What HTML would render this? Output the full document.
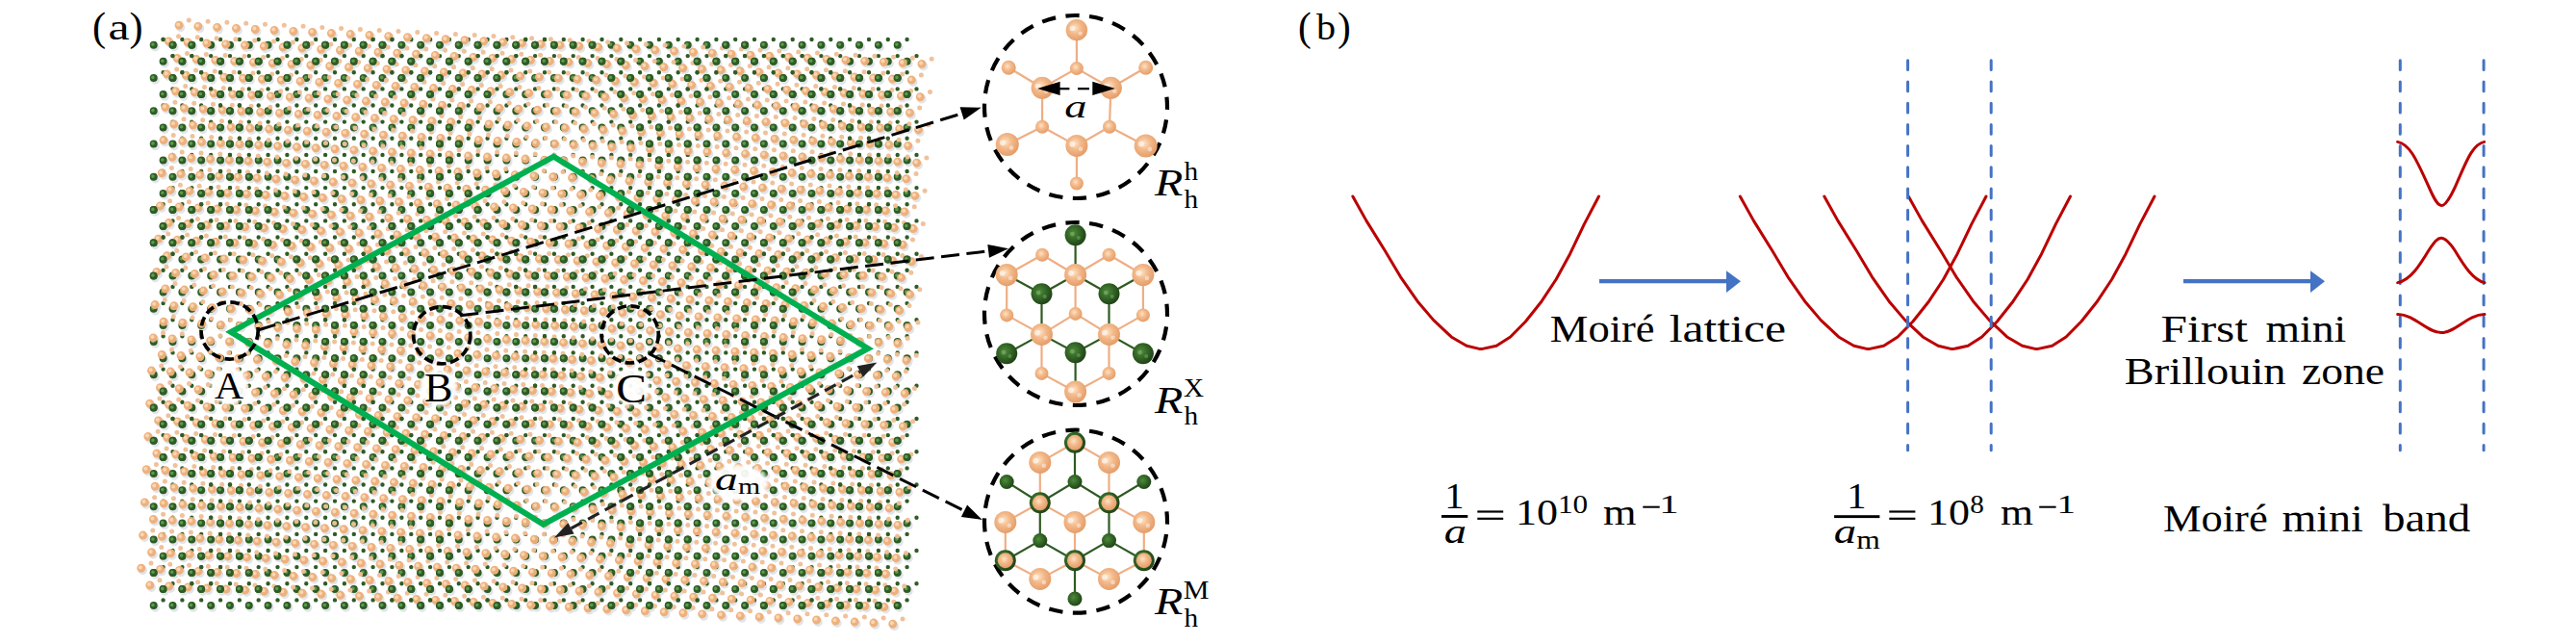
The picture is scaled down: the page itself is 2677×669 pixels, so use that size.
<!DOCTYPE html><html><head><meta charset="utf-8"><style>html,body{margin:0;padding:0;background:#fff;width:2677px;height:669px;overflow:hidden}svg{position:absolute;left:0;top:0}text{font-family:"Liberation Serif",serif;fill:#000}</style></head><body>
<svg width="2677" height="669" viewBox="0 0 2677 669">
<defs>
<radialGradient id="gO2" cx="0.42" cy="0.4" r="0.62"><stop offset="0" stop-color="#fde3c6"/><stop offset="0.45" stop-color="#f3b98a"/><stop offset="1" stop-color="#e49c68"/></radialGradient>
<radialGradient id="gG2" cx="0.4" cy="0.4" r="0.65"><stop offset="0" stop-color="#4e8a3c"/><stop offset="0.6" stop-color="#2e5e22"/><stop offset="1" stop-color="#1e3f16"/></radialGradient>
<radialGradient id="halo"><stop offset="0" stop-color="#fff" stop-opacity="0.95"/><stop offset="0.8" stop-color="#fff" stop-opacity="0.92"/><stop offset="1" stop-color="#fff" stop-opacity="0"/></radialGradient>

</defs>
<path fill="none" stroke="#e1e5ea" stroke-width="9.4" stroke-linecap="round" d="M187.7 28.5h0m19.8 1.1h0m19.8 1h0m19.8 1h0m19.8 1.1h0m19.8 1h0m19.8 1h0m19.8 1h0m19.7 1.1h0m19.8 1h0m19.8 1h0m19.8 1.1h0m19.8 1h0m19.8 1h0m19.8 1.1h0m19.8 1h0m19.8 1h0m19.8 1.1h0m19.8 1h0m19.8 1h0m19.8 1h0m19.8 1.1h0m19.8 1h0m19.7 1h0m19.8 1.1h0m19.8 1h0m19.8 1h0m19.8 1.1h0m19.8 1h0m19.8 1h0m19.8 1h0m19.8 1.1h0m19.8 1h0m19.8 1h0m19.8 1.1h0m19.8 1h0m19.8 1h0m19.8 1.1h0m19.7 1h0m19.8 1h0m-782.7 -23.6h0m19.8 1.1h0m19.8 1h0m19.8 1h0m19.8 1.1h0m19.8 1h0m19.8 1h0m19.8 1h0m19.8 1.1h0m19.8 1h0m19.7 1h0m19.8 1.1h0m19.8 1h0m19.8 1h0m19.8 1.1h0m19.8 1h0m19.8 1h0m19.8 1h0m19.8 1.1h0m19.8 1h0m19.8 1h0m19.8 1.1h0m19.8 1h0m19.8 1h0m19.8 1.1h0m19.7 1h0m19.8 1h0m19.8 1h0m19.8 1.1h0m19.8 1h0m19.8 1h0m19.8 1.1h0m19.8 1h0m19.8 1h0m19.8 1.1h0m19.8 1h0m19.8 1h0m19.8 1.1h0m19.8 1h0m19.8 1h0m-763 -22.5h0m19.8 1h0m19.8 1h0m19.8 1h0m19.8 1.1h0m19.8 1h0m19.8 1h0m19.8 1.1h0m19.8 1h0m19.8 1h0m19.8 1.1h0m19.7 1h0m19.8 1h0m19.8 1h0m19.8 1.1h0m19.8 1h0m19.8 1h0m19.8 1.1h0m19.8 1h0m19.8 1h0m19.8 1.1h0m19.8 1h0m19.8 1h0m19.8 1h0m19.8 1.1h0m19.8 1h0m19.7 1h0m19.8 1.1h0m19.8 1h0m19.8 1h0m19.8 1.1h0m19.8 1h0m19.8 1h0m19.8 1.1h0m19.8 1h0m19.8 1h0m19.8 1h0m19.8 1.1h0m19.8 1h0m19.8 1h0m-782.8 -23.6h0m19.8 1.1h0m19.8 1h0m19.8 1h0m19.8 1.1h0m19.8 1h0m19.8 1h0m19.8 1.1h0m19.8 1h0m19.8 1h0m19.8 1h0m19.8 1.1h0m19.8 1h0m19.7 1h0m19.8 1.1h0m19.8 1h0m19.8 1h0m19.8 1.1h0m19.8 1h0m19.8 1h0m19.8 1.1h0m19.8 1h0m19.8 1h0m19.8 1h0m19.8 1.1h0m19.8 1h0m19.8 1h0m19.8 1.1h0m19.7 1h0m19.8 1h0m19.8 1.1h0m19.8 1h0m19.8 1h0m19.8 1h0m19.8 1.1h0m19.8 1h0m19.8 1h0m19.8 1.1h0m19.8 1h0m19.8 1h0m-763 -22.5h0m19.8 1h0m19.8 1h0m19.8 1.1h0m19.8 1h0m19.8 1h0m19.8 1h0m19.8 1.1h0m19.8 1h0m19.8 1h0m19.8 1.1h0m19.8 1h0m19.8 1h0m19.8 1.1h0m19.7 1h0m19.8 1h0m19.8 1.1h0m19.8 1h0m19.8 1h0m19.8 1h0m19.8 1.1h0m19.8 1h0m19.8 1h0m19.8 1.1h0m19.8 1h0m19.8 1h0m19.8 1.1h0m19.8 1h0m19.8 1h0m19.7 1h0m19.8 1.1h0m19.8 1h0m19.8 1h0m19.8 1.1h0m19.8 1h0m19.8 1h0m19.8 1.1h0m19.8 1h0m19.8 1h0m19.8 1h0m-782.7 -23.5h0m19.7 1h0m19.8 1h0m19.8 1h0m19.8 1.1h0m19.8 1h0m19.8 1h0m19.8 1.1h0m19.8 1h0m19.8 1h0m19.8 1.1h0m19.8 1h0m19.8 1h0m19.8 1.1h0m19.8 1h0m19.8 1h0m19.7 1h0m19.8 1.1h0m19.8 1h0m19.8 1h0m19.8 1.1h0m19.8 1h0m19.8 1h0m19.8 1.1h0m19.8 1h0m19.8 1h0m19.8 1h0m19.8 1.1h0m19.8 1h0m19.8 1h0m19.8 1.1h0m19.7 1h0m19.8 1h0m19.8 1.1h0m19.8 1h0m19.8 1h0m19.8 1.1h0m19.8 1h0m19.8 1h0m19.8 1h0m-762.9 -22.5h0m19.8 1h0m19.7 1h0m19.8 1.1h0m19.8 1h0m19.8 1h0m19.8 1.1h0m19.8 1h0m19.8 1h0m19.8 1.1h0m19.8 1h0m19.8 1h0m19.8 1h0m19.8 1.1h0m19.8 1h0m19.8 1h0m19.8 1.1h0m19.7 1h0m19.8 1h0m19.8 1.1h0m19.8 1h0m19.8 1h0m19.8 1h0m19.8 1.1h0m19.8 1h0m19.8 1h0m19.8 1.1h0m19.8 1h0m19.8 1h0m19.8 1.1h0m19.8 1h0m19.7 1h0m19.8 1.1h0m19.8 1h0m19.8 1h0m19.8 1h0m19.8 1.1h0m19.8 1h0m19.8 1h0m19.8 1.1h0m-782.7 -23.6h0m19.8 1h0m19.8 1h0m19.8 1.1h0m19.7 1h0m19.8 1h0m19.8 1.1h0m19.8 1h0m19.8 1h0m19.8 1h0m19.8 1.1h0m19.8 1h0m19.8 1h0m19.8 1.1h0m19.8 1h0m19.8 1h0m19.8 1.1h0m19.8 1h0m19.8 1h0m19.7 1h0m19.8 1.1h0m19.8 1h0m19.8 1h0m19.8 1.1h0m19.8 1h0m19.8 1h0m19.8 1.1h0m19.8 1h0m19.8 1h0m19.8 1.1h0m19.8 1h0m19.8 1h0m19.8 1h0m19.7 1.1h0m19.8 1h0m19.8 1h0m19.8 1.1h0m19.8 1h0m19.8 1h0m19.8 1.1h0m-762.9 -22.6h0m19.8 1h0m19.8 1.1h0m19.8 1h0m19.8 1h0m19.7 1h0m19.8 1.1h0m19.8 1h0m19.8 1h0m19.8 1.1h0m19.8 1h0m19.8 1h0m19.8 1.1h0m19.8 1h0m19.8 1h0m19.8 1h0m19.8 1.1h0m19.8 1h0m19.8 1h0m19.7 1.1h0m19.8 1h0m19.8 1h0m19.8 1.1h0m19.8 1h0m19.8 1h0m19.8 1.1h0m19.8 1h0m19.8 1h0m19.8 1h0m19.8 1.1h0m19.8 1h0m19.8 1h0m19.8 1.1h0m19.8 1h0m19.7 1h0m19.8 1.1h0m19.8 1h0m19.8 1h0m19.8 1h0m19.8 1.1h0m-782.7 -23.6h0m19.8 1h0m19.8 1h0m19.8 1.1h0m19.8 1h0m19.8 1h0m19.8 1.1h0m19.7 1h0m19.8 1h0m19.8 1.1h0m19.8 1h0m19.8 1h0m19.8 1h0m19.8 1.1h0m19.8 1h0m19.8 1h0m19.8 1.1h0m19.8 1h0m19.8 1h0m19.8 1.1h0m19.8 1h0m19.7 1h0m19.8 1.1h0m19.8 1h0m19.8 1h0m19.8 1h0m19.8 1.1h0m19.8 1h0m19.8 1h0m19.8 1.1h0m19.8 1h0m19.8 1h0m19.8 1.1h0m19.8 1h0m19.8 1h0m19.8 1h0m19.7 1.1h0m19.8 1h0m19.8 1h0m19.8 1.1h0m-762.9 -22.6h0m19.8 1h0m19.8 1.1h0m19.8 1h0m19.8 1h0m19.8 1.1h0m19.8 1h0m19.8 1h0m19.7 1h0m19.8 1.1h0m19.8 1h0m19.8 1h0m19.8 1.1h0m19.8 1h0m19.8 1h0m19.8 1.1h0m19.8 1h0m19.8 1h0m19.8 1.1h0m19.8 1h0m19.8 1h0m19.8 1h0m19.7 1.1h0m19.8 1h0m19.8 1h0m19.8 1.1h0m19.8 1h0m19.8 1h0m19.8 1.1h0m19.8 1h0m19.8 1h0m19.8 1h0m19.8 1.1h0m19.8 1h0m19.8 1h0m19.8 1.1h0m19.8 1h0m19.7 1h0m19.8 1.1h0m19.8 1h0m-782.7 -23.6h0m19.8 1h0m19.8 1.1h0m19.8 1h0m19.8 1h0m19.8 1h0m19.8 1.1h0m19.8 1h0m19.8 1h0m19.7 1.1h0m19.8 1h0m19.8 1h0m19.8 1.1h0m19.8 1h0m19.8 1h0m19.8 1.1h0m19.8 1h0m19.8 1h0m19.8 1h0m19.8 1.1h0m19.8 1h0m19.8 1h0m19.8 1.1h0m19.8 1h0m19.7 1h0m19.8 1.1h0m19.8 1h0m19.8 1h0m19.8 1h0m19.8 1.1h0m19.8 1h0m19.8 1h0m19.8 1.1h0m19.8 1h0m19.8 1h0m19.8 1.1h0m19.8 1h0m19.8 1h0m19.8 1.1h0m19.7 1h0m-762.9 -22.6h0m19.8 1h0m19.8 1.1h0m19.8 1h0m19.8 1h0m19.8 1.1h0m19.8 1h0m19.8 1h0m19.8 1.1h0m19.8 1h0m19.7 1h0m19.8 1.1h0m19.8 1h0m19.8 1h0m19.8 1h0m19.8 1.1h0m19.8 1h0m19.8 1h0m19.8 1.1h0m19.8 1h0m19.8 1h0m19.8 1.1h0m19.8 1h0m19.8 1h0m19.8 1h0m19.7 1.1h0m19.8 1h0m19.8 1h0m19.8 1.1h0m19.8 1h0m19.8 1h0m19.8 1.1h0m19.8 1h0m19.8 1h0m19.8 1.1h0m19.8 1h0m19.8 1h0m19.8 1h0m19.8 1.1h0m19.8 1h0m-782.8 -23.6h0m19.8 1h0m19.8 1.1h0m19.8 1h0m19.8 1h0m19.8 1.1h0m19.8 1h0m19.8 1h0m19.8 1.1h0m19.8 1h0m19.8 1h0m19.8 1h0m19.7 1.1h0m19.8 1h0m19.8 1h0m19.8 1.1h0m19.8 1h0m19.8 1h0m19.8 1.1h0m19.8 1h0m19.8 1h0m19.8 1h0m19.8 1.1h0m19.8 1h0m19.8 1h0m19.8 1.1h0m19.8 1h0m19.7 1h0m19.8 1.1h0m19.8 1h0m19.8 1h0m19.8 1.1h0m19.8 1h0m19.8 1h0m19.8 1h0m19.8 1.1h0m19.8 1h0m19.8 1h0m19.8 1.1h0m19.8 1h0m-763 -22.6h0m19.8 1.1h0m19.8 1h0m19.8 1h0m19.8 1.1h0m19.8 1h0m19.8 1h0m19.8 1h0m19.8 1.1h0m19.8 1h0m19.8 1h0m19.8 1.1h0m19.8 1h0m19.7 1h0m19.8 1.1h0m19.8 1h0m19.8 1h0m19.8 1h0m19.8 1.1h0m19.8 1h0m19.8 1h0m19.8 1.1h0m19.8 1h0m19.8 1h0m19.8 1.1h0m19.8 1h0m19.8 1h0m19.8 1.1h0m19.7 1h0m19.8 1h0m19.8 1h0m19.8 1.1h0m19.8 1h0m19.8 1h0m19.8 1.1h0m19.8 1h0m19.8 1h0m19.8 1.1h0m19.8 1h0m19.8 1h0m-782.8 -23.6h0m19.8 1.1h0m19.8 1h0m19.8 1h0m19.8 1h0m19.8 1.1h0m19.8 1h0m19.8 1h0m19.8 1.1h0m19.8 1h0m19.8 1h0m19.8 1.1h0m19.8 1h0m19.8 1h0m19.8 1h0m19.7 1.1h0m19.8 1h0m19.8 1h0m19.8 1.1h0m19.8 1h0m19.8 1h0m19.8 1.1h0m19.8 1h0m19.8 1h0m19.8 1.1h0m19.8 1h0m19.8 1h0m19.8 1h0m19.8 1.1h0m19.8 1h0m19.7 1h0m19.8 1.1h0m19.8 1h0m19.8 1h0m19.8 1.1h0m19.8 1h0m19.8 1h0m19.8 1h0m19.8 1.1h0m19.8 1h0m-762.9 -22.6h0m19.7 1.1h0m19.8 1h0m19.8 1h0m19.8 1.1h0m19.8 1h0m19.8 1h0m19.8 1.1h0m19.8 1h0m19.8 1h0m19.8 1.1h0m19.8 1h0m19.8 1h0m19.8 1h0m19.8 1.1h0m19.8 1h0m19.7 1h0m19.8 1.1h0m19.8 1h0m19.8 1h0m19.8 1.1h0m19.8 1h0m19.8 1h0m19.8 1h0m19.8 1.1h0m19.8 1h0m19.8 1h0m19.8 1.1h0m19.8 1h0m19.8 1h0m19.8 1.1h0m19.7 1h0m19.8 1h0m19.8 1h0m19.8 1.1h0m19.8 1h0m19.8 1h0m19.8 1.1h0m19.8 1h0m19.8 1h0m-782.7 -23.6h0m19.8 1.1h0m19.8 1h0m19.7 1h0m19.8 1.1h0m19.8 1h0m19.8 1h0m19.8 1.1h0m19.8 1h0m19.8 1h0m19.8 1h0m19.8 1.1h0m19.8 1h0m19.8 1h0m19.8 1.1h0m19.8 1h0m19.8 1h0m19.8 1.1h0m19.7 1h0m19.8 1h0m19.8 1h0m19.8 1.1h0m19.8 1h0m19.8 1h0m19.8 1.1h0m19.8 1h0m19.8 1h0m19.8 1.1h0m19.8 1h0m19.8 1h0m19.8 1h0m19.8 1.1h0m19.8 1h0m19.7 1h0m19.8 1.1h0m19.8 1h0m19.8 1h0m19.8 1.1h0m19.8 1h0m19.8 1h0m-762.9 -22.5h0m19.8 1h0m19.8 1h0m19.8 1.1h0m19.7 1h0m19.8 1h0m19.8 1h0m19.8 1.1h0m19.8 1h0m19.8 1h0m19.8 1.1h0m19.8 1h0m19.8 1h0m19.8 1.1h0m19.8 1h0m19.8 1h0m19.8 1h0m19.8 1.1h0m19.8 1h0m19.7 1h0m19.8 1.1h0m19.8 1h0m19.8 1h0m19.8 1.1h0m19.8 1h0m19.8 1h0m19.8 1.1h0m19.8 1h0m19.8 1h0m19.8 1h0m19.8 1.1h0m19.8 1h0m19.8 1h0m19.7 1.1h0m19.8 1h0m19.8 1h0m19.8 1.1h0m19.8 1h0m19.8 1h0m19.8 1h0m-782.7 -23.5h0m19.8 1h0m19.8 1h0m19.8 1h0m19.8 1.1h0m19.8 1h0m19.7 1h0m19.8 1.1h0m19.8 1h0m19.8 1h0m19.8 1.1h0m19.8 1h0m19.8 1h0m19.8 1h0m19.8 1.1h0m19.8 1h0m19.8 1h0m19.8 1.1h0m19.8 1h0m19.8 1h0m19.8 1.1h0m19.7 1h0m19.8 1h0m19.8 1.1h0m19.8 1h0m19.8 1h0m19.8 1h0m19.8 1.1h0m19.8 1h0m19.8 1h0m19.8 1.1h0m19.8 1h0m19.8 1h0m19.8 1.1h0m19.8 1h0m19.7 1h0m19.8 1h0m19.8 1.1h0m19.8 1h0m19.8 1h0m-762.9 -22.5h0m19.8 1h0m19.8 1h0m19.8 1.1h0m19.8 1h0m19.8 1h0m19.8 1.1h0m19.7 1h0m19.8 1h0m19.8 1h0m19.8 1.1h0m19.8 1h0m19.8 1h0m19.8 1.1h0m19.8 1h0m19.8 1h0m19.8 1.1h0m19.8 1h0m19.8 1h0m19.8 1.1h0m19.8 1h0m19.7 1h0m19.8 1h0m19.8 1.1h0m19.8 1h0m19.8 1h0m19.8 1.1h0m19.8 1h0m19.8 1h0m19.8 1.1h0m19.8 1h0m19.8 1h0m19.8 1h0m19.8 1.1h0m19.8 1h0m19.8 1h0m19.7 1.1h0m19.8 1h0m19.8 1h0m19.8 1.1h0m-782.7 -23.6h0m19.8 1h0m19.8 1h0m19.8 1.1h0m19.8 1h0m19.8 1h0m19.8 1h0m19.8 1.1h0m19.8 1h0m19.7 1h0m19.8 1.1h0m19.8 1h0m19.8 1h0m19.8 1.1h0m19.8 1h0m19.8 1h0m19.8 1.1h0m19.8 1h0m19.8 1h0m19.8 1h0m19.8 1.1h0m19.8 1h0m19.8 1h0m19.7 1.1h0m19.8 1h0m19.8 1h0m19.8 1.1h0m19.8 1h0m19.8 1h0m19.8 1h0m19.8 1.1h0m19.8 1h0m19.8 1h0m19.8 1.1h0m19.8 1h0m19.8 1h0m19.8 1.1h0m19.8 1h0m19.7 1h0m19.8 1.1h0m-762.9 -22.6h0m19.8 1h0m19.8 1h0m19.8 1.1h0m19.8 1h0m19.8 1h0m19.8 1.1h0m19.8 1h0m19.8 1h0m19.8 1.1h0m19.7 1h0m19.8 1h0m19.8 1.1h0m19.8 1h0m19.8 1h0m19.8 1h0m19.8 1.1h0m19.8 1h0m19.8 1h0m19.8 1.1h0m19.8 1h0m19.8 1h0m19.8 1.1h0m19.8 1h0m19.7 1h0m19.8 1h0m19.8 1.1h0m19.8 1h0m19.8 1h0m19.8 1.1h0m19.8 1h0m19.8 1h0m19.8 1.1h0m19.8 1h0m19.8 1h0m19.8 1.1h0m19.8 1h0m19.8 1h0m19.8 1h0m19.7 1.1h0m-782.7 -23.6h0m19.8 1h0m19.8 1h0m19.8 1.1h0m19.8 1h0m19.8 1h0m19.8 1.1h0m19.8 1h0m19.8 1h0m19.8 1.1h0m19.8 1h0m19.7 1h0m19.8 1h0m19.8 1.1h0m19.8 1h0m19.8 1h0m19.8 1.1h0m19.8 1h0m19.8 1h0m19.8 1.1h0m19.8 1h0m19.8 1h0m19.8 1h0m19.8 1.1h0m19.8 1h0m19.8 1h0m19.7 1.1h0m19.8 1h0m19.8 1h0m19.8 1.1h0m19.8 1h0m19.8 1h0m19.8 1.1h0m19.8 1h0m19.8 1h0m19.8 1h0m19.8 1.1h0m19.8 1h0m19.8 1h0m19.8 1.1h0m-763 -22.6h0m19.8 1h0m19.8 1.1h0m19.8 1h0m19.8 1h0m19.8 1.1h0m19.8 1h0m19.8 1h0m19.8 1h0m19.8 1.1h0m19.8 1h0m19.8 1h0m19.7 1.1h0m19.8 1h0m19.8 1h0m19.8 1.1h0m19.8 1h0m19.8 1h0m19.8 1h0m19.8 1.1h0m19.8 1h0m19.8 1h0m19.8 1.1h0m19.8 1h0m19.8 1h0m19.8 1.1h0m19.8 1h0m19.7 1h0m19.8 1.1h0m19.8 1h0m19.8 1h0m19.8 1h0m19.8 1.1h0m19.8 1h0m19.8 1h0m19.8 1.1h0m19.8 1h0m19.8 1h0m19.8 1.1h0m19.8 1h0m-782.8 -23.6h0m19.8 1h0m19.8 1.1h0m19.8 1h0m19.8 1h0m19.8 1h0m19.8 1.1h0m19.8 1h0m19.8 1h0m19.8 1.1h0m19.8 1h0m19.8 1h0m19.8 1.1h0m19.8 1h0m19.7 1h0m19.8 1h0m19.8 1.1h0m19.8 1h0m19.8 1h0m19.8 1.1h0m19.8 1h0m19.8 1h0m19.8 1.1h0m19.8 1h0m19.8 1h0m19.8 1.1h0m19.8 1h0m19.8 1h0m19.8 1h0m19.7 1.1h0m19.8 1h0m19.8 1h0m19.8 1.1h0m19.8 1h0m19.8 1h0m19.8 1.1h0m19.8 1h0m19.8 1h0m19.8 1h0m19.8 1.1h0m-763 -22.6h0m19.8 1h0m19.8 1.1h0m19.8 1h0m19.8 1h0m19.8 1.1h0m19.8 1h0m19.8 1h0m19.8 1.1h0m19.8 1h0m19.8 1h0m19.8 1h0m19.8 1.1h0m19.8 1h0m19.8 1h0m19.7 1.1h0m19.8 1h0m19.8 1h0m19.8 1.1h0m19.8 1h0m19.8 1h0m19.8 1.1h0m19.8 1h0m19.8 1h0m19.8 1h0m19.8 1.1h0m19.8 1h0m19.8 1h0m19.8 1.1h0m19.8 1h0m19.7 1h0m19.8 1.1h0m19.8 1h0m19.8 1h0m19.8 1h0m19.8 1.1h0m19.8 1h0m19.8 1h0m19.8 1.1h0m19.8 1h0m-782.7 -23.6h0m19.8 1h0m19.7 1.1h0m19.8 1h0m19.8 1h0m19.8 1.1h0m19.8 1h0m19.8 1h0m19.8 1h0m19.8 1.1h0m19.8 1h0m19.8 1h0m19.8 1.1h0m19.8 1h0m19.8 1h0m19.8 1.1h0m19.8 1h0m19.7 1h0m19.8 1.1h0m19.8 1h0m19.8 1h0m19.8 1h0m19.8 1.1h0m19.8 1h0m19.8 1h0m19.8 1.1h0m19.8 1h0m19.8 1h0m19.8 1.1h0m19.8 1h0m19.8 1h0m19.8 1h0m19.7 1.1h0m19.8 1h0m19.8 1h0m19.8 1.1h0m19.8 1h0m19.8 1h0m19.8 1.1h0m19.8 1h0m-762.9 -22.6h0m19.8 1.1h0m19.8 1h0m19.7 1h0m19.8 1.1h0m19.8 1h0m19.8 1h0m19.8 1h0m19.8 1.1h0m19.8 1h0m19.8 1h0m19.8 1.1h0m19.8 1h0m19.8 1h0m19.8 1.1h0m19.8 1h0m19.8 1h0m19.8 1h0m19.7 1.1h0m19.8 1h0m19.8 1h0m19.8 1.1h0m19.8 1h0m19.8 1h0m19.8 1.1h0m19.8 1h0m19.8 1h0m19.8 1h0m19.8 1.1h0m19.8 1h0m19.8 1h0m19.8 1.1h0m19.8 1h0m19.7 1h0m19.8 1.1h0m19.8 1h0m19.8 1h0m19.8 1.1h0m19.8 1h0m19.8 1h0m-782.7 -23.6h0m19.8 1.1h0m19.8 1h0m19.8 1h0m19.8 1h0m19.7 1.1h0m19.8 1h0m19.8 1h0m19.8 1.1h0m19.8 1h0m19.8 1h0m19.8 1.1h0m19.8 1h0m19.8 1h0m19.8 1h0m19.8 1.1h0m19.8 1h0m19.8 1h0m19.8 1.1h0m19.8 1h0m19.7 1h0m19.8 1.1h0m19.8 1h0m19.8 1h0m19.8 1h0m19.8 1.1h0m19.8 1h0m19.8 1h0m19.8 1.1h0m19.8 1h0m19.8 1h0m19.8 1.1h0m19.8 1h0m19.8 1h0m19.7 1.1h0m19.8 1h0m19.8 1h0m19.8 1h0m19.8 1.1h0m19.8 1h0m-762.9 -22.6h0m19.8 1.1h0m19.8 1h0m19.8 1h0m19.8 1.1h0m19.8 1h0m19.7 1h0m19.8 1.1h0m19.8 1h0m19.8 1h0m19.8 1h0m19.8 1.1h0m19.8 1h0m19.8 1h0m19.8 1.1h0m19.8 1h0m19.8 1h0m19.8 1.1h0m19.8 1h0m19.8 1h0m19.8 1.1h0m19.7 1h0m19.8 1h0m19.8 1h0m19.8 1.1h0m19.8 1h0m19.8 1h0m19.8 1.1h0m19.8 1h0m19.8 1h0m19.8 1.1h0m19.8 1h0m19.8 1h0m19.8 1h0m19.8 1.1h0m19.7 1h0m19.8 1h0m19.8 1.1h0m19.8 1h0m19.8 1h0m-782.7 -23.6h0m19.8 1.1h0m19.8 1h0m19.8 1h0m19.8 1.1h0m19.8 1h0m19.8 1h0m19.8 1h0m19.7 1.1h0m19.8 1h0m19.8 1h0m19.8 1.1h0m19.8 1h0m19.8 1h0m19.8 1.1h0m19.8 1h0m19.8 1h0m19.8 1.1h0m19.8 1h0m19.8 1h0m19.8 1h0m19.8 1.1h0m19.8 1h0m19.7 1h0m19.8 1.1h0m19.8 1h0m19.8 1h0m19.8 1.1h0m19.8 1h0m19.8 1h0m19.8 1h0m19.8 1.1h0m19.8 1h0m19.8 1h0m19.8 1.1h0m19.8 1h0m19.8 1h0m19.7 1.1h0m19.8 1h0m19.8 1h0m-762.9 -22.5h0m19.8 1h0m19.8 1h0m19.8 1h0m19.8 1.1h0m19.8 1h0m19.8 1h0m19.8 1.1h0m19.8 1h0m19.7 1h0m19.8 1.1h0m19.8 1h0m19.8 1h0m19.8 1.1h0m19.8 1h0m19.8 1h0m19.8 1h0m19.8 1.1h0m19.8 1h0m19.8 1h0m19.8 1.1h0m19.8 1h0m19.8 1h0m19.7 1.1h0m19.8 1h0m19.8 1h0m19.8 1h0m19.8 1.1h0m19.8 1h0m19.8 1h0m19.8 1.1h0m19.8 1h0m19.8 1h0m19.8 1.1h0m19.8 1h0m19.8 1h0m19.8 1h0m19.8 1.1h0m19.7 1h0m19.8 1h0m-782.7 -23.6h0m19.8 1.1h0m19.8 1h0m19.8 1h0m19.8 1.1h0m19.8 1h0m19.8 1h0m19.8 1.1h0m19.8 1h0m19.8 1h0m19.8 1.1h0m19.7 1h0m19.8 1h0m19.8 1h0m19.8 1.1h0m19.8 1h0m19.8 1h0m19.8 1.1h0m19.8 1h0m19.8 1h0m19.8 1.1h0m19.8 1h0m19.8 1h0m19.8 1h0m19.8 1.1h0m19.7 1h0m19.8 1h0m19.8 1.1h0m19.8 1h0m19.8 1h0m19.8 1.1h0m19.8 1h0m19.8 1h0m19.8 1.1h0m19.8 1h0m19.8 1h0m19.8 1h0m19.8 1.1h0m19.8 1h0m19.8 1h0m-763 -22.5h0m19.8 1h0m19.8 1h0m19.8 1.1h0m19.8 1h0m19.8 1h0m19.8 1.1h0m19.8 1h0m19.8 1h0m19.8 1h0m19.8 1.1h0m19.8 1h0m19.7 1h0m19.8 1.1h0m19.8 1h0m19.8 1h0m19.8 1.1h0m19.8 1h0m19.8 1h0m19.8 1h0m19.8 1.1h0m19.8 1h0m19.8 1h0m19.8 1.1h0m19.8 1h0m19.8 1h0m19.7 1.1h0m19.8 1h0m19.8 1h0m19.8 1.1h0m19.8 1h0m19.8 1h0m19.8 1h0m19.8 1.1h0m19.8 1h0m19.8 1h0m19.8 1.1h0m19.8 1h0m19.8 1h0m19.8 1.1h0"/>
<path fill="none" stroke="#e1e5ea" stroke-width="9.0" stroke-linecap="round" d="M161.3 48.9h0m19.8 0h0m19.8 0h0m19.9 0h0m19.8 0h0m19.8 0h0m19.8 0h0m19.8 0h0m19.9 0h0m19.8 0h0m19.8 0h0m19.8 0h0m19.8 0h0m19.9 0h0m19.8 0h0m19.8 0h0m19.8 0h0m19.8 0h0m19.9 0h0m19.8 0h0m19.8 0h0m19.8 0h0m19.8 0h0m19.9 0h0m19.8 0h0m19.8 0h0m19.8 0h0m19.8 0h0m19.9 0h0m19.8 0h0m19.8 0h0m19.8 0h0m19.8 0h0m19.9 0h0m19.8 0h0m19.8 0h0m19.8 0h0m19.8 0h0m19.9 0h0m19.8 0h0m-763.1 17.1h0m19.8 0h0m19.8 0h0m19.9 0h0m19.8 0h0m19.8 0h0m19.8 0h0m19.9 0h0m19.8 0h0m19.8 0h0m19.8 0h0m19.8 0h0m19.8 0h0m19.9 0h0m19.8 0h0m19.8 0h0m19.8 0h0m19.9 0h0m19.8 0h0m19.8 0h0m19.8 0h0m19.8 0h0m19.8 0h0m19.9 0h0m19.8 0h0m19.8 0h0m19.8 0h0m19.8 0h0m19.9 0h0m19.8 0h0m19.8 0h0m19.8 0h0m19.8 0h0m19.9 0h0m19.8 0h0m19.8 0h0m19.8 0h0m19.9 0h0m19.8 0h0m19.8 0h0m-782.9 17.2h0m19.8 0h0m19.8 0h0m19.9 0h0m19.8 0h0m19.8 0h0m19.8 0h0m19.8 0h0m19.9 0h0m19.8 0h0m19.8 0h0m19.8 0h0m19.8 0h0m19.9 0h0m19.8 0h0m19.8 0h0m19.8 0h0m19.8 0h0m19.9 0h0m19.8 0h0m19.8 0h0m19.8 0h0m19.8 0h0m19.9 0h0m19.8 0h0m19.8 0h0m19.8 0h0m19.8 0h0m19.9 0h0m19.8 0h0m19.8 0h0m19.8 0h0m19.8 0h0m19.9 0h0m19.8 0h0m19.8 0h0m19.8 0h0m19.8 0h0m19.9 0h0m19.8 0h0m-763.1 17.1h0m19.8 0h0m19.8 0h0m19.9 0h0m19.8 0h0m19.8 0h0m19.8 0h0m19.9 0h0m19.8 0h0m19.8 0h0m19.8 0h0m19.8 0h0m19.8 0h0m19.9 0h0m19.8 0h0m19.8 0h0m19.8 0h0m19.9 0h0m19.8 0h0m19.8 0h0m19.8 0h0m19.8 0h0m19.8 0h0m19.9 0h0m19.8 0h0m19.8 0h0m19.8 0h0m19.8 0h0m19.9 0h0m19.8 0h0m19.8 0h0m19.8 0h0m19.8 0h0m19.9 0h0m19.8 0h0m19.8 0h0m19.8 0h0m19.9 0h0m19.8 0h0m19.8 0h0m-782.9 17.1h0m19.8 0h0m19.8 0h0m19.9 0h0m19.8 0h0m19.8 0h0m19.8 0h0m19.8 0h0m19.9 0h0m19.8 0h0m19.8 0h0m19.8 0h0m19.8 0h0m19.9 0h0m19.8 0h0m19.8 0h0m19.8 0h0m19.8 0h0m19.9 0h0m19.8 0h0m19.8 0h0m19.8 0h0m19.8 0h0m19.9 0h0m19.8 0h0m19.8 0h0m19.8 0h0m19.8 0h0m19.9 0h0m19.8 0h0m19.8 0h0m19.8 0h0m19.8 0h0m19.9 0h0m19.8 0h0m19.8 0h0m19.8 0h0m19.8 0h0m19.9 0h0m19.8 0h0m-763.1 17.1h0m19.8 0h0m19.8 0h0m19.9 0h0m19.8 0h0m19.8 0h0m19.8 0h0m19.9 0h0m19.8 0h0m19.8 0h0m19.8 0h0m19.8 0h0m19.8 0h0m19.9 0h0m19.8 0h0m19.8 0h0m19.8 0h0m19.9 0h0m19.8 0h0m19.8 0h0m19.8 0h0m19.8 0h0m19.8 0h0m19.9 0h0m19.8 0h0m19.8 0h0m19.8 0h0m19.8 0h0m19.9 0h0m19.8 0h0m19.8 0h0m19.8 0h0m19.8 0h0m19.9 0h0m19.8 0h0m19.8 0h0m19.8 0h0m19.9 0h0m19.8 0h0m19.8 0h0m-782.9 17.2h0m19.8 0h0m19.8 0h0m19.9 0h0m19.8 0h0m19.8 0h0m19.8 0h0m19.8 0h0m19.9 0h0m19.8 0h0m19.8 0h0m19.8 0h0m19.8 0h0m19.9 0h0m19.8 0h0m19.8 0h0m19.8 0h0m19.8 0h0m19.9 0h0m19.8 0h0m19.8 0h0m19.8 0h0m19.8 0h0m19.9 0h0m19.8 0h0m19.8 0h0m19.8 0h0m19.8 0h0m19.9 0h0m19.8 0h0m19.8 0h0m19.8 0h0m19.8 0h0m19.9 0h0m19.8 0h0m19.8 0h0m19.8 0h0m19.8 0h0m19.9 0h0m19.8 0h0m-763.1 17.1h0m19.8 0h0m19.8 0h0m19.9 0h0m19.8 0h0m19.8 0h0m19.8 0h0m19.9 0h0m19.8 0h0m19.8 0h0m19.8 0h0m19.8 0h0m19.8 0h0m19.9 0h0m19.8 0h0m19.8 0h0m19.8 0h0m19.9 0h0m19.8 0h0m19.8 0h0m19.8 0h0m19.8 0h0m19.8 0h0m19.9 0h0m19.8 0h0m19.8 0h0m19.8 0h0m19.8 0h0m19.9 0h0m19.8 0h0m19.8 0h0m19.8 0h0m19.8 0h0m19.9 0h0m19.8 0h0m19.8 0h0m19.8 0h0m19.9 0h0m19.8 0h0m19.8 0h0m-782.9 17.1h0m19.8 0h0m19.8 0h0m19.9 0h0m19.8 0h0m19.8 0h0m19.8 0h0m19.8 0h0m19.9 0h0m19.8 0h0m19.8 0h0m19.8 0h0m19.8 0h0m19.9 0h0m19.8 0h0m19.8 0h0m19.8 0h0m19.8 0h0m19.9 0h0m19.8 0h0m19.8 0h0m19.8 0h0m19.8 0h0m19.9 0h0m19.8 0h0m19.8 0h0m19.8 0h0m19.8 0h0m19.9 0h0m19.8 0h0m19.8 0h0m19.8 0h0m19.8 0h0m19.9 0h0m19.8 0h0m19.8 0h0m19.8 0h0m19.8 0h0m19.9 0h0m19.8 0h0m-763.1 17.2h0m19.8 0h0m19.8 0h0m19.9 0h0m19.8 0h0m19.8 0h0m19.8 0h0m19.9 0h0m19.8 0h0m19.8 0h0m19.8 0h0m19.8 0h0m19.8 0h0m19.9 0h0m19.8 0h0m19.8 0h0m19.8 0h0m19.9 0h0m19.8 0h0m19.8 0h0m19.8 0h0m19.8 0h0m19.8 0h0m19.9 0h0m19.8 0h0m19.8 0h0m19.8 0h0m19.8 0h0m19.9 0h0m19.8 0h0m19.8 0h0m19.8 0h0m19.8 0h0m19.9 0h0m19.8 0h0m19.8 0h0m19.8 0h0m19.9 0h0m19.8 0h0m19.8 0h0m-782.9 17.1h0m19.8 0h0m19.8 0h0m19.9 0h0m19.8 0h0m19.8 0h0m19.8 0h0m19.8 0h0m19.9 0h0m19.8 0h0m19.8 0h0m19.8 0h0m19.8 0h0m19.9 0h0m19.8 0h0m19.8 0h0m19.8 0h0m19.8 0h0m19.9 0h0m19.8 0h0m19.8 0h0m19.8 0h0m19.8 0h0m19.9 0h0m19.8 0h0m19.8 0h0m19.8 0h0m19.8 0h0m19.9 0h0m19.8 0h0m19.8 0h0m19.8 0h0m19.8 0h0m19.9 0h0m19.8 0h0m19.8 0h0m19.8 0h0m19.8 0h0m19.9 0h0m19.8 0h0m-763.1 17.1h0m19.8 0h0m19.8 0h0m19.9 0h0m19.8 0h0m19.8 0h0m19.8 0h0m19.9 0h0m19.8 0h0m19.8 0h0m19.8 0h0m19.8 0h0m19.8 0h0m19.9 0h0m19.8 0h0m19.8 0h0m19.8 0h0m19.9 0h0m19.8 0h0m19.8 0h0m19.8 0h0m19.8 0h0m19.8 0h0m19.9 0h0m19.8 0h0m19.8 0h0m19.8 0h0m19.8 0h0m19.9 0h0m19.8 0h0m19.8 0h0m19.8 0h0m19.8 0h0m19.9 0h0m19.8 0h0m19.8 0h0m19.8 0h0m19.9 0h0m19.8 0h0m19.8 0h0m-782.9 17.2h0m19.8 0h0m19.8 0h0m19.9 0h0m19.8 0h0m19.8 0h0m19.8 0h0m19.8 0h0m19.9 0h0m19.8 0h0m19.8 0h0m19.8 0h0m19.8 0h0m19.9 0h0m19.8 0h0m19.8 0h0m19.8 0h0m19.8 0h0m19.9 0h0m19.8 0h0m19.8 0h0m19.8 0h0m19.8 0h0m19.9 0h0m19.8 0h0m19.8 0h0m19.8 0h0m19.8 0h0m19.9 0h0m19.8 0h0m19.8 0h0m19.8 0h0m19.8 0h0m19.9 0h0m19.8 0h0m19.8 0h0m19.8 0h0m19.8 0h0m19.9 0h0m19.8 0h0m-763.1 17.1h0m19.8 0h0m19.8 0h0m19.9 0h0m19.8 0h0m19.8 0h0m19.8 0h0m19.9 0h0m19.8 0h0m19.8 0h0m19.8 0h0m19.8 0h0m19.8 0h0m19.9 0h0m19.8 0h0m19.8 0h0m19.8 0h0m19.9 0h0m19.8 0h0m19.8 0h0m19.8 0h0m19.8 0h0m19.8 0h0m19.9 0h0m19.8 0h0m19.8 0h0m19.8 0h0m19.8 0h0m19.9 0h0m19.8 0h0m19.8 0h0m19.8 0h0m19.8 0h0m19.9 0h0m19.8 0h0m19.8 0h0m19.8 0h0m19.9 0h0m19.8 0h0m19.8 0h0m-782.9 17.1h0m19.8 0h0m19.8 0h0m19.9 0h0m19.8 0h0m19.8 0h0m19.8 0h0m19.8 0h0m19.9 0h0m19.8 0h0m19.8 0h0m19.8 0h0m19.8 0h0m19.9 0h0m19.8 0h0m19.8 0h0m19.8 0h0m19.8 0h0m19.9 0h0m19.8 0h0m19.8 0h0m19.8 0h0m19.8 0h0m19.9 0h0m19.8 0h0m19.8 0h0m19.8 0h0m19.8 0h0m19.9 0h0m19.8 0h0m19.8 0h0m19.8 0h0m19.8 0h0m19.9 0h0m19.8 0h0m19.8 0h0m19.8 0h0m19.8 0h0m19.9 0h0m19.8 0h0m-763.1 17.1h0m19.8 0h0m19.8 0h0m19.9 0h0m19.8 0h0m19.8 0h0m19.8 0h0m19.9 0h0m19.8 0h0m19.8 0h0m19.8 0h0m19.8 0h0m19.8 0h0m19.9 0h0m19.8 0h0m19.8 0h0m19.8 0h0m19.9 0h0m19.8 0h0m19.8 0h0m19.8 0h0m19.8 0h0m19.8 0h0m19.9 0h0m19.8 0h0m19.8 0h0m19.8 0h0m19.8 0h0m19.9 0h0m19.8 0h0m19.8 0h0m19.8 0h0m19.8 0h0m19.9 0h0m19.8 0h0m19.8 0h0m19.8 0h0m19.9 0h0m19.8 0h0m19.8 0h0m-782.9 17.2h0m19.8 0h0m19.8 0h0m19.9 0h0m19.8 0h0m19.8 0h0m19.8 0h0m19.8 0h0m19.9 0h0m19.8 0h0m19.8 0h0m19.8 0h0m19.8 0h0m19.9 0h0m19.8 0h0m19.8 0h0m19.8 0h0m19.8 0h0m19.9 0h0m19.8 0h0m19.8 0h0m19.8 0h0m19.8 0h0m19.9 0h0m19.8 0h0m19.8 0h0m19.8 0h0m19.8 0h0m19.9 0h0m19.8 0h0m19.8 0h0m19.8 0h0m19.8 0h0m19.9 0h0m19.8 0h0m19.8 0h0m19.8 0h0m19.8 0h0m19.9 0h0m19.8 0h0m-763.1 17.1h0m19.8 0h0m19.8 0h0m19.9 0h0m19.8 0h0m19.8 0h0m19.8 0h0m19.9 0h0m19.8 0h0m19.8 0h0m19.8 0h0m19.8 0h0m19.8 0h0m19.9 0h0m19.8 0h0m19.8 0h0m19.8 0h0m19.9 0h0m19.8 0h0m19.8 0h0m19.8 0h0m19.8 0h0m19.8 0h0m19.9 0h0m19.8 0h0m19.8 0h0m19.8 0h0m19.8 0h0m19.9 0h0m19.8 0h0m19.8 0h0m19.8 0h0m19.8 0h0m19.9 0h0m19.8 0h0m19.8 0h0m19.8 0h0m19.9 0h0m19.8 0h0m19.8 0h0m-782.9 17.1h0m19.8 0h0m19.8 0h0m19.9 0h0m19.8 0h0m19.8 0h0m19.8 0h0m19.8 0h0m19.9 0h0m19.8 0h0m19.8 0h0m19.8 0h0m19.8 0h0m19.9 0h0m19.8 0h0m19.8 0h0m19.8 0h0m19.8 0h0m19.9 0h0m19.8 0h0m19.8 0h0m19.8 0h0m19.8 0h0m19.9 0h0m19.8 0h0m19.8 0h0m19.8 0h0m19.8 0h0m19.9 0h0m19.8 0h0m19.8 0h0m19.8 0h0m19.8 0h0m19.9 0h0m19.8 0h0m19.8 0h0m19.8 0h0m19.8 0h0m19.9 0h0m19.8 0h0m-763.1 17.2h0m19.8 0h0m19.8 0h0m19.9 0h0m19.8 0h0m19.8 0h0m19.8 0h0m19.9 0h0m19.8 0h0m19.8 0h0m19.8 0h0m19.8 0h0m19.8 0h0m19.9 0h0m19.8 0h0m19.8 0h0m19.8 0h0m19.9 0h0m19.8 0h0m19.8 0h0m19.8 0h0m19.8 0h0m19.8 0h0m19.9 0h0m19.8 0h0m19.8 0h0m19.8 0h0m19.8 0h0m19.9 0h0m19.8 0h0m19.8 0h0m19.8 0h0m19.8 0h0m19.9 0h0m19.8 0h0m19.8 0h0m19.8 0h0m19.9 0h0m19.8 0h0m19.8 0h0m-782.9 17.1h0m19.8 0h0m19.8 0h0m19.9 0h0m19.8 0h0m19.8 0h0m19.8 0h0m19.8 0h0m19.9 0h0m19.8 0h0m19.8 0h0m19.8 0h0m19.8 0h0m19.9 0h0m19.8 0h0m19.8 0h0m19.8 0h0m19.8 0h0m19.9 0h0m19.8 0h0m19.8 0h0m19.8 0h0m19.8 0h0m19.9 0h0m19.8 0h0m19.8 0h0m19.8 0h0m19.8 0h0m19.9 0h0m19.8 0h0m19.8 0h0m19.8 0h0m19.8 0h0m19.9 0h0m19.8 0h0m19.8 0h0m19.8 0h0m19.8 0h0m19.9 0h0m19.8 0h0m-763.1 17.1h0m19.8 0h0m19.8 0h0m19.9 0h0m19.8 0h0m19.8 0h0m19.8 0h0m19.9 0h0m19.8 0h0m19.8 0h0m19.8 0h0m19.8 0h0m19.8 0h0m19.9 0h0m19.8 0h0m19.8 0h0m19.8 0h0m19.9 0h0m19.8 0h0m19.8 0h0m19.8 0h0m19.8 0h0m19.8 0h0m19.9 0h0m19.8 0h0m19.8 0h0m19.8 0h0m19.8 0h0m19.9 0h0m19.8 0h0m19.8 0h0m19.8 0h0m19.8 0h0m19.9 0h0m19.8 0h0m19.8 0h0m19.8 0h0m19.9 0h0m19.8 0h0m19.8 0h0m-782.9 17.2h0m19.8 0h0m19.8 0h0m19.9 0h0m19.8 0h0m19.8 0h0m19.8 0h0m19.8 0h0m19.9 0h0m19.8 0h0m19.8 0h0m19.8 0h0m19.8 0h0m19.9 0h0m19.8 0h0m19.8 0h0m19.8 0h0m19.8 0h0m19.9 0h0m19.8 0h0m19.8 0h0m19.8 0h0m19.8 0h0m19.9 0h0m19.8 0h0m19.8 0h0m19.8 0h0m19.8 0h0m19.9 0h0m19.8 0h0m19.8 0h0m19.8 0h0m19.8 0h0m19.9 0h0m19.8 0h0m19.8 0h0m19.8 0h0m19.8 0h0m19.9 0h0m19.8 0h0m-763.1 17.1h0m19.8 0h0m19.8 0h0m19.9 0h0m19.8 0h0m19.8 0h0m19.8 0h0m19.9 0h0m19.8 0h0m19.8 0h0m19.8 0h0m19.8 0h0m19.8 0h0m19.9 0h0m19.8 0h0m19.8 0h0m19.8 0h0m19.9 0h0m19.8 0h0m19.8 0h0m19.8 0h0m19.8 0h0m19.8 0h0m19.9 0h0m19.8 0h0m19.8 0h0m19.8 0h0m19.8 0h0m19.9 0h0m19.8 0h0m19.8 0h0m19.8 0h0m19.8 0h0m19.9 0h0m19.8 0h0m19.8 0h0m19.8 0h0m19.9 0h0m19.8 0h0m19.8 0h0m-782.9 17.1h0m19.8 0h0m19.8 0h0m19.9 0h0m19.8 0h0m19.8 0h0m19.8 0h0m19.8 0h0m19.9 0h0m19.8 0h0m19.8 0h0m19.8 0h0m19.8 0h0m19.9 0h0m19.8 0h0m19.8 0h0m19.8 0h0m19.8 0h0m19.9 0h0m19.8 0h0m19.8 0h0m19.8 0h0m19.8 0h0m19.9 0h0m19.8 0h0m19.8 0h0m19.8 0h0m19.8 0h0m19.9 0h0m19.8 0h0m19.8 0h0m19.8 0h0m19.8 0h0m19.9 0h0m19.8 0h0m19.8 0h0m19.8 0h0m19.8 0h0m19.9 0h0m19.8 0h0m-763.1 17.2h0m19.8 0h0m19.8 0h0m19.9 0h0m19.8 0h0m19.8 0h0m19.8 0h0m19.9 0h0m19.8 0h0m19.8 0h0m19.8 0h0m19.8 0h0m19.8 0h0m19.9 0h0m19.8 0h0m19.8 0h0m19.8 0h0m19.9 0h0m19.8 0h0m19.8 0h0m19.8 0h0m19.8 0h0m19.8 0h0m19.9 0h0m19.8 0h0m19.8 0h0m19.8 0h0m19.8 0h0m19.9 0h0m19.8 0h0m19.8 0h0m19.8 0h0m19.8 0h0m19.9 0h0m19.8 0h0m19.8 0h0m19.8 0h0m19.9 0h0m19.8 0h0m19.8 0h0m-782.9 17.1h0m19.8 0h0m19.8 0h0m19.9 0h0m19.8 0h0m19.8 0h0m19.8 0h0m19.8 0h0m19.9 0h0m19.8 0h0m19.8 0h0m19.8 0h0m19.8 0h0m19.9 0h0m19.8 0h0m19.8 0h0m19.8 0h0m19.8 0h0m19.9 0h0m19.8 0h0m19.8 0h0m19.8 0h0m19.8 0h0m19.9 0h0m19.8 0h0m19.8 0h0m19.8 0h0m19.8 0h0m19.9 0h0m19.8 0h0m19.8 0h0m19.8 0h0m19.8 0h0m19.9 0h0m19.8 0h0m19.8 0h0m19.8 0h0m19.8 0h0m19.9 0h0m19.8 0h0m-763.1 17.1h0m19.8 0h0m19.8 0h0m19.9 0h0m19.8 0h0m19.8 0h0m19.8 0h0m19.9 0h0m19.8 0h0m19.8 0h0m19.8 0h0m19.8 0h0m19.8 0h0m19.9 0h0m19.8 0h0m19.8 0h0m19.8 0h0m19.9 0h0m19.8 0h0m19.8 0h0m19.8 0h0m19.8 0h0m19.8 0h0m19.9 0h0m19.8 0h0m19.8 0h0m19.8 0h0m19.8 0h0m19.9 0h0m19.8 0h0m19.8 0h0m19.8 0h0m19.8 0h0m19.9 0h0m19.8 0h0m19.8 0h0m19.8 0h0m19.9 0h0m19.8 0h0m19.8 0h0m-782.9 17.1h0m19.8 0h0m19.8 0h0m19.9 0h0m19.8 0h0m19.8 0h0m19.8 0h0m19.8 0h0m19.9 0h0m19.8 0h0m19.8 0h0m19.8 0h0m19.8 0h0m19.9 0h0m19.8 0h0m19.8 0h0m19.8 0h0m19.8 0h0m19.9 0h0m19.8 0h0m19.8 0h0m19.8 0h0m19.8 0h0m19.9 0h0m19.8 0h0m19.8 0h0m19.8 0h0m19.8 0h0m19.9 0h0m19.8 0h0m19.8 0h0m19.8 0h0m19.8 0h0m19.9 0h0m19.8 0h0m19.8 0h0m19.8 0h0m19.8 0h0m19.9 0h0m19.8 0h0m-763.1 17.2h0m19.8 0h0m19.8 0h0m19.9 0h0m19.8 0h0m19.8 0h0m19.8 0h0m19.9 0h0m19.8 0h0m19.8 0h0m19.8 0h0m19.8 0h0m19.8 0h0m19.9 0h0m19.8 0h0m19.8 0h0m19.8 0h0m19.9 0h0m19.8 0h0m19.8 0h0m19.8 0h0m19.8 0h0m19.8 0h0m19.9 0h0m19.8 0h0m19.8 0h0m19.8 0h0m19.8 0h0m19.9 0h0m19.8 0h0m19.8 0h0m19.8 0h0m19.8 0h0m19.9 0h0m19.8 0h0m19.8 0h0m19.8 0h0m19.9 0h0m19.8 0h0m19.8 0h0m-782.9 17.1h0m19.8 0h0m19.8 0h0m19.9 0h0m19.8 0h0m19.8 0h0m19.8 0h0m19.8 0h0m19.9 0h0m19.8 0h0m19.8 0h0m19.8 0h0m19.8 0h0m19.9 0h0m19.8 0h0m19.8 0h0m19.8 0h0m19.8 0h0m19.9 0h0m19.8 0h0m19.8 0h0m19.8 0h0m19.8 0h0m19.9 0h0m19.8 0h0m19.8 0h0m19.8 0h0m19.8 0h0m19.9 0h0m19.8 0h0m19.8 0h0m19.8 0h0m19.8 0h0m19.9 0h0m19.8 0h0m19.8 0h0m19.8 0h0m19.8 0h0m19.9 0h0m19.8 0h0m-763.1 17.1h0m19.8 0h0m19.8 0h0m19.9 0h0m19.8 0h0m19.8 0h0m19.8 0h0m19.9 0h0m19.8 0h0m19.8 0h0m19.8 0h0m19.8 0h0m19.8 0h0m19.9 0h0m19.8 0h0m19.8 0h0m19.8 0h0m19.9 0h0m19.8 0h0m19.8 0h0m19.8 0h0m19.8 0h0m19.8 0h0m19.9 0h0m19.8 0h0m19.8 0h0m19.8 0h0m19.8 0h0m19.9 0h0m19.8 0h0m19.8 0h0m19.8 0h0m19.8 0h0m19.9 0h0m19.8 0h0m19.8 0h0m19.8 0h0m19.9 0h0m19.8 0h0m19.8 0h0m-782.9 17.2h0m19.8 0h0m19.8 0h0m19.9 0h0m19.8 0h0m19.8 0h0m19.8 0h0m19.8 0h0m19.9 0h0m19.8 0h0m19.8 0h0m19.8 0h0m19.8 0h0m19.9 0h0m19.8 0h0m19.8 0h0m19.8 0h0m19.8 0h0m19.9 0h0m19.8 0h0m19.8 0h0m19.8 0h0m19.8 0h0m19.9 0h0m19.8 0h0m19.8 0h0m19.8 0h0m19.8 0h0m19.9 0h0m19.8 0h0m19.8 0h0m19.8 0h0m19.8 0h0m19.9 0h0m19.8 0h0m19.8 0h0m19.8 0h0m19.8 0h0m19.9 0h0m19.8 0h0m-763.1 17.1h0m19.8 0h0m19.8 0h0m19.9 0h0m19.8 0h0m19.8 0h0m19.8 0h0m19.9 0h0m19.8 0h0m19.8 0h0m19.8 0h0m19.8 0h0m19.8 0h0m19.9 0h0m19.8 0h0m19.8 0h0m19.8 0h0m19.9 0h0m19.8 0h0m19.8 0h0m19.8 0h0m19.8 0h0m19.8 0h0m19.9 0h0m19.8 0h0m19.8 0h0m19.8 0h0m19.8 0h0m19.9 0h0m19.8 0h0m19.8 0h0m19.8 0h0m19.8 0h0m19.9 0h0m19.8 0h0m19.8 0h0m19.8 0h0m19.9 0h0m19.8 0h0m19.8 0h0m-782.9 17.1h0m19.8 0h0m19.8 0h0m19.9 0h0m19.8 0h0m19.8 0h0m19.8 0h0m19.8 0h0m19.9 0h0m19.8 0h0m19.8 0h0m19.8 0h0m19.8 0h0m19.9 0h0m19.8 0h0m19.8 0h0m19.8 0h0m19.8 0h0m19.9 0h0m19.8 0h0m19.8 0h0m19.8 0h0m19.8 0h0m19.9 0h0m19.8 0h0m19.8 0h0m19.8 0h0m19.8 0h0m19.9 0h0m19.8 0h0m19.8 0h0m19.8 0h0m19.8 0h0m19.9 0h0m19.8 0h0m19.8 0h0m19.8 0h0m19.8 0h0m19.9 0h0m19.8 0h0"/>
<path fill="none" stroke="#2e5c25" stroke-width="8.0" stroke-linecap="round" d="M159.7 46.7h0m19.8 0h0m19.8 0h0m19.9 0h0m19.8 0h0m19.8 0h0m19.8 0h0m19.8 0h0m19.9 0h0m19.8 0h0m19.8 0h0m19.8 0h0m19.8 0h0m19.9 0h0m19.8 0h0m19.8 0h0m19.8 0h0m19.8 0h0m19.9 0h0m19.8 0h0m19.8 0h0m19.8 0h0m19.8 0h0m19.9 0h0m19.8 0h0m19.8 0h0m19.8 0h0m19.8 0h0m19.9 0h0m19.8 0h0m19.8 0h0m19.8 0h0m19.8 0h0m19.9 0h0m19.8 0h0m19.8 0h0m19.8 0h0m19.8 0h0m19.9 0h0m19.8 0h0m-763.1 17.1h0m19.8 0h0m19.8 0h0m19.9 0h0m19.8 0h0m19.8 0h0m19.8 0h0m19.9 0h0m19.8 0h0m19.8 0h0m19.8 0h0m19.8 0h0m19.8 0h0m19.9 0h0m19.8 0h0m19.8 0h0m19.8 0h0m19.9 0h0m19.8 0h0m19.8 0h0m19.8 0h0m19.8 0h0m19.8 0h0m19.9 0h0m19.8 0h0m19.8 0h0m19.8 0h0m19.8 0h0m19.9 0h0m19.8 0h0m19.8 0h0m19.8 0h0m19.8 0h0m19.9 0h0m19.8 0h0m19.8 0h0m19.8 0h0m19.9 0h0m19.8 0h0m19.8 0h0m-782.9 17.2h0m19.8 0h0m19.8 0h0m19.9 0h0m19.8 0h0m19.8 0h0m19.8 0h0m19.8 0h0m19.9 0h0m19.8 0h0m19.8 0h0m19.8 0h0m19.8 0h0m19.9 0h0m19.8 0h0m19.8 0h0m19.8 0h0m19.8 0h0m19.9 0h0m19.8 0h0m19.8 0h0m19.8 0h0m19.8 0h0m19.9 0h0m19.8 0h0m19.8 0h0m19.8 0h0m19.8 0h0m19.9 0h0m19.8 0h0m19.8 0h0m19.8 0h0m19.8 0h0m19.9 0h0m19.8 0h0m19.8 0h0m19.8 0h0m19.8 0h0m19.9 0h0m19.8 0h0m-763.1 17.1h0m19.8 0h0m19.8 0h0m19.9 0h0m19.8 0h0m19.8 0h0m19.8 0h0m19.9 0h0m19.8 0h0m19.8 0h0m19.8 0h0m19.8 0h0m19.8 0h0m19.9 0h0m19.8 0h0m19.8 0h0m19.8 0h0m19.9 0h0m19.8 0h0m19.8 0h0m19.8 0h0m19.8 0h0m19.8 0h0m19.9 0h0m19.8 0h0m19.8 0h0m19.8 0h0m19.8 0h0m19.9 0h0m19.8 0h0m19.8 0h0m19.8 0h0m19.8 0h0m19.9 0h0m19.8 0h0m19.8 0h0m19.8 0h0m19.9 0h0m19.8 0h0m19.8 0h0m-782.9 17.1h0m19.8 0h0m19.8 0h0m19.9 0h0m19.8 0h0m19.8 0h0m19.8 0h0m19.8 0h0m19.9 0h0m19.8 0h0m19.8 0h0m19.8 0h0m19.8 0h0m19.9 0h0m19.8 0h0m19.8 0h0m19.8 0h0m19.8 0h0m19.9 0h0m19.8 0h0m19.8 0h0m19.8 0h0m19.8 0h0m19.9 0h0m19.8 0h0m19.8 0h0m19.8 0h0m19.8 0h0m19.9 0h0m19.8 0h0m19.8 0h0m19.8 0h0m19.8 0h0m19.9 0h0m19.8 0h0m19.8 0h0m19.8 0h0m19.8 0h0m19.9 0h0m19.8 0h0m-763.1 17.2h0m19.8 0h0m19.8 0h0m19.9 0h0m19.8 0h0m19.8 0h0m19.8 0h0m19.9 0h0m19.8 0h0m19.8 0h0m19.8 0h0m19.8 0h0m19.8 0h0m19.9 0h0m19.8 0h0m19.8 0h0m19.8 0h0m19.9 0h0m19.8 0h0m19.8 0h0m19.8 0h0m19.8 0h0m19.8 0h0m19.9 0h0m19.8 0h0m19.8 0h0m19.8 0h0m19.8 0h0m19.9 0h0m19.8 0h0m19.8 0h0m19.8 0h0m19.8 0h0m19.9 0h0m19.8 0h0m19.8 0h0m19.8 0h0m19.9 0h0m19.8 0h0m19.8 0h0m-782.9 17.1h0m19.8 0h0m19.8 0h0m19.9 0h0m19.8 0h0m19.8 0h0m19.8 0h0m19.8 0h0m19.9 0h0m19.8 0h0m19.8 0h0m19.8 0h0m19.8 0h0m19.9 0h0m19.8 0h0m19.8 0h0m19.8 0h0m19.8 0h0m19.9 0h0m19.8 0h0m19.8 0h0m19.8 0h0m19.8 0h0m19.9 0h0m19.8 0h0m19.8 0h0m19.8 0h0m19.8 0h0m19.9 0h0m19.8 0h0m19.8 0h0m19.8 0h0m19.8 0h0m19.9 0h0m19.8 0h0m19.8 0h0m19.8 0h0m19.8 0h0m19.9 0h0m19.8 0h0m-763.1 17.1h0m19.8 0h0m19.8 0h0m19.9 0h0m19.8 0h0m19.8 0h0m19.8 0h0m19.9 0h0m19.8 0h0m19.8 0h0m19.8 0h0m19.8 0h0m19.8 0h0m19.9 0h0m19.8 0h0m19.8 0h0m19.8 0h0m19.9 0h0m19.8 0h0m19.8 0h0m19.8 0h0m19.8 0h0m19.8 0h0m19.9 0h0m19.8 0h0m19.8 0h0m19.8 0h0m19.8 0h0m19.9 0h0m19.8 0h0m19.8 0h0m19.8 0h0m19.8 0h0m19.9 0h0m19.8 0h0m19.8 0h0m19.8 0h0m19.9 0h0m19.8 0h0m19.8 0h0m-782.9 17.1h0m19.8 0h0m19.8 0h0m19.9 0h0m19.8 0h0m19.8 0h0m19.8 0h0m19.8 0h0m19.9 0h0m19.8 0h0m19.8 0h0m19.8 0h0m19.8 0h0m19.9 0h0m19.8 0h0m19.8 0h0m19.8 0h0m19.8 0h0m19.9 0h0m19.8 0h0m19.8 0h0m19.8 0h0m19.8 0h0m19.9 0h0m19.8 0h0m19.8 0h0m19.8 0h0m19.8 0h0m19.9 0h0m19.8 0h0m19.8 0h0m19.8 0h0m19.8 0h0m19.9 0h0m19.8 0h0m19.8 0h0m19.8 0h0m19.8 0h0m19.9 0h0m19.8 0h0m-763.1 17.2h0m19.8 0h0m19.8 0h0m19.9 0h0m19.8 0h0m19.8 0h0m19.8 0h0m19.9 0h0m19.8 0h0m19.8 0h0m19.8 0h0m19.8 0h0m19.8 0h0m19.9 0h0m19.8 0h0m19.8 0h0m19.8 0h0m19.9 0h0m19.8 0h0m19.8 0h0m19.8 0h0m19.8 0h0m19.8 0h0m19.9 0h0m19.8 0h0m19.8 0h0m19.8 0h0m19.8 0h0m19.9 0h0m19.8 0h0m19.8 0h0m19.8 0h0m19.8 0h0m19.9 0h0m19.8 0h0m19.8 0h0m19.8 0h0m19.9 0h0m19.8 0h0m19.8 0h0m-782.9 17.1h0m19.8 0h0m19.8 0h0m19.9 0h0m19.8 0h0m19.8 0h0m19.8 0h0m19.8 0h0m19.9 0h0m19.8 0h0m19.8 0h0m19.8 0h0m19.8 0h0m19.9 0h0m19.8 0h0m19.8 0h0m19.8 0h0m19.8 0h0m19.9 0h0m19.8 0h0m19.8 0h0m19.8 0h0m19.8 0h0m19.9 0h0m19.8 0h0m19.8 0h0m19.8 0h0m19.8 0h0m19.9 0h0m19.8 0h0m19.8 0h0m19.8 0h0m19.8 0h0m19.9 0h0m19.8 0h0m19.8 0h0m19.8 0h0m19.8 0h0m19.9 0h0m19.8 0h0m-763.1 17.1h0m19.8 0h0m19.8 0h0m19.9 0h0m19.8 0h0m19.8 0h0m19.8 0h0m19.9 0h0m19.8 0h0m19.8 0h0m19.8 0h0m19.8 0h0m19.8 0h0m19.9 0h0m19.8 0h0m19.8 0h0m19.8 0h0m19.9 0h0m19.8 0h0m19.8 0h0m19.8 0h0m19.8 0h0m19.8 0h0m19.9 0h0m19.8 0h0m19.8 0h0m19.8 0h0m19.8 0h0m19.9 0h0m19.8 0h0m19.8 0h0m19.8 0h0m19.8 0h0m19.9 0h0m19.8 0h0m19.8 0h0m19.8 0h0m19.9 0h0m19.8 0h0m19.8 0h0m-782.9 17.2h0m19.8 0h0m19.8 0h0m19.9 0h0m19.8 0h0m19.8 0h0m19.8 0h0m19.8 0h0m19.9 0h0m19.8 0h0m19.8 0h0m19.8 0h0m19.8 0h0m19.9 0h0m19.8 0h0m19.8 0h0m19.8 0h0m19.8 0h0m19.9 0h0m19.8 0h0m19.8 0h0m19.8 0h0m19.8 0h0m19.9 0h0m19.8 0h0m19.8 0h0m19.8 0h0m19.8 0h0m19.9 0h0m19.8 0h0m19.8 0h0m19.8 0h0m19.8 0h0m19.9 0h0m19.8 0h0m19.8 0h0m19.8 0h0m19.8 0h0m19.9 0h0m19.8 0h0m-763.1 17.1h0m19.8 0h0m19.8 0h0m19.9 0h0m19.8 0h0m19.8 0h0m19.8 0h0m19.9 0h0m19.8 0h0m19.8 0h0m19.8 0h0m19.8 0h0m19.8 0h0m19.9 0h0m19.8 0h0m19.8 0h0m19.8 0h0m19.9 0h0m19.8 0h0m19.8 0h0m19.8 0h0m19.8 0h0m19.8 0h0m19.9 0h0m19.8 0h0m19.8 0h0m19.8 0h0m19.8 0h0m19.9 0h0m19.8 0h0m19.8 0h0m19.8 0h0m19.8 0h0m19.9 0h0m19.8 0h0m19.8 0h0m19.8 0h0m19.9 0h0m19.8 0h0m19.8 0h0m-782.9 17.1h0m19.8 0h0m19.8 0h0m19.9 0h0m19.8 0h0m19.8 0h0m19.8 0h0m19.8 0h0m19.9 0h0m19.8 0h0m19.8 0h0m19.8 0h0m19.8 0h0m19.9 0h0m19.8 0h0m19.8 0h0m19.8 0h0m19.8 0h0m19.9 0h0m19.8 0h0m19.8 0h0m19.8 0h0m19.8 0h0m19.9 0h0m19.8 0h0m19.8 0h0m19.8 0h0m19.8 0h0m19.9 0h0m19.8 0h0m19.8 0h0m19.8 0h0m19.8 0h0m19.9 0h0m19.8 0h0m19.8 0h0m19.8 0h0m19.8 0h0m19.9 0h0m19.8 0h0m-763.1 17.1h0m19.8 0h0m19.8 0h0m19.9 0h0m19.8 0h0m19.8 0h0m19.8 0h0m19.9 0h0m19.8 0h0m19.8 0h0m19.8 0h0m19.8 0h0m19.8 0h0m19.9 0h0m19.8 0h0m19.8 0h0m19.8 0h0m19.9 0h0m19.8 0h0m19.8 0h0m19.8 0h0m19.8 0h0m19.8 0h0m19.9 0h0m19.8 0h0m19.8 0h0m19.8 0h0m19.8 0h0m19.9 0h0m19.8 0h0m19.8 0h0m19.8 0h0m19.8 0h0m19.9 0h0m19.8 0h0m19.8 0h0m19.8 0h0m19.9 0h0m19.8 0h0m19.8 0h0m-782.9 17.2h0m19.8 0h0m19.8 0h0m19.9 0h0m19.8 0h0m19.8 0h0m19.8 0h0m19.8 0h0m19.9 0h0m19.8 0h0m19.8 0h0m19.8 0h0m19.8 0h0m19.9 0h0m19.8 0h0m19.8 0h0m19.8 0h0m19.8 0h0m19.9 0h0m19.8 0h0m19.8 0h0m19.8 0h0m19.8 0h0m19.9 0h0m19.8 0h0m19.8 0h0m19.8 0h0m19.8 0h0m19.9 0h0m19.8 0h0m19.8 0h0m19.8 0h0m19.8 0h0m19.9 0h0m19.8 0h0m19.8 0h0m19.8 0h0m19.8 0h0m19.9 0h0m19.8 0h0m-763.1 17.1h0m19.8 0h0m19.8 0h0m19.9 0h0m19.8 0h0m19.8 0h0m19.8 0h0m19.9 0h0m19.8 0h0m19.8 0h0m19.8 0h0m19.8 0h0m19.8 0h0m19.9 0h0m19.8 0h0m19.8 0h0m19.8 0h0m19.9 0h0m19.8 0h0m19.8 0h0m19.8 0h0m19.8 0h0m19.8 0h0m19.9 0h0m19.8 0h0m19.8 0h0m19.8 0h0m19.8 0h0m19.9 0h0m19.8 0h0m19.8 0h0m19.8 0h0m19.8 0h0m19.9 0h0m19.8 0h0m19.8 0h0m19.8 0h0m19.9 0h0m19.8 0h0m19.8 0h0m-782.9 17.1h0m19.8 0h0m19.8 0h0m19.9 0h0m19.8 0h0m19.8 0h0m19.8 0h0m19.8 0h0m19.9 0h0m19.8 0h0m19.8 0h0m19.8 0h0m19.8 0h0m19.9 0h0m19.8 0h0m19.8 0h0m19.8 0h0m19.8 0h0m19.9 0h0m19.8 0h0m19.8 0h0m19.8 0h0m19.8 0h0m19.9 0h0m19.8 0h0m19.8 0h0m19.8 0h0m19.8 0h0m19.9 0h0m19.8 0h0m19.8 0h0m19.8 0h0m19.8 0h0m19.9 0h0m19.8 0h0m19.8 0h0m19.8 0h0m19.8 0h0m19.9 0h0m19.8 0h0m-763.1 17.2h0m19.8 0h0m19.8 0h0m19.9 0h0m19.8 0h0m19.8 0h0m19.8 0h0m19.9 0h0m19.8 0h0m19.8 0h0m19.8 0h0m19.8 0h0m19.8 0h0m19.9 0h0m19.8 0h0m19.8 0h0m19.8 0h0m19.9 0h0m19.8 0h0m19.8 0h0m19.8 0h0m19.8 0h0m19.8 0h0m19.9 0h0m19.8 0h0m19.8 0h0m19.8 0h0m19.8 0h0m19.9 0h0m19.8 0h0m19.8 0h0m19.8 0h0m19.8 0h0m19.9 0h0m19.8 0h0m19.8 0h0m19.8 0h0m19.9 0h0m19.8 0h0m19.8 0h0m-782.9 17.1h0m19.8 0h0m19.8 0h0m19.9 0h0m19.8 0h0m19.8 0h0m19.8 0h0m19.8 0h0m19.9 0h0m19.8 0h0m19.8 0h0m19.8 0h0m19.8 0h0m19.9 0h0m19.8 0h0m19.8 0h0m19.8 0h0m19.8 0h0m19.9 0h0m19.8 0h0m19.8 0h0m19.8 0h0m19.8 0h0m19.9 0h0m19.8 0h0m19.8 0h0m19.8 0h0m19.8 0h0m19.9 0h0m19.8 0h0m19.8 0h0m19.8 0h0m19.8 0h0m19.9 0h0m19.8 0h0m19.8 0h0m19.8 0h0m19.8 0h0m19.9 0h0m19.8 0h0m-763.1 17.1h0m19.8 0h0m19.8 0h0m19.9 0h0m19.8 0h0m19.8 0h0m19.8 0h0m19.9 0h0m19.8 0h0m19.8 0h0m19.8 0h0m19.8 0h0m19.8 0h0m19.9 0h0m19.8 0h0m19.8 0h0m19.8 0h0m19.9 0h0m19.8 0h0m19.8 0h0m19.8 0h0m19.8 0h0m19.8 0h0m19.9 0h0m19.8 0h0m19.8 0h0m19.8 0h0m19.8 0h0m19.9 0h0m19.8 0h0m19.8 0h0m19.8 0h0m19.8 0h0m19.9 0h0m19.8 0h0m19.8 0h0m19.8 0h0m19.9 0h0m19.8 0h0m19.8 0h0m-782.9 17.2h0m19.8 0h0m19.8 0h0m19.9 0h0m19.8 0h0m19.8 0h0m19.8 0h0m19.8 0h0m19.9 0h0m19.8 0h0m19.8 0h0m19.8 0h0m19.8 0h0m19.9 0h0m19.8 0h0m19.8 0h0m19.8 0h0m19.8 0h0m19.9 0h0m19.8 0h0m19.8 0h0m19.8 0h0m19.8 0h0m19.9 0h0m19.8 0h0m19.8 0h0m19.8 0h0m19.8 0h0m19.9 0h0m19.8 0h0m19.8 0h0m19.8 0h0m19.8 0h0m19.9 0h0m19.8 0h0m19.8 0h0m19.8 0h0m19.8 0h0m19.9 0h0m19.8 0h0m-763.1 17.1h0m19.8 0h0m19.8 0h0m19.9 0h0m19.8 0h0m19.8 0h0m19.8 0h0m19.9 0h0m19.8 0h0m19.8 0h0m19.8 0h0m19.8 0h0m19.8 0h0m19.9 0h0m19.8 0h0m19.8 0h0m19.8 0h0m19.9 0h0m19.8 0h0m19.8 0h0m19.8 0h0m19.8 0h0m19.8 0h0m19.9 0h0m19.8 0h0m19.8 0h0m19.8 0h0m19.8 0h0m19.9 0h0m19.8 0h0m19.8 0h0m19.8 0h0m19.8 0h0m19.9 0h0m19.8 0h0m19.8 0h0m19.8 0h0m19.9 0h0m19.8 0h0m19.8 0h0m-782.9 17.1h0m19.8 0h0m19.8 0h0m19.9 0h0m19.8 0h0m19.8 0h0m19.8 0h0m19.8 0h0m19.9 0h0m19.8 0h0m19.8 0h0m19.8 0h0m19.8 0h0m19.9 0h0m19.8 0h0m19.8 0h0m19.8 0h0m19.8 0h0m19.9 0h0m19.8 0h0m19.8 0h0m19.8 0h0m19.8 0h0m19.9 0h0m19.8 0h0m19.8 0h0m19.8 0h0m19.8 0h0m19.9 0h0m19.8 0h0m19.8 0h0m19.8 0h0m19.8 0h0m19.9 0h0m19.8 0h0m19.8 0h0m19.8 0h0m19.8 0h0m19.9 0h0m19.8 0h0m-763.1 17.2h0m19.8 0h0m19.8 0h0m19.9 0h0m19.8 0h0m19.8 0h0m19.8 0h0m19.9 0h0m19.8 0h0m19.8 0h0m19.8 0h0m19.8 0h0m19.8 0h0m19.9 0h0m19.8 0h0m19.8 0h0m19.8 0h0m19.9 0h0m19.8 0h0m19.8 0h0m19.8 0h0m19.8 0h0m19.8 0h0m19.9 0h0m19.8 0h0m19.8 0h0m19.8 0h0m19.8 0h0m19.9 0h0m19.8 0h0m19.8 0h0m19.8 0h0m19.8 0h0m19.9 0h0m19.8 0h0m19.8 0h0m19.8 0h0m19.9 0h0m19.8 0h0m19.8 0h0m-782.9 17.1h0m19.8 0h0m19.8 0h0m19.9 0h0m19.8 0h0m19.8 0h0m19.8 0h0m19.8 0h0m19.9 0h0m19.8 0h0m19.8 0h0m19.8 0h0m19.8 0h0m19.9 0h0m19.8 0h0m19.8 0h0m19.8 0h0m19.8 0h0m19.9 0h0m19.8 0h0m19.8 0h0m19.8 0h0m19.8 0h0m19.9 0h0m19.8 0h0m19.8 0h0m19.8 0h0m19.8 0h0m19.9 0h0m19.8 0h0m19.8 0h0m19.8 0h0m19.8 0h0m19.9 0h0m19.8 0h0m19.8 0h0m19.8 0h0m19.8 0h0m19.9 0h0m19.8 0h0m-763.1 17.1h0m19.8 0h0m19.8 0h0m19.9 0h0m19.8 0h0m19.8 0h0m19.8 0h0m19.9 0h0m19.8 0h0m19.8 0h0m19.8 0h0m19.8 0h0m19.8 0h0m19.9 0h0m19.8 0h0m19.8 0h0m19.8 0h0m19.9 0h0m19.8 0h0m19.8 0h0m19.8 0h0m19.8 0h0m19.8 0h0m19.9 0h0m19.8 0h0m19.8 0h0m19.8 0h0m19.8 0h0m19.9 0h0m19.8 0h0m19.8 0h0m19.8 0h0m19.8 0h0m19.9 0h0m19.8 0h0m19.8 0h0m19.8 0h0m19.9 0h0m19.8 0h0m19.8 0h0m-782.9 17.1h0m19.8 0h0m19.8 0h0m19.9 0h0m19.8 0h0m19.8 0h0m19.8 0h0m19.8 0h0m19.9 0h0m19.8 0h0m19.8 0h0m19.8 0h0m19.8 0h0m19.9 0h0m19.8 0h0m19.8 0h0m19.8 0h0m19.8 0h0m19.9 0h0m19.8 0h0m19.8 0h0m19.8 0h0m19.8 0h0m19.9 0h0m19.8 0h0m19.8 0h0m19.8 0h0m19.8 0h0m19.9 0h0m19.8 0h0m19.8 0h0m19.8 0h0m19.8 0h0m19.9 0h0m19.8 0h0m19.8 0h0m19.8 0h0m19.8 0h0m19.9 0h0m19.8 0h0m-763.1 17.2h0m19.8 0h0m19.8 0h0m19.9 0h0m19.8 0h0m19.8 0h0m19.8 0h0m19.9 0h0m19.8 0h0m19.8 0h0m19.8 0h0m19.8 0h0m19.8 0h0m19.9 0h0m19.8 0h0m19.8 0h0m19.8 0h0m19.9 0h0m19.8 0h0m19.8 0h0m19.8 0h0m19.8 0h0m19.8 0h0m19.9 0h0m19.8 0h0m19.8 0h0m19.8 0h0m19.8 0h0m19.9 0h0m19.8 0h0m19.8 0h0m19.8 0h0m19.8 0h0m19.9 0h0m19.8 0h0m19.8 0h0m19.8 0h0m19.9 0h0m19.8 0h0m19.8 0h0m-782.9 17.1h0m19.8 0h0m19.8 0h0m19.9 0h0m19.8 0h0m19.8 0h0m19.8 0h0m19.8 0h0m19.9 0h0m19.8 0h0m19.8 0h0m19.8 0h0m19.8 0h0m19.9 0h0m19.8 0h0m19.8 0h0m19.8 0h0m19.8 0h0m19.9 0h0m19.8 0h0m19.8 0h0m19.8 0h0m19.8 0h0m19.9 0h0m19.8 0h0m19.8 0h0m19.8 0h0m19.8 0h0m19.9 0h0m19.8 0h0m19.8 0h0m19.8 0h0m19.8 0h0m19.9 0h0m19.8 0h0m19.8 0h0m19.8 0h0m19.8 0h0m19.9 0h0m19.8 0h0m-763.1 17.1h0m19.8 0h0m19.8 0h0m19.9 0h0m19.8 0h0m19.8 0h0m19.8 0h0m19.9 0h0m19.8 0h0m19.8 0h0m19.8 0h0m19.8 0h0m19.8 0h0m19.9 0h0m19.8 0h0m19.8 0h0m19.8 0h0m19.9 0h0m19.8 0h0m19.8 0h0m19.8 0h0m19.8 0h0m19.8 0h0m19.9 0h0m19.8 0h0m19.8 0h0m19.8 0h0m19.8 0h0m19.9 0h0m19.8 0h0m19.8 0h0m19.8 0h0m19.8 0h0m19.9 0h0m19.8 0h0m19.8 0h0m19.8 0h0m19.9 0h0m19.8 0h0m19.8 0h0m-782.9 17.2h0m19.8 0h0m19.8 0h0m19.9 0h0m19.8 0h0m19.8 0h0m19.8 0h0m19.8 0h0m19.9 0h0m19.8 0h0m19.8 0h0m19.8 0h0m19.8 0h0m19.9 0h0m19.8 0h0m19.8 0h0m19.8 0h0m19.8 0h0m19.9 0h0m19.8 0h0m19.8 0h0m19.8 0h0m19.8 0h0m19.9 0h0m19.8 0h0m19.8 0h0m19.8 0h0m19.8 0h0m19.9 0h0m19.8 0h0m19.8 0h0m19.8 0h0m19.8 0h0m19.9 0h0m19.8 0h0m19.8 0h0m19.8 0h0m19.8 0h0m19.9 0h0m19.8 0h0m-763.1 17.1h0m19.8 0h0m19.8 0h0m19.9 0h0m19.8 0h0m19.8 0h0m19.8 0h0m19.9 0h0m19.8 0h0m19.8 0h0m19.8 0h0m19.8 0h0m19.8 0h0m19.9 0h0m19.8 0h0m19.8 0h0m19.8 0h0m19.9 0h0m19.8 0h0m19.8 0h0m19.8 0h0m19.8 0h0m19.8 0h0m19.9 0h0m19.8 0h0m19.8 0h0m19.8 0h0m19.8 0h0m19.9 0h0m19.8 0h0m19.8 0h0m19.8 0h0m19.8 0h0m19.9 0h0m19.8 0h0m19.8 0h0m19.8 0h0m19.9 0h0m19.8 0h0m19.8 0h0m-782.9 17.1h0m19.8 0h0m19.8 0h0m19.9 0h0m19.8 0h0m19.8 0h0m19.8 0h0m19.8 0h0m19.9 0h0m19.8 0h0m19.8 0h0m19.8 0h0m19.8 0h0m19.9 0h0m19.8 0h0m19.8 0h0m19.8 0h0m19.8 0h0m19.9 0h0m19.8 0h0m19.8 0h0m19.8 0h0m19.8 0h0m19.9 0h0m19.8 0h0m19.8 0h0m19.8 0h0m19.8 0h0m19.9 0h0m19.8 0h0m19.8 0h0m19.8 0h0m19.8 0h0m19.9 0h0m19.8 0h0m19.8 0h0m19.8 0h0m19.8 0h0m19.9 0h0m19.8 0h0"/>
<path fill="none" stroke="#5d9a4e" stroke-width="3.6" stroke-linecap="round" d="M158.9 46.1h0m19.8 0h0m19.8 0h0m19.9 0h0m19.8 0h0m19.8 0h0m19.8 0h0m19.8 0h0m19.9 0h0m19.8 0h0m19.8 0h0m19.8 0h0m19.8 0h0m19.9 0h0m19.8 0h0m19.8 0h0m19.8 0h0m19.8 0h0m19.9 0h0m19.8 0h0m19.8 0h0m19.8 0h0m19.8 0h0m19.9 0h0m19.8 0h0m19.8 0h0m19.8 0h0m19.8 0h0m19.9 0h0m19.8 0h0m19.8 0h0m19.8 0h0m19.8 0h0m19.9 0h0m19.8 0h0m19.8 0h0m19.8 0h0m19.8 0h0m19.9 0h0m19.8 0h0m-763.1 17.1h0m19.8 0h0m19.8 0h0m19.9 0h0m19.8 0h0m19.8 0h0m19.8 0h0m19.9 0h0m19.8 0h0m19.8 0h0m19.8 0h0m19.8 0h0m19.8 0h0m19.9 0h0m19.8 0h0m19.8 0h0m19.8 0h0m19.9 0h0m19.8 0h0m19.8 0h0m19.8 0h0m19.8 0h0m19.8 0h0m19.9 0h0m19.8 0h0m19.8 0h0m19.8 0h0m19.8 0h0m19.9 0h0m19.8 0h0m19.8 0h0m19.8 0h0m19.9 0h0m19.8 0h0m19.8 0h0m19.8 0h0m19.8 0h0m19.9 0h0m19.8 0h0m19.8 0h0m-782.9 17.2h0m19.8 0h0m19.8 0h0m19.9 0h0m19.8 0h0m19.8 0h0m19.8 0h0m19.8 0h0m19.9 0h0m19.8 0h0m19.8 0h0m19.8 0h0m19.8 0h0m19.9 0h0m19.8 0h0m19.8 0h0m19.8 0h0m19.8 0h0m19.9 0h0m19.8 0h0m19.8 0h0m19.8 0h0m19.8 0h0m19.9 0h0m19.8 0h0m19.8 0h0m19.8 0h0m19.8 0h0m19.9 0h0m19.8 0h0m19.8 0h0m19.8 0h0m19.8 0h0m19.9 0h0m19.8 0h0m19.8 0h0m19.8 0h0m19.8 0h0m19.9 0h0m19.8 0h0m-763.1 17.1h0m19.8 0h0m19.8 0h0m19.9 0h0m19.8 0h0m19.8 0h0m19.8 0h0m19.9 0h0m19.8 0h0m19.8 0h0m19.8 0h0m19.8 0h0m19.8 0h0m19.9 0h0m19.8 0h0m19.8 0h0m19.8 0h0m19.9 0h0m19.8 0h0m19.8 0h0m19.8 0h0m19.8 0h0m19.8 0h0m19.9 0h0m19.8 0h0m19.8 0h0m19.8 0h0m19.8 0h0m19.9 0h0m19.8 0h0m19.8 0h0m19.8 0h0m19.9 0h0m19.8 0h0m19.8 0h0m19.8 0h0m19.8 0h0m19.9 0h0m19.8 0h0m19.8 0h0m-782.9 17.1h0m19.8 0h0m19.8 0h0m19.9 0h0m19.8 0h0m19.8 0h0m19.8 0h0m19.8 0h0m19.9 0h0m19.8 0h0m19.8 0h0m19.8 0h0m19.8 0h0m19.9 0h0m19.8 0h0m19.8 0h0m19.8 0h0m19.8 0h0m19.9 0h0m19.8 0h0m19.8 0h0m19.8 0h0m19.8 0h0m19.9 0h0m19.8 0h0m19.8 0h0m19.8 0h0m19.8 0h0m19.9 0h0m19.8 0h0m19.8 0h0m19.8 0h0m19.8 0h0m19.9 0h0m19.8 0h0m19.8 0h0m19.8 0h0m19.8 0h0m19.9 0h0m19.8 0h0m-763.1 17.2h0m19.8 0h0m19.8 0h0m19.9 0h0m19.8 0h0m19.8 0h0m19.8 0h0m19.9 0h0m19.8 0h0m19.8 0h0m19.8 0h0m19.8 0h0m19.8 0h0m19.9 0h0m19.8 0h0m19.8 0h0m19.8 0h0m19.9 0h0m19.8 0h0m19.8 0h0m19.8 0h0m19.8 0h0m19.8 0h0m19.9 0h0m19.8 0h0m19.8 0h0m19.8 0h0m19.8 0h0m19.9 0h0m19.8 0h0m19.8 0h0m19.8 0h0m19.9 0h0m19.8 0h0m19.8 0h0m19.8 0h0m19.8 0h0m19.9 0h0m19.8 0h0m19.8 0h0m-782.9 17.1h0m19.8 0h0m19.8 0h0m19.9 0h0m19.8 0h0m19.8 0h0m19.8 0h0m19.8 0h0m19.9 0h0m19.8 0h0m19.8 0h0m19.8 0h0m19.8 0h0m19.9 0h0m19.8 0h0m19.8 0h0m19.8 0h0m19.8 0h0m19.9 0h0m19.8 0h0m19.8 0h0m19.8 0h0m19.8 0h0m19.9 0h0m19.8 0h0m19.8 0h0m19.8 0h0m19.8 0h0m19.9 0h0m19.8 0h0m19.8 0h0m19.8 0h0m19.8 0h0m19.9 0h0m19.8 0h0m19.8 0h0m19.8 0h0m19.8 0h0m19.9 0h0m19.8 0h0m-763.1 17.1h0m19.8 0h0m19.8 0h0m19.9 0h0m19.8 0h0m19.8 0h0m19.8 0h0m19.9 0h0m19.8 0h0m19.8 0h0m19.8 0h0m19.8 0h0m19.8 0h0m19.9 0h0m19.8 0h0m19.8 0h0m19.8 0h0m19.9 0h0m19.8 0h0m19.8 0h0m19.8 0h0m19.8 0h0m19.8 0h0m19.9 0h0m19.8 0h0m19.8 0h0m19.8 0h0m19.8 0h0m19.9 0h0m19.8 0h0m19.8 0h0m19.8 0h0m19.9 0h0m19.8 0h0m19.8 0h0m19.8 0h0m19.8 0h0m19.9 0h0m19.8 0h0m19.8 0h0m-782.9 17.1h0m19.8 0h0m19.8 0h0m19.9 0h0m19.8 0h0m19.8 0h0m19.8 0h0m19.8 0h0m19.9 0h0m19.8 0h0m19.8 0h0m19.8 0h0m19.8 0h0m19.9 0h0m19.8 0h0m19.8 0h0m19.8 0h0m19.8 0h0m19.9 0h0m19.8 0h0m19.8 0h0m19.8 0h0m19.8 0h0m19.9 0h0m19.8 0h0m19.8 0h0m19.8 0h0m19.8 0h0m19.9 0h0m19.8 0h0m19.8 0h0m19.8 0h0m19.8 0h0m19.9 0h0m19.8 0h0m19.8 0h0m19.8 0h0m19.8 0h0m19.9 0h0m19.8 0h0m-763.1 17.2h0m19.8 0h0m19.8 0h0m19.9 0h0m19.8 0h0m19.8 0h0m19.8 0h0m19.9 0h0m19.8 0h0m19.8 0h0m19.8 0h0m19.8 0h0m19.8 0h0m19.9 0h0m19.8 0h0m19.8 0h0m19.8 0h0m19.9 0h0m19.8 0h0m19.8 0h0m19.8 0h0m19.8 0h0m19.8 0h0m19.9 0h0m19.8 0h0m19.8 0h0m19.8 0h0m19.8 0h0m19.9 0h0m19.8 0h0m19.8 0h0m19.8 0h0m19.9 0h0m19.8 0h0m19.8 0h0m19.8 0h0m19.8 0h0m19.9 0h0m19.8 0h0m19.8 0h0m-782.9 17.1h0m19.8 0h0m19.8 0h0m19.9 0h0m19.8 0h0m19.8 0h0m19.8 0h0m19.8 0h0m19.9 0h0m19.8 0h0m19.8 0h0m19.8 0h0m19.8 0h0m19.9 0h0m19.8 0h0m19.8 0h0m19.8 0h0m19.8 0h0m19.9 0h0m19.8 0h0m19.8 0h0m19.8 0h0m19.8 0h0m19.9 0h0m19.8 0h0m19.8 0h0m19.8 0h0m19.8 0h0m19.9 0h0m19.8 0h0m19.8 0h0m19.8 0h0m19.8 0h0m19.9 0h0m19.8 0h0m19.8 0h0m19.8 0h0m19.8 0h0m19.9 0h0m19.8 0h0m-763.1 17.1h0m19.8 0h0m19.8 0h0m19.9 0h0m19.8 0h0m19.8 0h0m19.8 0h0m19.9 0h0m19.8 0h0m19.8 0h0m19.8 0h0m19.8 0h0m19.8 0h0m19.9 0h0m19.8 0h0m19.8 0h0m19.8 0h0m19.9 0h0m19.8 0h0m19.8 0h0m19.8 0h0m19.8 0h0m19.8 0h0m19.9 0h0m19.8 0h0m19.8 0h0m19.8 0h0m19.8 0h0m19.9 0h0m19.8 0h0m19.8 0h0m19.8 0h0m19.9 0h0m19.8 0h0m19.8 0h0m19.8 0h0m19.8 0h0m19.9 0h0m19.8 0h0m19.8 0h0m-782.9 17.2h0m19.8 0h0m19.8 0h0m19.9 0h0m19.8 0h0m19.8 0h0m19.8 0h0m19.8 0h0m19.9 0h0m19.8 0h0m19.8 0h0m19.8 0h0m19.8 0h0m19.9 0h0m19.8 0h0m19.8 0h0m19.8 0h0m19.8 0h0m19.9 0h0m19.8 0h0m19.8 0h0m19.8 0h0m19.8 0h0m19.9 0h0m19.8 0h0m19.8 0h0m19.8 0h0m19.8 0h0m19.9 0h0m19.8 0h0m19.8 0h0m19.8 0h0m19.8 0h0m19.9 0h0m19.8 0h0m19.8 0h0m19.8 0h0m19.8 0h0m19.9 0h0m19.8 0h0m-763.1 17.1h0m19.8 0h0m19.8 0h0m19.9 0h0m19.8 0h0m19.8 0h0m19.8 0h0m19.9 0h0m19.8 0h0m19.8 0h0m19.8 0h0m19.8 0h0m19.8 0h0m19.9 0h0m19.8 0h0m19.8 0h0m19.8 0h0m19.9 0h0m19.8 0h0m19.8 0h0m19.8 0h0m19.8 0h0m19.8 0h0m19.9 0h0m19.8 0h0m19.8 0h0m19.8 0h0m19.8 0h0m19.9 0h0m19.8 0h0m19.8 0h0m19.8 0h0m19.9 0h0m19.8 0h0m19.8 0h0m19.8 0h0m19.8 0h0m19.9 0h0m19.8 0h0m19.8 0h0m-782.9 17.1h0m19.8 0h0m19.8 0h0m19.9 0h0m19.8 0h0m19.8 0h0m19.8 0h0m19.8 0h0m19.9 0h0m19.8 0h0m19.8 0h0m19.8 0h0m19.8 0h0m19.9 0h0m19.8 0h0m19.8 0h0m19.8 0h0m19.8 0h0m19.9 0h0m19.8 0h0m19.8 0h0m19.8 0h0m19.8 0h0m19.9 0h0m19.8 0h0m19.8 0h0m19.8 0h0m19.8 0h0m19.9 0h0m19.8 0h0m19.8 0h0m19.8 0h0m19.8 0h0m19.9 0h0m19.8 0h0m19.8 0h0m19.8 0h0m19.8 0h0m19.9 0h0m19.8 0h0m-763.1 17.1h0m19.8 0h0m19.8 0h0m19.9 0h0m19.8 0h0m19.8 0h0m19.8 0h0m19.9 0h0m19.8 0h0m19.8 0h0m19.8 0h0m19.8 0h0m19.8 0h0m19.9 0h0m19.8 0h0m19.8 0h0m19.8 0h0m19.9 0h0m19.8 0h0m19.8 0h0m19.8 0h0m19.8 0h0m19.8 0h0m19.9 0h0m19.8 0h0m19.8 0h0m19.8 0h0m19.8 0h0m19.9 0h0m19.8 0h0m19.8 0h0m19.8 0h0m19.9 0h0m19.8 0h0m19.8 0h0m19.8 0h0m19.8 0h0m19.9 0h0m19.8 0h0m19.8 0h0m-782.9 17.2h0m19.8 0h0m19.8 0h0m19.9 0h0m19.8 0h0m19.8 0h0m19.8 0h0m19.8 0h0m19.9 0h0m19.8 0h0m19.8 0h0m19.8 0h0m19.8 0h0m19.9 0h0m19.8 0h0m19.8 0h0m19.8 0h0m19.8 0h0m19.9 0h0m19.8 0h0m19.8 0h0m19.8 0h0m19.8 0h0m19.9 0h0m19.8 0h0m19.8 0h0m19.8 0h0m19.8 0h0m19.9 0h0m19.8 0h0m19.8 0h0m19.8 0h0m19.8 0h0m19.9 0h0m19.8 0h0m19.8 0h0m19.8 0h0m19.8 0h0m19.9 0h0m19.8 0h0m-763.1 17.1h0m19.8 0h0m19.8 0h0m19.9 0h0m19.8 0h0m19.8 0h0m19.8 0h0m19.9 0h0m19.8 0h0m19.8 0h0m19.8 0h0m19.8 0h0m19.8 0h0m19.9 0h0m19.8 0h0m19.8 0h0m19.8 0h0m19.9 0h0m19.8 0h0m19.8 0h0m19.8 0h0m19.8 0h0m19.8 0h0m19.9 0h0m19.8 0h0m19.8 0h0m19.8 0h0m19.8 0h0m19.9 0h0m19.8 0h0m19.8 0h0m19.8 0h0m19.9 0h0m19.8 0h0m19.8 0h0m19.8 0h0m19.8 0h0m19.9 0h0m19.8 0h0m19.8 0h0m-782.9 17.1h0m19.8 0h0m19.8 0h0m19.9 0h0m19.8 0h0m19.8 0h0m19.8 0h0m19.8 0h0m19.9 0h0m19.8 0h0m19.8 0h0m19.8 0h0m19.8 0h0m19.9 0h0m19.8 0h0m19.8 0h0m19.8 0h0m19.8 0h0m19.9 0h0m19.8 0h0m19.8 0h0m19.8 0h0m19.8 0h0m19.9 0h0m19.8 0h0m19.8 0h0m19.8 0h0m19.8 0h0m19.9 0h0m19.8 0h0m19.8 0h0m19.8 0h0m19.8 0h0m19.9 0h0m19.8 0h0m19.8 0h0m19.8 0h0m19.8 0h0m19.9 0h0m19.8 0h0m-763.1 17.2h0m19.8 0h0m19.8 0h0m19.9 0h0m19.8 0h0m19.8 0h0m19.8 0h0m19.9 0h0m19.8 0h0m19.8 0h0m19.8 0h0m19.8 0h0m19.8 0h0m19.9 0h0m19.8 0h0m19.8 0h0m19.8 0h0m19.9 0h0m19.8 0h0m19.8 0h0m19.8 0h0m19.8 0h0m19.8 0h0m19.9 0h0m19.8 0h0m19.8 0h0m19.8 0h0m19.8 0h0m19.9 0h0m19.8 0h0m19.8 0h0m19.8 0h0m19.9 0h0m19.8 0h0m19.8 0h0m19.8 0h0m19.8 0h0m19.9 0h0m19.8 0h0m19.8 0h0m-782.9 17.1h0m19.8 0h0m19.8 0h0m19.9 0h0m19.8 0h0m19.8 0h0m19.8 0h0m19.8 0h0m19.9 0h0m19.8 0h0m19.8 0h0m19.8 0h0m19.8 0h0m19.9 0h0m19.8 0h0m19.8 0h0m19.8 0h0m19.8 0h0m19.9 0h0m19.8 0h0m19.8 0h0m19.8 0h0m19.8 0h0m19.9 0h0m19.8 0h0m19.8 0h0m19.8 0h0m19.8 0h0m19.9 0h0m19.8 0h0m19.8 0h0m19.8 0h0m19.8 0h0m19.9 0h0m19.8 0h0m19.8 0h0m19.8 0h0m19.8 0h0m19.9 0h0m19.8 0h0m-763.1 17.1h0m19.8 0h0m19.8 0h0m19.9 0h0m19.8 0h0m19.8 0h0m19.8 0h0m19.9 0h0m19.8 0h0m19.8 0h0m19.8 0h0m19.8 0h0m19.8 0h0m19.9 0h0m19.8 0h0m19.8 0h0m19.8 0h0m19.9 0h0m19.8 0h0m19.8 0h0m19.8 0h0m19.8 0h0m19.8 0h0m19.9 0h0m19.8 0h0m19.8 0h0m19.8 0h0m19.8 0h0m19.9 0h0m19.8 0h0m19.8 0h0m19.8 0h0m19.9 0h0m19.8 0h0m19.8 0h0m19.8 0h0m19.8 0h0m19.9 0h0m19.8 0h0m19.8 0h0m-782.9 17.2h0m19.8 0h0m19.8 0h0m19.9 0h0m19.8 0h0m19.8 0h0m19.8 0h0m19.8 0h0m19.9 0h0m19.8 0h0m19.8 0h0m19.8 0h0m19.8 0h0m19.9 0h0m19.8 0h0m19.8 0h0m19.8 0h0m19.8 0h0m19.9 0h0m19.8 0h0m19.8 0h0m19.8 0h0m19.8 0h0m19.9 0h0m19.8 0h0m19.8 0h0m19.8 0h0m19.8 0h0m19.9 0h0m19.8 0h0m19.8 0h0m19.8 0h0m19.8 0h0m19.9 0h0m19.8 0h0m19.8 0h0m19.8 0h0m19.8 0h0m19.9 0h0m19.8 0h0m-763.1 17.1h0m19.8 0h0m19.8 0h0m19.9 0h0m19.8 0h0m19.8 0h0m19.8 0h0m19.9 0h0m19.8 0h0m19.8 0h0m19.8 0h0m19.8 0h0m19.8 0h0m19.9 0h0m19.8 0h0m19.8 0h0m19.8 0h0m19.9 0h0m19.8 0h0m19.8 0h0m19.8 0h0m19.8 0h0m19.8 0h0m19.9 0h0m19.8 0h0m19.8 0h0m19.8 0h0m19.8 0h0m19.9 0h0m19.8 0h0m19.8 0h0m19.8 0h0m19.9 0h0m19.8 0h0m19.8 0h0m19.8 0h0m19.8 0h0m19.9 0h0m19.8 0h0m19.8 0h0m-782.9 17.1h0m19.8 0h0m19.8 0h0m19.9 0h0m19.8 0h0m19.8 0h0m19.8 0h0m19.8 0h0m19.9 0h0m19.8 0h0m19.8 0h0m19.8 0h0m19.8 0h0m19.9 0h0m19.8 0h0m19.8 0h0m19.8 0h0m19.8 0h0m19.9 0h0m19.8 0h0m19.8 0h0m19.8 0h0m19.8 0h0m19.9 0h0m19.8 0h0m19.8 0h0m19.8 0h0m19.8 0h0m19.9 0h0m19.8 0h0m19.8 0h0m19.8 0h0m19.8 0h0m19.9 0h0m19.8 0h0m19.8 0h0m19.8 0h0m19.8 0h0m19.9 0h0m19.8 0h0m-763.1 17.2h0m19.8 0h0m19.8 0h0m19.9 0h0m19.8 0h0m19.8 0h0m19.8 0h0m19.9 0h0m19.8 0h0m19.8 0h0m19.8 0h0m19.8 0h0m19.8 0h0m19.9 0h0m19.8 0h0m19.8 0h0m19.8 0h0m19.9 0h0m19.8 0h0m19.8 0h0m19.8 0h0m19.8 0h0m19.8 0h0m19.9 0h0m19.8 0h0m19.8 0h0m19.8 0h0m19.8 0h0m19.9 0h0m19.8 0h0m19.8 0h0m19.8 0h0m19.9 0h0m19.8 0h0m19.8 0h0m19.8 0h0m19.8 0h0m19.9 0h0m19.8 0h0m19.8 0h0m-782.9 17.1h0m19.8 0h0m19.8 0h0m19.9 0h0m19.8 0h0m19.8 0h0m19.8 0h0m19.8 0h0m19.9 0h0m19.8 0h0m19.8 0h0m19.8 0h0m19.8 0h0m19.9 0h0m19.8 0h0m19.8 0h0m19.8 0h0m19.8 0h0m19.9 0h0m19.8 0h0m19.8 0h0m19.8 0h0m19.8 0h0m19.9 0h0m19.8 0h0m19.8 0h0m19.8 0h0m19.8 0h0m19.9 0h0m19.8 0h0m19.8 0h0m19.8 0h0m19.8 0h0m19.9 0h0m19.8 0h0m19.8 0h0m19.8 0h0m19.8 0h0m19.9 0h0m19.8 0h0m-763.1 17.1h0m19.8 0h0m19.8 0h0m19.9 0h0m19.8 0h0m19.8 0h0m19.8 0h0m19.9 0h0m19.8 0h0m19.8 0h0m19.8 0h0m19.8 0h0m19.8 0h0m19.9 0h0m19.8 0h0m19.8 0h0m19.8 0h0m19.9 0h0m19.8 0h0m19.8 0h0m19.8 0h0m19.8 0h0m19.8 0h0m19.9 0h0m19.8 0h0m19.8 0h0m19.8 0h0m19.8 0h0m19.9 0h0m19.8 0h0m19.8 0h0m19.8 0h0m19.9 0h0m19.8 0h0m19.8 0h0m19.8 0h0m19.8 0h0m19.9 0h0m19.8 0h0m19.8 0h0m-782.9 17.1h0m19.8 0h0m19.8 0h0m19.9 0h0m19.8 0h0m19.8 0h0m19.8 0h0m19.8 0h0m19.9 0h0m19.8 0h0m19.8 0h0m19.8 0h0m19.8 0h0m19.9 0h0m19.8 0h0m19.8 0h0m19.8 0h0m19.8 0h0m19.9 0h0m19.8 0h0m19.8 0h0m19.8 0h0m19.8 0h0m19.9 0h0m19.8 0h0m19.8 0h0m19.8 0h0m19.8 0h0m19.9 0h0m19.8 0h0m19.8 0h0m19.8 0h0m19.8 0h0m19.9 0h0m19.8 0h0m19.8 0h0m19.8 0h0m19.8 0h0m19.9 0h0m19.8 0h0m-763.1 17.2h0m19.8 0h0m19.8 0h0m19.9 0h0m19.8 0h0m19.8 0h0m19.8 0h0m19.9 0h0m19.8 0h0m19.8 0h0m19.8 0h0m19.8 0h0m19.8 0h0m19.9 0h0m19.8 0h0m19.8 0h0m19.8 0h0m19.9 0h0m19.8 0h0m19.8 0h0m19.8 0h0m19.8 0h0m19.8 0h0m19.9 0h0m19.8 0h0m19.8 0h0m19.8 0h0m19.8 0h0m19.9 0h0m19.8 0h0m19.8 0h0m19.8 0h0m19.9 0h0m19.8 0h0m19.8 0h0m19.8 0h0m19.8 0h0m19.9 0h0m19.8 0h0m19.8 0h0m-782.9 17.1h0m19.8 0h0m19.8 0h0m19.9 0h0m19.8 0h0m19.8 0h0m19.8 0h0m19.8 0h0m19.9 0h0m19.8 0h0m19.8 0h0m19.8 0h0m19.8 0h0m19.9 0h0m19.8 0h0m19.8 0h0m19.8 0h0m19.8 0h0m19.9 0h0m19.8 0h0m19.8 0h0m19.8 0h0m19.8 0h0m19.9 0h0m19.8 0h0m19.8 0h0m19.8 0h0m19.8 0h0m19.9 0h0m19.8 0h0m19.8 0h0m19.8 0h0m19.8 0h0m19.9 0h0m19.8 0h0m19.8 0h0m19.8 0h0m19.8 0h0m19.9 0h0m19.8 0h0m-763.1 17.1h0m19.8 0h0m19.8 0h0m19.9 0h0m19.8 0h0m19.8 0h0m19.8 0h0m19.9 0h0m19.8 0h0m19.8 0h0m19.8 0h0m19.8 0h0m19.8 0h0m19.9 0h0m19.8 0h0m19.8 0h0m19.8 0h0m19.9 0h0m19.8 0h0m19.8 0h0m19.8 0h0m19.8 0h0m19.8 0h0m19.9 0h0m19.8 0h0m19.8 0h0m19.8 0h0m19.8 0h0m19.9 0h0m19.8 0h0m19.8 0h0m19.8 0h0m19.9 0h0m19.8 0h0m19.8 0h0m19.8 0h0m19.8 0h0m19.9 0h0m19.8 0h0m19.8 0h0m-782.9 17.2h0m19.8 0h0m19.8 0h0m19.9 0h0m19.8 0h0m19.8 0h0m19.8 0h0m19.8 0h0m19.9 0h0m19.8 0h0m19.8 0h0m19.8 0h0m19.8 0h0m19.9 0h0m19.8 0h0m19.8 0h0m19.8 0h0m19.8 0h0m19.9 0h0m19.8 0h0m19.8 0h0m19.8 0h0m19.8 0h0m19.9 0h0m19.8 0h0m19.8 0h0m19.8 0h0m19.8 0h0m19.9 0h0m19.8 0h0m19.8 0h0m19.8 0h0m19.8 0h0m19.9 0h0m19.8 0h0m19.8 0h0m19.8 0h0m19.8 0h0m19.9 0h0m19.8 0h0m-763.1 17.1h0m19.8 0h0m19.8 0h0m19.9 0h0m19.8 0h0m19.8 0h0m19.8 0h0m19.9 0h0m19.8 0h0m19.8 0h0m19.8 0h0m19.8 0h0m19.8 0h0m19.9 0h0m19.8 0h0m19.8 0h0m19.8 0h0m19.9 0h0m19.8 0h0m19.8 0h0m19.8 0h0m19.8 0h0m19.8 0h0m19.9 0h0m19.8 0h0m19.8 0h0m19.8 0h0m19.8 0h0m19.9 0h0m19.8 0h0m19.8 0h0m19.8 0h0m19.9 0h0m19.8 0h0m19.8 0h0m19.8 0h0m19.8 0h0m19.9 0h0m19.8 0h0m19.8 0h0m-782.9 17.1h0m19.8 0h0m19.8 0h0m19.9 0h0m19.8 0h0m19.8 0h0m19.8 0h0m19.8 0h0m19.9 0h0m19.8 0h0m19.8 0h0m19.8 0h0m19.8 0h0m19.9 0h0m19.8 0h0m19.8 0h0m19.8 0h0m19.8 0h0m19.9 0h0m19.8 0h0m19.8 0h0m19.8 0h0m19.8 0h0m19.9 0h0m19.8 0h0m19.8 0h0m19.8 0h0m19.8 0h0m19.9 0h0m19.8 0h0m19.8 0h0m19.8 0h0m19.8 0h0m19.9 0h0m19.8 0h0m19.8 0h0m19.8 0h0m19.8 0h0m19.9 0h0m19.8 0h0"/>
<path fill="none" stroke="#2e5c25" stroke-width="4.4" stroke-linecap="round" d="M169.6 41h0m19.8 0h0m19.8 0h0m19.9 0h0m19.8 0h0m19.8 0h0m19.8 0h0m19.9 0h0m19.8 0h0m19.8 0h0m19.8 0h0m19.8 0h0m19.8 0h0m19.9 0h0m19.8 0h0m19.8 0h0m19.8 0h0m19.9 0h0m19.8 0h0m19.8 0h0m19.8 0h0m19.8 0h0m19.8 0h0m19.9 0h0m19.8 0h0m19.8 0h0m19.8 0h0m19.8 0h0m19.9 0h0m19.8 0h0m19.8 0h0m19.8 0h0m19.8 0h0m19.9 0h0m19.8 0h0m19.8 0h0m19.8 0h0m19.9 0h0m19.8 0h0m19.8 0h0m-763.1 17.1h0m19.8 0h0m19.9 0h0m19.8 0h0m19.8 0h0m19.8 0h0m19.8 0h0m19.9 0h0m19.8 0h0m19.8 0h0m19.8 0h0m19.8 0h0m19.9 0h0m19.8 0h0m19.8 0h0m19.8 0h0m19.8 0h0m19.9 0h0m19.8 0h0m19.8 0h0m19.8 0h0m19.8 0h0m19.9 0h0m19.8 0h0m19.8 0h0m19.8 0h0m19.8 0h0m19.9 0h0m19.8 0h0m19.8 0h0m19.8 0h0m19.8 0h0m19.9 0h0m19.8 0h0m19.8 0h0m19.8 0h0m19.8 0h0m19.9 0h0m19.8 0h0m19.8 0h0m-782.9 17.1h0m19.8 0h0m19.8 0h0m19.9 0h0m19.8 0h0m19.8 0h0m19.8 0h0m19.9 0h0m19.8 0h0m19.8 0h0m19.8 0h0m19.8 0h0m19.8 0h0m19.9 0h0m19.8 0h0m19.8 0h0m19.8 0h0m19.9 0h0m19.8 0h0m19.8 0h0m19.8 0h0m19.8 0h0m19.8 0h0m19.9 0h0m19.8 0h0m19.8 0h0m19.8 0h0m19.8 0h0m19.9 0h0m19.8 0h0m19.8 0h0m19.8 0h0m19.8 0h0m19.9 0h0m19.8 0h0m19.8 0h0m19.8 0h0m19.9 0h0m19.8 0h0m19.8 0h0m-763.1 17.2h0m19.8 0h0m19.9 0h0m19.8 0h0m19.8 0h0m19.8 0h0m19.8 0h0m19.9 0h0m19.8 0h0m19.8 0h0m19.8 0h0m19.8 0h0m19.9 0h0m19.8 0h0m19.8 0h0m19.8 0h0m19.8 0h0m19.9 0h0m19.8 0h0m19.8 0h0m19.8 0h0m19.8 0h0m19.9 0h0m19.8 0h0m19.8 0h0m19.8 0h0m19.8 0h0m19.9 0h0m19.8 0h0m19.8 0h0m19.8 0h0m19.8 0h0m19.9 0h0m19.8 0h0m19.8 0h0m19.8 0h0m19.8 0h0m19.9 0h0m19.8 0h0m19.8 0h0m-782.9 17.1h0m19.8 0h0m19.8 0h0m19.9 0h0m19.8 0h0m19.8 0h0m19.8 0h0m19.9 0h0m19.8 0h0m19.8 0h0m19.8 0h0m19.8 0h0m19.8 0h0m19.9 0h0m19.8 0h0m19.8 0h0m19.8 0h0m19.9 0h0m19.8 0h0m19.8 0h0m19.8 0h0m19.8 0h0m19.8 0h0m19.9 0h0m19.8 0h0m19.8 0h0m19.8 0h0m19.8 0h0m19.9 0h0m19.8 0h0m19.8 0h0m19.8 0h0m19.8 0h0m19.9 0h0m19.8 0h0m19.8 0h0m19.8 0h0m19.9 0h0m19.8 0h0m19.8 0h0m-763.1 17.1h0m19.8 0h0m19.9 0h0m19.8 0h0m19.8 0h0m19.8 0h0m19.8 0h0m19.9 0h0m19.8 0h0m19.8 0h0m19.8 0h0m19.8 0h0m19.9 0h0m19.8 0h0m19.8 0h0m19.8 0h0m19.8 0h0m19.9 0h0m19.8 0h0m19.8 0h0m19.8 0h0m19.8 0h0m19.9 0h0m19.8 0h0m19.8 0h0m19.8 0h0m19.8 0h0m19.9 0h0m19.8 0h0m19.8 0h0m19.8 0h0m19.8 0h0m19.9 0h0m19.8 0h0m19.8 0h0m19.8 0h0m19.8 0h0m19.9 0h0m19.8 0h0m19.8 0h0m-782.9 17.2h0m19.8 0h0m19.8 0h0m19.9 0h0m19.8 0h0m19.8 0h0m19.8 0h0m19.9 0h0m19.8 0h0m19.8 0h0m19.8 0h0m19.8 0h0m19.8 0h0m19.9 0h0m19.8 0h0m19.8 0h0m19.8 0h0m19.9 0h0m19.8 0h0m19.8 0h0m19.8 0h0m19.8 0h0m19.8 0h0m19.9 0h0m19.8 0h0m19.8 0h0m19.8 0h0m19.8 0h0m19.9 0h0m19.8 0h0m19.8 0h0m19.8 0h0m19.8 0h0m19.9 0h0m19.8 0h0m19.8 0h0m19.8 0h0m19.9 0h0m19.8 0h0m19.8 0h0m-763.1 17.1h0m19.8 0h0m19.9 0h0m19.8 0h0m19.8 0h0m19.8 0h0m19.8 0h0m19.9 0h0m19.8 0h0m19.8 0h0m19.8 0h0m19.8 0h0m19.9 0h0m19.8 0h0m19.8 0h0m19.8 0h0m19.8 0h0m19.9 0h0m19.8 0h0m19.8 0h0m19.8 0h0m19.8 0h0m19.9 0h0m19.8 0h0m19.8 0h0m19.8 0h0m19.8 0h0m19.9 0h0m19.8 0h0m19.8 0h0m19.8 0h0m19.8 0h0m19.9 0h0m19.8 0h0m19.8 0h0m19.8 0h0m19.8 0h0m19.9 0h0m19.8 0h0m19.8 0h0m-782.9 17.1h0m19.8 0h0m19.8 0h0m19.9 0h0m19.8 0h0m19.8 0h0m19.8 0h0m19.9 0h0m19.8 0h0m19.8 0h0m19.8 0h0m19.8 0h0m19.8 0h0m19.9 0h0m19.8 0h0m19.8 0h0m19.8 0h0m19.9 0h0m19.8 0h0m19.8 0h0m19.8 0h0m19.8 0h0m19.8 0h0m19.9 0h0m19.8 0h0m19.8 0h0m19.8 0h0m19.8 0h0m19.9 0h0m19.8 0h0m19.8 0h0m19.8 0h0m19.8 0h0m19.9 0h0m19.8 0h0m19.8 0h0m19.8 0h0m19.9 0h0m19.8 0h0m19.8 0h0m-763.1 17.1h0m19.8 0h0m19.9 0h0m19.8 0h0m19.8 0h0m19.8 0h0m19.8 0h0m19.9 0h0m19.8 0h0m19.8 0h0m19.8 0h0m19.8 0h0m19.9 0h0m19.8 0h0m19.8 0h0m19.8 0h0m19.8 0h0m19.9 0h0m19.8 0h0m19.8 0h0m19.8 0h0m19.8 0h0m19.9 0h0m19.8 0h0m19.8 0h0m19.8 0h0m19.8 0h0m19.9 0h0m19.8 0h0m19.8 0h0m19.8 0h0m19.8 0h0m19.9 0h0m19.8 0h0m19.8 0h0m19.8 0h0m19.8 0h0m19.9 0h0m19.8 0h0m19.8 0h0m-782.9 17.2h0m19.8 0h0m19.8 0h0m19.9 0h0m19.8 0h0m19.8 0h0m19.8 0h0m19.9 0h0m19.8 0h0m19.8 0h0m19.8 0h0m19.8 0h0m19.8 0h0m19.9 0h0m19.8 0h0m19.8 0h0m19.8 0h0m19.9 0h0m19.8 0h0m19.8 0h0m19.8 0h0m19.8 0h0m19.8 0h0m19.9 0h0m19.8 0h0m19.8 0h0m19.8 0h0m19.8 0h0m19.9 0h0m19.8 0h0m19.8 0h0m19.8 0h0m19.8 0h0m19.9 0h0m19.8 0h0m19.8 0h0m19.8 0h0m19.9 0h0m19.8 0h0m19.8 0h0m-763.1 17.1h0m19.8 0h0m19.9 0h0m19.8 0h0m19.8 0h0m19.8 0h0m19.8 0h0m19.9 0h0m19.8 0h0m19.8 0h0m19.8 0h0m19.8 0h0m19.9 0h0m19.8 0h0m19.8 0h0m19.8 0h0m19.8 0h0m19.9 0h0m19.8 0h0m19.8 0h0m19.8 0h0m19.8 0h0m19.9 0h0m19.8 0h0m19.8 0h0m19.8 0h0m19.8 0h0m19.9 0h0m19.8 0h0m19.8 0h0m19.8 0h0m19.8 0h0m19.9 0h0m19.8 0h0m19.8 0h0m19.8 0h0m19.8 0h0m19.9 0h0m19.8 0h0m19.8 0h0m-782.9 17.1h0m19.8 0h0m19.8 0h0m19.9 0h0m19.8 0h0m19.8 0h0m19.8 0h0m19.9 0h0m19.8 0h0m19.8 0h0m19.8 0h0m19.8 0h0m19.8 0h0m19.9 0h0m19.8 0h0m19.8 0h0m19.8 0h0m19.9 0h0m19.8 0h0m19.8 0h0m19.8 0h0m19.8 0h0m19.8 0h0m19.9 0h0m19.8 0h0m19.8 0h0m19.8 0h0m19.8 0h0m19.9 0h0m19.8 0h0m19.8 0h0m19.8 0h0m19.8 0h0m19.9 0h0m19.8 0h0m19.8 0h0m19.8 0h0m19.9 0h0m19.8 0h0m19.8 0h0m-763.1 17.2h0m19.8 0h0m19.9 0h0m19.8 0h0m19.8 0h0m19.8 0h0m19.8 0h0m19.9 0h0m19.8 0h0m19.8 0h0m19.8 0h0m19.8 0h0m19.9 0h0m19.8 0h0m19.8 0h0m19.8 0h0m19.8 0h0m19.9 0h0m19.8 0h0m19.8 0h0m19.8 0h0m19.8 0h0m19.9 0h0m19.8 0h0m19.8 0h0m19.8 0h0m19.8 0h0m19.9 0h0m19.8 0h0m19.8 0h0m19.8 0h0m19.8 0h0m19.9 0h0m19.8 0h0m19.8 0h0m19.8 0h0m19.8 0h0m19.9 0h0m19.8 0h0m19.8 0h0m-782.9 17.1h0m19.8 0h0m19.8 0h0m19.9 0h0m19.8 0h0m19.8 0h0m19.8 0h0m19.9 0h0m19.8 0h0m19.8 0h0m19.8 0h0m19.8 0h0m19.8 0h0m19.9 0h0m19.8 0h0m19.8 0h0m19.8 0h0m19.9 0h0m19.8 0h0m19.8 0h0m19.8 0h0m19.8 0h0m19.8 0h0m19.9 0h0m19.8 0h0m19.8 0h0m19.8 0h0m19.8 0h0m19.9 0h0m19.8 0h0m19.8 0h0m19.8 0h0m19.8 0h0m19.9 0h0m19.8 0h0m19.8 0h0m19.8 0h0m19.9 0h0m19.8 0h0m19.8 0h0m-763.1 17.1h0m19.8 0h0m19.9 0h0m19.8 0h0m19.8 0h0m19.8 0h0m19.8 0h0m19.9 0h0m19.8 0h0m19.8 0h0m19.8 0h0m19.8 0h0m19.9 0h0m19.8 0h0m19.8 0h0m19.8 0h0m19.8 0h0m19.9 0h0m19.8 0h0m19.8 0h0m19.8 0h0m19.8 0h0m19.9 0h0m19.8 0h0m19.8 0h0m19.8 0h0m19.8 0h0m19.9 0h0m19.8 0h0m19.8 0h0m19.8 0h0m19.8 0h0m19.9 0h0m19.8 0h0m19.8 0h0m19.8 0h0m19.8 0h0m19.9 0h0m19.8 0h0m19.8 0h0m-782.9 17.2h0m19.8 0h0m19.8 0h0m19.9 0h0m19.8 0h0m19.8 0h0m19.8 0h0m19.9 0h0m19.8 0h0m19.8 0h0m19.8 0h0m19.8 0h0m19.8 0h0m19.9 0h0m19.8 0h0m19.8 0h0m19.8 0h0m19.9 0h0m19.8 0h0m19.8 0h0m19.8 0h0m19.8 0h0m19.8 0h0m19.9 0h0m19.8 0h0m19.8 0h0m19.8 0h0m19.8 0h0m19.9 0h0m19.8 0h0m19.8 0h0m19.8 0h0m19.8 0h0m19.9 0h0m19.8 0h0m19.8 0h0m19.8 0h0m19.9 0h0m19.8 0h0m19.8 0h0m-763.1 17.1h0m19.8 0h0m19.9 0h0m19.8 0h0m19.8 0h0m19.8 0h0m19.8 0h0m19.9 0h0m19.8 0h0m19.8 0h0m19.8 0h0m19.8 0h0m19.9 0h0m19.8 0h0m19.8 0h0m19.8 0h0m19.8 0h0m19.9 0h0m19.8 0h0m19.8 0h0m19.8 0h0m19.8 0h0m19.9 0h0m19.8 0h0m19.8 0h0m19.8 0h0m19.8 0h0m19.9 0h0m19.8 0h0m19.8 0h0m19.8 0h0m19.8 0h0m19.9 0h0m19.8 0h0m19.8 0h0m19.8 0h0m19.8 0h0m19.9 0h0m19.8 0h0m19.8 0h0m-782.9 17.1h0m19.8 0h0m19.8 0h0m19.9 0h0m19.8 0h0m19.8 0h0m19.8 0h0m19.9 0h0m19.8 0h0m19.8 0h0m19.8 0h0m19.8 0h0m19.8 0h0m19.9 0h0m19.8 0h0m19.8 0h0m19.8 0h0m19.9 0h0m19.8 0h0m19.8 0h0m19.8 0h0m19.8 0h0m19.8 0h0m19.9 0h0m19.8 0h0m19.8 0h0m19.8 0h0m19.8 0h0m19.9 0h0m19.8 0h0m19.8 0h0m19.8 0h0m19.8 0h0m19.9 0h0m19.8 0h0m19.8 0h0m19.8 0h0m19.9 0h0m19.8 0h0m19.8 0h0m-763.1 17.1h0m19.8 0h0m19.9 0h0m19.8 0h0m19.8 0h0m19.8 0h0m19.8 0h0m19.9 0h0m19.8 0h0m19.8 0h0m19.8 0h0m19.8 0h0m19.9 0h0m19.8 0h0m19.8 0h0m19.8 0h0m19.8 0h0m19.9 0h0m19.8 0h0m19.8 0h0m19.8 0h0m19.8 0h0m19.9 0h0m19.8 0h0m19.8 0h0m19.8 0h0m19.8 0h0m19.9 0h0m19.8 0h0m19.8 0h0m19.8 0h0m19.8 0h0m19.9 0h0m19.8 0h0m19.8 0h0m19.8 0h0m19.8 0h0m19.9 0h0m19.8 0h0m19.8 0h0m-782.9 17.2h0m19.8 0h0m19.8 0h0m19.9 0h0m19.8 0h0m19.8 0h0m19.8 0h0m19.9 0h0m19.8 0h0m19.8 0h0m19.8 0h0m19.8 0h0m19.8 0h0m19.9 0h0m19.8 0h0m19.8 0h0m19.8 0h0m19.9 0h0m19.8 0h0m19.8 0h0m19.8 0h0m19.8 0h0m19.8 0h0m19.9 0h0m19.8 0h0m19.8 0h0m19.8 0h0m19.8 0h0m19.9 0h0m19.8 0h0m19.8 0h0m19.8 0h0m19.8 0h0m19.9 0h0m19.8 0h0m19.8 0h0m19.8 0h0m19.9 0h0m19.8 0h0m19.8 0h0m-763.1 17.1h0m19.8 0h0m19.9 0h0m19.8 0h0m19.8 0h0m19.8 0h0m19.8 0h0m19.9 0h0m19.8 0h0m19.8 0h0m19.8 0h0m19.8 0h0m19.9 0h0m19.8 0h0m19.8 0h0m19.8 0h0m19.8 0h0m19.9 0h0m19.8 0h0m19.8 0h0m19.8 0h0m19.8 0h0m19.9 0h0m19.8 0h0m19.8 0h0m19.8 0h0m19.8 0h0m19.9 0h0m19.8 0h0m19.8 0h0m19.8 0h0m19.8 0h0m19.9 0h0m19.8 0h0m19.8 0h0m19.8 0h0m19.8 0h0m19.9 0h0m19.8 0h0m19.8 0h0m-782.9 17.1h0m19.8 0h0m19.8 0h0m19.9 0h0m19.8 0h0m19.8 0h0m19.8 0h0m19.9 0h0m19.8 0h0m19.8 0h0m19.8 0h0m19.8 0h0m19.8 0h0m19.9 0h0m19.8 0h0m19.8 0h0m19.8 0h0m19.9 0h0m19.8 0h0m19.8 0h0m19.8 0h0m19.8 0h0m19.8 0h0m19.9 0h0m19.8 0h0m19.8 0h0m19.8 0h0m19.8 0h0m19.9 0h0m19.8 0h0m19.8 0h0m19.8 0h0m19.8 0h0m19.9 0h0m19.8 0h0m19.8 0h0m19.8 0h0m19.9 0h0m19.8 0h0m19.8 0h0m-763.1 17.2h0m19.8 0h0m19.9 0h0m19.8 0h0m19.8 0h0m19.8 0h0m19.8 0h0m19.9 0h0m19.8 0h0m19.8 0h0m19.8 0h0m19.8 0h0m19.9 0h0m19.8 0h0m19.8 0h0m19.8 0h0m19.8 0h0m19.9 0h0m19.8 0h0m19.8 0h0m19.8 0h0m19.8 0h0m19.9 0h0m19.8 0h0m19.8 0h0m19.8 0h0m19.8 0h0m19.9 0h0m19.8 0h0m19.8 0h0m19.8 0h0m19.8 0h0m19.9 0h0m19.8 0h0m19.8 0h0m19.8 0h0m19.8 0h0m19.9 0h0m19.8 0h0m19.8 0h0m-782.9 17.1h0m19.8 0h0m19.8 0h0m19.9 0h0m19.8 0h0m19.8 0h0m19.8 0h0m19.9 0h0m19.8 0h0m19.8 0h0m19.8 0h0m19.8 0h0m19.8 0h0m19.9 0h0m19.8 0h0m19.8 0h0m19.8 0h0m19.9 0h0m19.8 0h0m19.8 0h0m19.8 0h0m19.8 0h0m19.8 0h0m19.9 0h0m19.8 0h0m19.8 0h0m19.8 0h0m19.8 0h0m19.9 0h0m19.8 0h0m19.8 0h0m19.8 0h0m19.8 0h0m19.9 0h0m19.8 0h0m19.8 0h0m19.8 0h0m19.9 0h0m19.8 0h0m19.8 0h0m-763.1 17.1h0m19.8 0h0m19.9 0h0m19.8 0h0m19.8 0h0m19.8 0h0m19.8 0h0m19.9 0h0m19.8 0h0m19.8 0h0m19.8 0h0m19.8 0h0m19.9 0h0m19.8 0h0m19.8 0h0m19.8 0h0m19.8 0h0m19.9 0h0m19.8 0h0m19.8 0h0m19.8 0h0m19.8 0h0m19.9 0h0m19.8 0h0m19.8 0h0m19.8 0h0m19.8 0h0m19.9 0h0m19.8 0h0m19.8 0h0m19.8 0h0m19.8 0h0m19.9 0h0m19.8 0h0m19.8 0h0m19.8 0h0m19.8 0h0m19.9 0h0m19.8 0h0m19.8 0h0m-782.9 17.2h0m19.8 0h0m19.8 0h0m19.9 0h0m19.8 0h0m19.8 0h0m19.8 0h0m19.9 0h0m19.8 0h0m19.8 0h0m19.8 0h0m19.8 0h0m19.8 0h0m19.9 0h0m19.8 0h0m19.8 0h0m19.8 0h0m19.9 0h0m19.8 0h0m19.8 0h0m19.8 0h0m19.8 0h0m19.8 0h0m19.9 0h0m19.8 0h0m19.8 0h0m19.8 0h0m19.8 0h0m19.9 0h0m19.8 0h0m19.8 0h0m19.8 0h0m19.8 0h0m19.9 0h0m19.8 0h0m19.8 0h0m19.8 0h0m19.9 0h0m19.8 0h0m19.8 0h0m-763.1 17.1h0m19.8 0h0m19.9 0h0m19.8 0h0m19.8 0h0m19.8 0h0m19.8 0h0m19.9 0h0m19.8 0h0m19.8 0h0m19.8 0h0m19.8 0h0m19.9 0h0m19.8 0h0m19.8 0h0m19.8 0h0m19.8 0h0m19.9 0h0m19.8 0h0m19.8 0h0m19.8 0h0m19.8 0h0m19.9 0h0m19.8 0h0m19.8 0h0m19.8 0h0m19.8 0h0m19.9 0h0m19.8 0h0m19.8 0h0m19.8 0h0m19.8 0h0m19.9 0h0m19.8 0h0m19.8 0h0m19.8 0h0m19.8 0h0m19.9 0h0m19.8 0h0m19.8 0h0m-782.9 17.1h0m19.8 0h0m19.8 0h0m19.9 0h0m19.8 0h0m19.8 0h0m19.8 0h0m19.9 0h0m19.8 0h0m19.8 0h0m19.8 0h0m19.8 0h0m19.8 0h0m19.9 0h0m19.8 0h0m19.8 0h0m19.8 0h0m19.9 0h0m19.8 0h0m19.8 0h0m19.8 0h0m19.8 0h0m19.8 0h0m19.9 0h0m19.8 0h0m19.8 0h0m19.8 0h0m19.8 0h0m19.9 0h0m19.8 0h0m19.8 0h0m19.8 0h0m19.8 0h0m19.9 0h0m19.8 0h0m19.8 0h0m19.8 0h0m19.9 0h0m19.8 0h0m19.8 0h0m-763.1 17.1h0m19.8 0h0m19.9 0h0m19.8 0h0m19.8 0h0m19.8 0h0m19.8 0h0m19.9 0h0m19.8 0h0m19.8 0h0m19.8 0h0m19.8 0h0m19.9 0h0m19.8 0h0m19.8 0h0m19.8 0h0m19.8 0h0m19.9 0h0m19.8 0h0m19.8 0h0m19.8 0h0m19.8 0h0m19.9 0h0m19.8 0h0m19.8 0h0m19.8 0h0m19.8 0h0m19.9 0h0m19.8 0h0m19.8 0h0m19.8 0h0m19.8 0h0m19.9 0h0m19.8 0h0m19.8 0h0m19.8 0h0m19.8 0h0m19.9 0h0m19.8 0h0m19.8 0h0m-782.9 17.2h0m19.8 0h0m19.8 0h0m19.9 0h0m19.8 0h0m19.8 0h0m19.8 0h0m19.9 0h0m19.8 0h0m19.8 0h0m19.8 0h0m19.8 0h0m19.8 0h0m19.9 0h0m19.8 0h0m19.8 0h0m19.8 0h0m19.9 0h0m19.8 0h0m19.8 0h0m19.8 0h0m19.8 0h0m19.8 0h0m19.9 0h0m19.8 0h0m19.8 0h0m19.8 0h0m19.8 0h0m19.9 0h0m19.8 0h0m19.8 0h0m19.8 0h0m19.8 0h0m19.9 0h0m19.8 0h0m19.8 0h0m19.8 0h0m19.9 0h0m19.8 0h0m19.8 0h0m-763.1 17.1h0m19.8 0h0m19.9 0h0m19.8 0h0m19.8 0h0m19.8 0h0m19.8 0h0m19.9 0h0m19.8 0h0m19.8 0h0m19.8 0h0m19.8 0h0m19.9 0h0m19.8 0h0m19.8 0h0m19.8 0h0m19.8 0h0m19.9 0h0m19.8 0h0m19.8 0h0m19.8 0h0m19.8 0h0m19.9 0h0m19.8 0h0m19.8 0h0m19.8 0h0m19.8 0h0m19.9 0h0m19.8 0h0m19.8 0h0m19.8 0h0m19.8 0h0m19.9 0h0m19.8 0h0m19.8 0h0m19.8 0h0m19.8 0h0m19.9 0h0m19.8 0h0m19.8 0h0m-782.9 17.1h0m19.8 0h0m19.8 0h0m19.9 0h0m19.8 0h0m19.8 0h0m19.8 0h0m19.9 0h0m19.8 0h0m19.8 0h0m19.8 0h0m19.8 0h0m19.8 0h0m19.9 0h0m19.8 0h0m19.8 0h0m19.8 0h0m19.9 0h0m19.8 0h0m19.8 0h0m19.8 0h0m19.8 0h0m19.8 0h0m19.9 0h0m19.8 0h0m19.8 0h0m19.8 0h0m19.8 0h0m19.9 0h0m19.8 0h0m19.8 0h0m19.8 0h0m19.8 0h0m19.9 0h0m19.8 0h0m19.8 0h0m19.8 0h0m19.9 0h0m19.8 0h0m19.8 0h0m-763.1 17.2h0m19.8 0h0m19.9 0h0m19.8 0h0m19.8 0h0m19.8 0h0m19.8 0h0m19.9 0h0m19.8 0h0m19.8 0h0m19.8 0h0m19.8 0h0m19.9 0h0m19.8 0h0m19.8 0h0m19.8 0h0m19.8 0h0m19.9 0h0m19.8 0h0m19.8 0h0m19.8 0h0m19.8 0h0m19.9 0h0m19.8 0h0m19.8 0h0m19.8 0h0m19.8 0h0m19.9 0h0m19.8 0h0m19.8 0h0m19.8 0h0m19.8 0h0m19.9 0h0m19.8 0h0m19.8 0h0m19.8 0h0m19.8 0h0m19.9 0h0m19.8 0h0m19.8 0h0m-782.9 17.1h0m19.8 0h0m19.8 0h0m19.9 0h0m19.8 0h0m19.8 0h0m19.8 0h0m19.9 0h0m19.8 0h0m19.8 0h0m19.8 0h0m19.8 0h0m19.8 0h0m19.9 0h0m19.8 0h0m19.8 0h0m19.8 0h0m19.9 0h0m19.8 0h0m19.8 0h0m19.8 0h0m19.8 0h0m19.8 0h0m19.9 0h0m19.8 0h0m19.8 0h0m19.8 0h0m19.8 0h0m19.9 0h0m19.8 0h0m19.8 0h0m19.8 0h0m19.8 0h0m19.9 0h0m19.8 0h0m19.8 0h0m19.8 0h0m19.9 0h0m19.8 0h0m19.8 0h0"/>
<g opacity="0.97">
<path fill="none" stroke="#f0c098" stroke-width="5.0" stroke-linecap="round" d="M196.3 21.1h0m19.8 1.1h0m19.8 1h0m19.8 1h0m19.8 1.1h0m19.8 1h0m19.8 1h0m19.7 1.1h0m19.8 1h0m19.8 1h0m19.8 1h0m19.8 1.1h0m19.8 1h0m19.8 1h0m19.8 1.1h0m19.8 1h0m19.8 1h0m19.8 1.1h0m19.8 1h0m19.8 1h0m19.8 1h0m19.8 1.1h0m19.7 1h0m19.8 1h0m19.8 1.1h0m19.8 1h0m19.8 1h0m19.8 1.1h0m19.8 1h0m19.8 1h0m19.8 1.1h0m19.8 1h0m19.8 1h0m19.8 1h0m19.8 1.1h0m19.8 1h0m19.8 1h0m19.7 1.1h0m19.8 1h0m19.8 1h0m-782.7 -23.6h0m19.8 1.1h0m19.8 1h0m19.8 1h0m19.8 1.1h0m19.8 1h0m19.8 1h0m19.8 1h0m19.8 1.1h0m19.7 1h0m19.8 1h0m19.8 1.1h0m19.8 1h0m19.8 1h0m19.8 1.1h0m19.8 1h0m19.8 1h0m19.8 1h0m19.8 1.1h0m19.8 1h0m19.8 1h0m19.8 1.1h0m19.8 1h0m19.8 1h0m19.7 1.1h0m19.8 1h0m19.8 1h0m19.8 1.1h0m19.8 1h0m19.8 1h0m19.8 1h0m19.8 1.1h0m19.8 1h0m19.8 1h0m19.8 1.1h0m19.8 1h0m19.8 1h0m19.8 1.1h0m19.8 1h0m19.7 1h0m-762.9 -22.5h0m19.8 1h0m19.8 1h0m19.8 1h0m19.8 1.1h0m19.8 1h0m19.8 1h0m19.8 1.1h0m19.8 1h0m19.8 1h0m19.7 1.1h0m19.8 1h0m19.8 1h0m19.8 1h0m19.8 1.1h0m19.8 1h0m19.8 1h0m19.8 1.1h0m19.8 1h0m19.8 1h0m19.8 1.1h0m19.8 1h0m19.8 1h0m19.8 1.1h0m19.8 1h0m19.7 1h0m19.8 1h0m19.8 1.1h0m19.8 1h0m19.8 1h0m19.8 1.1h0m19.8 1h0m19.8 1h0m19.8 1.1h0m19.8 1h0m19.8 1h0m19.8 1h0m19.8 1.1h0m19.8 1h0m19.8 1h0m-782.8 -23.6h0m19.8 1.1h0m19.8 1h0m19.8 1h0m19.8 1.1h0m19.8 1h0m19.8 1h0m19.8 1.1h0m19.8 1h0m19.8 1h0m19.8 1h0m19.8 1.1h0m19.7 1h0m19.8 1h0m19.8 1.1h0m19.8 1h0m19.8 1h0m19.8 1.1h0m19.8 1h0m19.8 1h0m19.8 1.1h0m19.8 1h0m19.8 1h0m19.8 1h0m19.8 1.1h0m19.8 1h0m19.8 1h0m19.7 1.1h0m19.8 1h0m19.8 1h0m19.8 1.1h0m19.8 1h0m19.8 1h0m19.8 1h0m19.8 1.1h0m19.8 1h0m19.8 1h0m19.8 1.1h0m19.8 1h0m19.8 1h0m-763 -22.5h0m19.8 1h0m19.8 1h0m19.8 1.1h0m19.8 1h0m19.8 1h0m19.8 1h0m19.8 1.1h0m19.8 1h0m19.8 1h0m19.8 1.1h0m19.8 1h0m19.8 1h0m19.7 1.1h0m19.8 1h0m19.8 1h0m19.8 1.1h0m19.8 1h0m19.8 1h0m19.8 1h0m19.8 1.1h0m19.8 1h0m19.8 1h0m19.8 1.1h0m19.8 1h0m19.8 1h0m19.8 1.1h0m19.8 1h0m19.7 1h0m19.8 1h0m19.8 1.1h0m19.8 1h0m19.8 1h0m19.8 1.1h0m19.8 1h0m19.8 1h0m19.8 1.1h0m19.8 1h0m19.8 1h0m19.8 1.1h0m-782.8 -23.6h0m19.8 1h0m19.8 1h0m19.8 1h0m19.8 1.1h0m19.8 1h0m19.8 1h0m19.8 1.1h0m19.8 1h0m19.8 1h0m19.8 1.1h0m19.8 1h0m19.8 1h0m19.8 1.1h0m19.8 1h0m19.7 1h0m19.8 1h0m19.8 1.1h0m19.8 1h0m19.8 1h0m19.8 1.1h0m19.8 1h0m19.8 1h0m19.8 1.1h0m19.8 1h0m19.8 1h0m19.8 1h0m19.8 1.1h0m19.8 1h0m19.8 1h0m19.7 1.1h0m19.8 1h0m19.8 1h0m19.8 1.1h0m19.8 1h0m19.8 1h0m19.8 1.1h0m19.8 1h0m19.8 1h0m19.8 1h0m-762.9 -22.5h0m19.7 1h0m19.8 1h0m19.8 1.1h0m19.8 1h0m19.8 1h0m19.8 1.1h0m19.8 1h0m19.8 1h0m19.8 1.1h0m19.8 1h0m19.8 1h0m19.8 1h0m19.8 1.1h0m19.8 1h0m19.8 1h0m19.7 1.1h0m19.8 1h0m19.8 1h0m19.8 1.1h0m19.8 1h0m19.8 1h0m19.8 1h0m19.8 1.1h0m19.8 1h0m19.8 1h0m19.8 1.1h0m19.8 1h0m19.8 1h0m19.8 1.1h0m19.8 1h0m19.7 1h0m19.8 1.1h0m19.8 1h0m19.8 1h0m19.8 1h0m19.8 1.1h0m19.8 1h0m19.8 1h0m19.8 1.1h0m-782.7 -23.6h0m19.8 1h0m19.8 1h0m19.7 1.1h0m19.8 1h0m19.8 1h0m19.8 1.1h0m19.8 1h0m19.8 1h0m19.8 1h0m19.8 1.1h0m19.8 1h0m19.8 1h0m19.8 1.1h0m19.8 1h0m19.8 1h0m19.8 1.1h0m19.8 1h0m19.7 1h0m19.8 1h0m19.8 1.1h0m19.8 1h0m19.8 1h0m19.8 1.1h0m19.8 1h0m19.8 1h0m19.8 1.1h0m19.8 1h0m19.8 1h0m19.8 1.1h0m19.8 1h0m19.8 1h0m19.7 1h0m19.8 1.1h0m19.8 1h0m19.8 1h0m19.8 1.1h0m19.8 1h0m19.8 1h0m19.8 1.1h0m-762.9 -22.6h0m19.8 1h0m19.8 1.1h0m19.8 1h0m19.7 1h0m19.8 1h0m19.8 1.1h0m19.8 1h0m19.8 1h0m19.8 1.1h0m19.8 1h0m19.8 1h0m19.8 1.1h0m19.8 1h0m19.8 1h0m19.8 1h0m19.8 1.1h0m19.8 1h0m19.8 1h0m19.7 1.1h0m19.8 1h0m19.8 1h0m19.8 1.1h0m19.8 1h0m19.8 1h0m19.8 1.1h0m19.8 1h0m19.8 1h0m19.8 1h0m19.8 1.1h0m19.8 1h0m19.8 1h0m19.8 1.1h0m19.7 1h0m19.8 1h0m19.8 1.1h0m19.8 1h0m19.8 1h0m19.8 1h0m19.8 1.1h0m-782.7 -23.6h0m19.8 1h0m19.8 1h0m19.8 1.1h0m19.8 1h0m19.8 1h0m19.7 1.1h0m19.8 1h0m19.8 1h0m19.8 1.1h0m19.8 1h0m19.8 1h0m19.8 1h0m19.8 1.1h0m19.8 1h0m19.8 1h0m19.8 1.1h0m19.8 1h0m19.8 1h0m19.8 1.1h0m19.8 1h0m19.7 1h0m19.8 1.1h0m19.8 1h0m19.8 1h0m19.8 1h0m19.8 1.1h0m19.8 1h0m19.8 1h0m19.8 1.1h0m19.8 1h0m19.8 1h0m19.8 1.1h0m19.8 1h0m19.8 1h0m19.7 1h0m19.8 1.1h0m19.8 1h0m19.8 1h0m19.8 1.1h0m-762.9 -22.6h0m19.8 1h0m19.8 1.1h0m19.8 1h0m19.8 1h0m19.8 1.1h0m19.8 1h0m19.7 1h0m19.8 1.1h0m19.8 1h0m19.8 1h0m19.8 1h0m19.8 1.1h0m19.8 1h0m19.8 1h0m19.8 1.1h0m19.8 1h0m19.8 1h0m19.8 1.1h0m19.8 1h0m19.8 1h0m19.7 1h0m19.8 1.1h0m19.8 1h0m19.8 1h0m19.8 1.1h0m19.8 1h0m19.8 1h0m19.8 1.1h0m19.8 1h0m19.8 1h0m19.8 1h0m19.8 1.1h0m19.8 1h0m19.8 1h0m19.8 1.1h0m19.7 1h0m19.8 1h0m19.8 1.1h0m19.8 1h0m-782.7 -23.6h0m19.8 1h0m19.8 1.1h0m19.8 1h0m19.8 1h0m19.8 1.1h0m19.8 1h0m19.8 1h0m19.8 1h0m19.7 1.1h0m19.8 1h0m19.8 1h0m19.8 1.1h0m19.8 1h0m19.8 1h0m19.8 1.1h0m19.8 1h0m19.8 1h0m19.8 1h0m19.8 1.1h0m19.8 1h0m19.8 1h0m19.8 1.1h0m19.7 1h0m19.8 1h0m19.8 1.1h0m19.8 1h0m19.8 1h0m19.8 1h0m19.8 1.1h0m19.8 1h0m19.8 1h0m19.8 1.1h0m19.8 1h0m19.8 1h0m19.8 1.1h0m19.8 1h0m19.8 1h0m19.7 1.1h0m19.8 1h0m-762.9 -22.6h0m19.8 1.1h0m19.8 1h0m19.8 1h0m19.8 1h0m19.8 1.1h0m19.8 1h0m19.8 1h0m19.8 1.1h0m19.7 1h0m19.8 1h0m19.8 1.1h0m19.8 1h0m19.8 1h0m19.8 1h0m19.8 1.1h0m19.8 1h0m19.8 1h0m19.8 1.1h0m19.8 1h0m19.8 1h0m19.8 1.1h0m19.8 1h0m19.8 1h0m19.7 1h0m19.8 1.1h0m19.8 1h0m19.8 1h0m19.8 1.1h0m19.8 1h0m19.8 1h0m19.8 1.1h0m19.8 1h0m19.8 1h0m19.8 1.1h0m19.8 1h0m19.8 1h0m19.8 1h0m19.8 1.1h0m19.7 1h0m-782.7 -23.6h0m19.8 1h0m19.8 1.1h0m19.8 1h0m19.8 1h0m19.8 1.1h0m19.8 1h0m19.8 1h0m19.8 1.1h0m19.8 1h0m19.8 1h0m19.7 1h0m19.8 1.1h0m19.8 1h0m19.8 1h0m19.8 1.1h0m19.8 1h0m19.8 1h0m19.8 1.1h0m19.8 1h0m19.8 1h0m19.8 1.1h0m19.8 1h0m19.8 1h0m19.8 1h0m19.8 1.1h0m19.7 1h0m19.8 1h0m19.8 1.1h0m19.8 1h0m19.8 1h0m19.8 1.1h0m19.8 1h0m19.8 1h0m19.8 1h0m19.8 1.1h0m19.8 1h0m19.8 1h0m19.8 1.1h0m19.8 1h0m-763 -22.6h0m19.8 1.1h0m19.8 1h0m19.8 1h0m19.8 1.1h0m19.8 1h0m19.8 1h0m19.8 1h0m19.8 1.1h0m19.8 1h0m19.8 1h0m19.8 1.1h0m19.7 1h0m19.8 1h0m19.8 1.1h0m19.8 1h0m19.8 1h0m19.8 1.1h0m19.8 1h0m19.8 1h0m19.8 1h0m19.8 1.1h0m19.8 1h0m19.8 1h0m19.8 1.1h0m19.8 1h0m19.8 1h0m19.7 1.1h0m19.8 1h0m19.8 1h0m19.8 1h0m19.8 1.1h0m19.8 1h0m19.8 1h0m19.8 1.1h0m19.8 1h0m19.8 1h0m19.8 1.1h0m19.8 1h0m19.8 1h0m-782.8 -23.6h0m19.8 1.1h0m19.8 1h0m19.8 1h0m19.8 1h0m19.8 1.1h0m19.8 1h0m19.8 1h0m19.8 1.1h0m19.8 1h0m19.8 1h0m19.8 1.1h0m19.8 1h0m19.8 1h0m19.7 1.1h0m19.8 1h0m19.8 1h0m19.8 1h0m19.8 1.1h0m19.8 1h0m19.8 1h0m19.8 1.1h0m19.8 1h0m19.8 1h0m19.8 1.1h0m19.8 1h0m19.8 1h0m19.8 1h0m19.8 1.1h0m19.7 1h0m19.8 1h0m19.8 1.1h0m19.8 1h0m19.8 1h0m19.8 1.1h0m19.8 1h0m19.8 1h0m19.8 1.1h0m19.8 1h0m19.8 1h0m-763 -22.6h0m19.8 1.1h0m19.8 1h0m19.8 1h0m19.8 1.1h0m19.8 1h0m19.8 1h0m19.8 1.1h0m19.8 1h0m19.8 1h0m19.8 1.1h0m19.8 1h0m19.8 1h0m19.8 1h0m19.8 1.1h0m19.7 1h0m19.8 1h0m19.8 1.1h0m19.8 1h0m19.8 1h0m19.8 1.1h0m19.8 1h0m19.8 1h0m19.8 1h0m19.8 1.1h0m19.8 1h0m19.8 1h0m19.8 1.1h0m19.8 1h0m19.8 1h0m19.7 1.1h0m19.8 1h0m19.8 1h0m19.8 1.1h0m19.8 1h0m19.8 1h0m19.8 1h0m19.8 1.1h0m19.8 1h0m19.8 1h0m-782.7 -23.6h0m19.8 1.1h0m19.7 1h0m19.8 1h0m19.8 1.1h0m19.8 1h0m19.8 1h0m19.8 1.1h0m19.8 1h0m19.8 1h0m19.8 1h0m19.8 1.1h0m19.8 1h0m19.8 1h0m19.8 1.1h0m19.8 1h0m19.8 1h0m19.7 1.1h0m19.8 1h0m19.8 1h0m19.8 1h0m19.8 1.1h0m19.8 1h0m19.8 1h0m19.8 1.1h0m19.8 1h0m19.8 1h0m19.8 1.1h0m19.8 1h0m19.8 1h0m19.8 1.1h0m19.8 1h0m19.7 1h0m19.8 1h0m19.8 1.1h0m19.8 1h0m19.8 1h0m19.8 1.1h0m19.8 1h0m19.8 1h0m-762.9 -22.5h0m19.8 1h0m19.8 1h0m19.7 1.1h0m19.8 1h0m19.8 1h0m19.8 1h0m19.8 1.1h0m19.8 1h0m19.8 1h0m19.8 1.1h0m19.8 1h0m19.8 1h0m19.8 1.1h0m19.8 1h0m19.8 1h0m19.8 1h0m19.8 1.1h0m19.7 1h0m19.8 1h0m19.8 1.1h0m19.8 1h0m19.8 1h0m19.8 1.1h0m19.8 1h0m19.8 1h0m19.8 1.1h0m19.8 1h0m19.8 1h0m19.8 1h0m19.8 1.1h0m19.8 1h0m19.8 1h0m19.7 1.1h0m19.8 1h0m19.8 1h0m19.8 1.1h0m19.8 1h0m19.8 1h0m19.8 1h0m-782.7 -23.5h0m19.8 1h0m19.8 1h0m19.8 1h0m19.8 1.1h0m19.7 1h0m19.8 1h0m19.8 1.1h0m19.8 1h0m19.8 1h0m19.8 1.1h0m19.8 1h0m19.8 1h0m19.8 1h0m19.8 1.1h0m19.8 1h0m19.8 1h0m19.8 1.1h0m19.8 1h0m19.8 1h0m19.7 1.1h0m19.8 1h0m19.8 1h0m19.8 1.1h0m19.8 1h0m19.8 1h0m19.8 1h0m19.8 1.1h0m19.8 1h0m19.8 1h0m19.8 1.1h0m19.8 1h0m19.8 1h0m19.8 1.1h0m19.7 1h0m19.8 1h0m19.8 1h0m19.8 1.1h0m19.8 1h0m19.8 1h0m-762.9 -22.5h0m19.8 1h0m19.8 1h0m19.8 1.1h0m19.8 1h0m19.8 1h0m19.7 1.1h0m19.8 1h0m19.8 1h0m19.8 1h0m19.8 1.1h0m19.8 1h0m19.8 1h0m19.8 1.1h0m19.8 1h0m19.8 1h0m19.8 1.1h0m19.8 1h0m19.8 1h0m19.8 1.1h0m19.8 1h0m19.7 1h0m19.8 1h0m19.8 1.1h0m19.8 1h0m19.8 1h0m19.8 1.1h0m19.8 1h0m19.8 1h0m19.8 1.1h0m19.8 1h0m19.8 1h0m19.8 1h0m19.8 1.1h0m19.8 1h0m19.7 1h0m19.8 1.1h0m19.8 1h0m19.8 1h0m19.8 1.1h0m-782.7 -23.6h0m19.8 1h0m19.8 1h0m19.8 1.1h0m19.8 1h0m19.8 1h0m19.8 1h0m19.8 1.1h0m19.7 1h0m19.8 1h0m19.8 1.1h0m19.8 1h0m19.8 1h0m19.8 1.1h0m19.8 1h0m19.8 1h0m19.8 1.1h0m19.8 1h0m19.8 1h0m19.8 1h0m19.8 1.1h0m19.8 1h0m19.7 1h0m19.8 1.1h0m19.8 1h0m19.8 1h0m19.8 1.1h0m19.8 1h0m19.8 1h0m19.8 1h0m19.8 1.1h0m19.8 1h0m19.8 1h0m19.8 1.1h0m19.8 1h0m19.8 1h0m19.8 1.1h0m19.7 1h0m19.8 1h0m19.8 1.1h0m-762.9 -22.6h0m19.8 1h0m19.8 1h0m19.8 1.1h0m19.8 1h0m19.8 1h0m19.8 1.1h0m19.8 1h0m19.8 1h0m19.7 1.1h0m19.8 1h0m19.8 1h0m19.8 1.1h0m19.8 1h0m19.8 1h0m19.8 1h0m19.8 1.1h0m19.8 1h0m19.8 1h0m19.8 1.1h0m19.8 1h0m19.8 1h0m19.8 1.1h0m19.7 1h0m19.8 1h0m19.8 1h0m19.8 1.1h0m19.8 1h0m19.8 1h0m19.8 1.1h0m19.8 1h0m19.8 1h0m19.8 1.1h0m19.8 1h0m19.8 1h0m19.8 1.1h0m19.8 1h0m19.8 1h0m19.7 1h0m19.8 1.1h0m-782.7 -23.6h0m19.8 1h0m19.8 1h0m19.8 1.1h0m19.8 1h0m19.8 1h0m19.8 1.1h0m19.8 1h0m19.8 1h0m19.8 1.1h0m19.8 1h0m19.7 1h0m19.8 1h0m19.8 1.1h0m19.8 1h0m19.8 1h0m19.8 1.1h0m19.8 1h0m19.8 1h0m19.8 1.1h0m19.8 1h0m19.8 1h0m19.8 1h0m19.8 1.1h0m19.8 1h0m19.7 1h0m19.8 1.1h0m19.8 1h0m19.8 1h0m19.8 1.1h0m19.8 1h0m19.8 1h0m19.8 1.1h0m19.8 1h0m19.8 1h0m19.8 1h0m19.8 1.1h0m19.8 1h0m19.8 1h0m19.8 1.1h0m-763 -22.6h0m19.8 1h0m19.8 1.1h0m19.8 1h0m19.8 1h0m19.8 1.1h0m19.8 1h0m19.8 1h0m19.8 1h0m19.8 1.1h0m19.8 1h0m19.7 1h0m19.8 1.1h0m19.8 1h0m19.8 1h0m19.8 1.1h0m19.8 1h0m19.8 1h0m19.8 1h0m19.8 1.1h0m19.8 1h0m19.8 1h0m19.8 1.1h0m19.8 1h0m19.8 1h0m19.8 1.1h0m19.7 1h0m19.8 1h0m19.8 1.1h0m19.8 1h0m19.8 1h0m19.8 1h0m19.8 1.1h0m19.8 1h0m19.8 1h0m19.8 1.1h0m19.8 1h0m19.8 1h0m19.8 1.1h0m19.8 1h0m-782.8 -23.6h0m19.8 1h0m19.8 1.1h0m19.8 1h0m19.8 1h0m19.8 1h0m19.8 1.1h0m19.8 1h0m19.8 1h0m19.8 1.1h0m19.8 1h0m19.8 1h0m19.8 1.1h0m19.7 1h0m19.8 1h0m19.8 1.1h0m19.8 1h0m19.8 1h0m19.8 1h0m19.8 1.1h0m19.8 1h0m19.8 1h0m19.8 1.1h0m19.8 1h0m19.8 1h0m19.8 1.1h0m19.8 1h0m19.8 1h0m19.7 1h0m19.8 1.1h0m19.8 1h0m19.8 1h0m19.8 1.1h0m19.8 1h0m19.8 1h0m19.8 1.1h0m19.8 1h0m19.8 1h0m19.8 1h0m19.8 1.1h0m-763 -22.6h0m19.8 1h0m19.8 1.1h0m19.8 1h0m19.8 1h0m19.8 1.1h0m19.8 1h0m19.8 1h0m19.8 1.1h0m19.8 1h0m19.8 1h0m19.8 1.1h0m19.8 1h0m19.8 1h0m19.7 1h0m19.8 1.1h0m19.8 1h0m19.8 1h0m19.8 1.1h0m19.8 1h0m19.8 1h0m19.8 1.1h0m19.8 1h0m19.8 1h0m19.8 1h0m19.8 1.1h0m19.8 1h0m19.8 1h0m19.8 1.1h0m19.7 1h0m19.8 1h0m19.8 1.1h0m19.8 1h0m19.8 1h0m19.8 1h0m19.8 1.1h0m19.8 1h0m19.8 1h0m19.8 1.1h0m19.8 1h0m-782.7 -23.6h0m19.7 1h0m19.8 1.1h0m19.8 1h0m19.8 1h0m19.8 1.1h0m19.8 1h0m19.8 1h0m19.8 1.1h0m19.8 1h0m19.8 1h0m19.8 1h0m19.8 1.1h0m19.8 1h0m19.8 1h0m19.8 1.1h0m19.7 1h0m19.8 1h0m19.8 1.1h0m19.8 1h0m19.8 1h0m19.8 1h0m19.8 1.1h0m19.8 1h0m19.8 1h0m19.8 1.1h0m19.8 1h0m19.8 1h0m19.8 1.1h0m19.8 1h0m19.8 1h0m19.7 1h0m19.8 1.1h0m19.8 1h0m19.8 1h0m19.8 1.1h0m19.8 1h0m19.8 1h0m19.8 1.1h0m19.8 1h0m-762.9 -22.6h0m19.8 1.1h0m19.7 1h0m19.8 1h0m19.8 1.1h0m19.8 1h0m19.8 1h0m19.8 1h0m19.8 1.1h0m19.8 1h0m19.8 1h0m19.8 1.1h0m19.8 1h0m19.8 1h0m19.8 1.1h0m19.8 1h0m19.8 1h0m19.7 1h0m19.8 1.1h0m19.8 1h0m19.8 1h0m19.8 1.1h0m19.8 1h0m19.8 1h0m19.8 1.1h0m19.8 1h0m19.8 1h0m19.8 1.1h0m19.8 1h0m19.8 1h0m19.8 1h0m19.8 1.1h0m19.7 1h0m19.8 1h0m19.8 1.1h0m19.8 1h0m19.8 1h0m19.8 1.1h0m19.8 1h0m19.8 1h0m-782.7 -23.6h0m19.8 1.1h0m19.8 1h0m19.8 1h0m19.7 1h0m19.8 1.1h0m19.8 1h0m19.8 1h0m19.8 1.1h0m19.8 1h0m19.8 1h0m19.8 1.1h0m19.8 1h0m19.8 1h0m19.8 1h0m19.8 1.1h0m19.8 1h0m19.8 1h0m19.8 1.1h0m19.7 1h0m19.8 1h0m19.8 1.1h0m19.8 1h0m19.8 1h0m19.8 1.1h0m19.8 1h0m19.8 1h0m19.8 1h0m19.8 1.1h0m19.8 1h0m19.8 1h0m19.8 1.1h0m19.8 1h0m19.8 1h0m19.7 1.1h0m19.8 1h0m19.8 1h0m19.8 1h0m19.8 1.1h0m19.8 1h0m-762.9 -22.6h0m19.8 1.1h0m19.8 1h0m19.8 1h0m19.8 1.1h0m19.7 1h0m19.8 1h0m19.8 1.1h0m19.8 1h0m19.8 1h0m19.8 1h0m19.8 1.1h0m19.8 1h0m19.8 1h0m19.8 1.1h0m19.8 1h0m19.8 1h0m19.8 1.1h0m19.8 1h0m19.8 1h0m19.7 1.1h0m19.8 1h0m19.8 1h0m19.8 1h0m19.8 1.1h0m19.8 1h0m19.8 1h0m19.8 1.1h0m19.8 1h0m19.8 1h0m19.8 1.1h0m19.8 1h0m19.8 1h0m19.8 1h0m19.8 1.1h0m19.7 1h0m19.8 1h0m19.8 1.1h0m19.8 1h0m19.8 1h0m-782.7 -23.6h0m19.8 1.1h0m19.8 1h0m19.8 1h0m19.8 1.1h0m19.8 1h0m19.8 1h0m19.7 1h0m19.8 1.1h0m19.8 1h0m19.8 1h0m19.8 1.1h0m19.8 1h0m19.8 1h0m19.8 1.1h0m19.8 1h0m19.8 1h0m19.8 1.1h0m19.8 1h0m19.8 1h0m19.8 1h0m19.8 1.1h0m19.7 1h0m19.8 1h0m19.8 1.1h0m19.8 1h0m19.8 1h0m19.8 1.1h0m19.8 1h0m19.8 1h0m19.8 1h0m19.8 1.1h0m19.8 1h0m19.8 1h0m19.8 1.1h0m19.8 1h0m19.7 1h0m19.8 1.1h0m19.8 1h0m19.8 1h0m-762.9 -22.5h0m19.8 1h0m19.8 1h0m19.8 1h0m19.8 1.1h0m19.8 1h0m19.8 1h0m19.8 1.1h0m19.7 1h0m19.8 1h0m19.8 1.1h0m19.8 1h0m19.8 1h0m19.8 1.1h0m19.8 1h0m19.8 1h0m19.8 1h0m19.8 1.1h0m19.8 1h0m19.8 1h0m19.8 1.1h0m19.8 1h0m19.8 1h0m19.7 1.1h0m19.8 1h0m19.8 1h0m19.8 1h0m19.8 1.1h0m19.8 1h0m19.8 1h0m19.8 1.1h0m19.8 1h0m19.8 1h0m19.8 1.1h0m19.8 1h0m19.8 1h0m19.8 1.1h0m19.7 1h0m19.8 1h0m19.8 1h0m-782.7 -23.6h0m19.8 1.1h0m19.8 1h0m19.8 1h0m19.8 1.1h0m19.8 1h0m19.8 1h0m19.8 1.1h0m19.8 1h0m19.8 1h0m19.7 1.1h0m19.8 1h0m19.8 1h0m19.8 1h0m19.8 1.1h0m19.8 1h0m19.8 1h0m19.8 1.1h0m19.8 1h0m19.8 1h0m19.8 1.1h0m19.8 1h0m19.8 1h0m19.8 1h0m19.7 1.1h0m19.8 1h0m19.8 1h0m19.8 1.1h0m19.8 1h0m19.8 1h0m19.8 1.1h0m19.8 1h0m19.8 1h0m19.8 1.1h0m19.8 1h0m19.8 1h0m19.8 1h0m19.8 1.1h0m19.8 1h0m19.7 1h0m-762.9 -22.5h0m19.8 1h0m19.8 1h0m19.8 1.1h0m19.8 1h0m19.8 1h0m19.8 1.1h0m19.8 1h0m19.8 1h0m19.8 1h0m19.8 1.1h0m19.7 1h0m19.8 1h0m19.8 1.1h0m19.8 1h0m19.8 1h0m19.8 1.1h0m19.8 1h0m19.8 1h0m19.8 1h0m19.8 1.1h0m19.8 1h0m19.8 1h0m19.8 1.1h0m19.8 1h0m19.7 1h0m19.8 1.1h0m19.8 1h0m19.8 1h0m19.8 1.1h0m19.8 1h0m19.8 1h0m19.8 1h0m19.8 1.1h0m19.8 1h0m19.8 1h0m19.8 1.1h0m19.8 1h0m19.8 1h0m19.8 1.1h0"/>
<path fill="none" stroke="#efb07a" stroke-width="9.0" stroke-linecap="round" d="M186.1 26.3h0m19.8 1.1h0m19.8 1h0m19.8 1h0m19.8 1.1h0m19.8 1h0m19.8 1h0m19.8 1h0m19.7 1.1h0m19.8 1h0m19.8 1h0m19.8 1.1h0m19.8 1h0m19.8 1h0m19.8 1.1h0m19.8 1h0m19.8 1h0m19.8 1.1h0m19.8 1h0m19.8 1h0m19.8 1h0m19.8 1.1h0m19.8 1h0m19.7 1h0m19.8 1.1h0m19.8 1h0m19.8 1h0m19.8 1.1h0m19.8 1h0m19.8 1h0m19.8 1h0m19.8 1.1h0m19.8 1h0m19.8 1h0m19.8 1.1h0m19.8 1h0m19.8 1h0m19.8 1.1h0m19.7 1h0m19.8 1h0m-782.7 -23.6h0m19.8 1.1h0m19.8 1h0m19.8 1h0m19.8 1.1h0m19.8 1h0m19.8 1h0m19.8 1h0m19.8 1.1h0m19.8 1h0m19.7 1h0m19.8 1.1h0m19.8 1h0m19.8 1h0m19.8 1.1h0m19.8 1h0m19.8 1h0m19.8 1h0m19.8 1.1h0m19.8 1h0m19.8 1h0m19.8 1.1h0m19.8 1h0m19.8 1h0m19.8 1.1h0m19.7 1h0m19.8 1h0m19.8 1h0m19.8 1.1h0m19.8 1h0m19.8 1h0m19.8 1.1h0m19.8 1h0m19.8 1h0m19.8 1.1h0m19.8 1h0m19.8 1h0m19.8 1.1h0m19.8 1h0m19.8 1h0m-763 -22.5h0m19.8 1h0m19.8 1h0m19.8 1h0m19.8 1.1h0m19.8 1h0m19.8 1h0m19.8 1.1h0m19.8 1h0m19.8 1h0m19.8 1.1h0m19.7 1h0m19.8 1h0m19.8 1h0m19.8 1.1h0m19.8 1h0m19.8 1h0m19.8 1.1h0m19.8 1h0m19.8 1h0m19.8 1.1h0m19.8 1h0m19.8 1h0m19.8 1h0m19.8 1.1h0m19.8 1h0m19.7 1h0m19.8 1.1h0m19.8 1h0m19.8 1h0m19.8 1.1h0m19.8 1h0m19.8 1h0m19.8 1.1h0m19.8 1h0m19.8 1h0m19.8 1h0m19.8 1.1h0m19.8 1h0m19.8 1h0m-782.8 -23.6h0m19.8 1.1h0m19.8 1h0m19.8 1h0m19.8 1.1h0m19.8 1h0m19.8 1h0m19.8 1.1h0m19.8 1h0m19.8 1h0m19.8 1h0m19.8 1.1h0m19.8 1h0m19.7 1h0m19.8 1.1h0m19.8 1h0m19.8 1h0m19.8 1.1h0m19.8 1h0m19.8 1h0m19.8 1.1h0m19.8 1h0m19.8 1h0m19.8 1h0m19.8 1.1h0m19.8 1h0m19.8 1h0m19.8 1.1h0m19.7 1h0m19.8 1h0m19.8 1.1h0m19.8 1h0m19.8 1h0m19.8 1h0m19.8 1.1h0m19.8 1h0m19.8 1h0m19.8 1.1h0m19.8 1h0m19.8 1h0m-763 -22.5h0m19.8 1h0m19.8 1h0m19.8 1.1h0m19.8 1h0m19.8 1h0m19.8 1h0m19.8 1.1h0m19.8 1h0m19.8 1h0m19.8 1.1h0m19.8 1h0m19.8 1h0m19.8 1.1h0m19.7 1h0m19.8 1h0m19.8 1.1h0m19.8 1h0m19.8 1h0m19.8 1h0m19.8 1.1h0m19.8 1h0m19.8 1h0m19.8 1.1h0m19.8 1h0m19.8 1h0m19.8 1.1h0m19.8 1h0m19.8 1h0m19.7 1h0m19.8 1.1h0m19.8 1h0m19.8 1h0m19.8 1.1h0m19.8 1h0m19.8 1h0m19.8 1.1h0m19.8 1h0m19.8 1h0m19.8 1h0m-782.7 -23.5h0m19.7 1h0m19.8 1h0m19.8 1h0m19.8 1.1h0m19.8 1h0m19.8 1h0m19.8 1.1h0m19.8 1h0m19.8 1h0m19.8 1.1h0m19.8 1h0m19.8 1h0m19.8 1.1h0m19.8 1h0m19.8 1h0m19.7 1h0m19.8 1.1h0m19.8 1h0m19.8 1h0m19.8 1.1h0m19.8 1h0m19.8 1h0m19.8 1.1h0m19.8 1h0m19.8 1h0m19.8 1h0m19.8 1.1h0m19.8 1h0m19.8 1h0m19.8 1.1h0m19.7 1h0m19.8 1h0m19.8 1.1h0m19.8 1h0m19.8 1h0m19.8 1.1h0m19.8 1h0m19.8 1h0m19.8 1h0m-762.9 -22.5h0m19.8 1h0m19.7 1h0m19.8 1.1h0m19.8 1h0m19.8 1h0m19.8 1.1h0m19.8 1h0m19.8 1h0m19.8 1.1h0m19.8 1h0m19.8 1h0m19.8 1h0m19.8 1.1h0m19.8 1h0m19.8 1h0m19.8 1.1h0m19.7 1h0m19.8 1h0m19.8 1.1h0m19.8 1h0m19.8 1h0m19.8 1h0m19.8 1.1h0m19.8 1h0m19.8 1h0m19.8 1.1h0m19.8 1h0m19.8 1h0m19.8 1.1h0m19.8 1h0m19.7 1h0m19.8 1.1h0m19.8 1h0m19.8 1h0m19.8 1h0m19.8 1.1h0m19.8 1h0m19.8 1h0m19.8 1.1h0m-782.7 -23.6h0m19.8 1h0m19.8 1h0m19.8 1.1h0m19.7 1h0m19.8 1h0m19.8 1.1h0m19.8 1h0m19.8 1h0m19.8 1h0m19.8 1.1h0m19.8 1h0m19.8 1h0m19.8 1.1h0m19.8 1h0m19.8 1h0m19.8 1.1h0m19.8 1h0m19.8 1h0m19.7 1h0m19.8 1.1h0m19.8 1h0m19.8 1h0m19.8 1.1h0m19.8 1h0m19.8 1h0m19.8 1.1h0m19.8 1h0m19.8 1h0m19.8 1.1h0m19.8 1h0m19.8 1h0m19.8 1h0m19.7 1.1h0m19.8 1h0m19.8 1h0m19.8 1.1h0m19.8 1h0m19.8 1h0m19.8 1.1h0m-762.9 -22.6h0m19.8 1h0m19.8 1.1h0m19.8 1h0m19.8 1h0m19.7 1h0m19.8 1.1h0m19.8 1h0m19.8 1h0m19.8 1.1h0m19.8 1h0m19.8 1h0m19.8 1.1h0m19.8 1h0m19.8 1h0m19.8 1h0m19.8 1.1h0m19.8 1h0m19.8 1h0m19.7 1.1h0m19.8 1h0m19.8 1h0m19.8 1.1h0m19.8 1h0m19.8 1h0m19.8 1.1h0m19.8 1h0m19.8 1h0m19.8 1h0m19.8 1.1h0m19.8 1h0m19.8 1h0m19.8 1.1h0m19.8 1h0m19.7 1h0m19.8 1.1h0m19.8 1h0m19.8 1h0m19.8 1h0m19.8 1.1h0m-782.7 -23.6h0m19.8 1h0m19.8 1h0m19.8 1.1h0m19.8 1h0m19.8 1h0m19.8 1.1h0m19.7 1h0m19.8 1h0m19.8 1.1h0m19.8 1h0m19.8 1h0m19.8 1h0m19.8 1.1h0m19.8 1h0m19.8 1h0m19.8 1.1h0m19.8 1h0m19.8 1h0m19.8 1.1h0m19.8 1h0m19.7 1h0m19.8 1.1h0m19.8 1h0m19.8 1h0m19.8 1h0m19.8 1.1h0m19.8 1h0m19.8 1h0m19.8 1.1h0m19.8 1h0m19.8 1h0m19.8 1.1h0m19.8 1h0m19.8 1h0m19.8 1h0m19.7 1.1h0m19.8 1h0m19.8 1h0m19.8 1.1h0m-762.9 -22.6h0m19.8 1h0m19.8 1.1h0m19.8 1h0m19.8 1h0m19.8 1.1h0m19.8 1h0m19.8 1h0m19.7 1h0m19.8 1.1h0m19.8 1h0m19.8 1h0m19.8 1.1h0m19.8 1h0m19.8 1h0m19.8 1.1h0m19.8 1h0m19.8 1h0m19.8 1.1h0m19.8 1h0m19.8 1h0m19.8 1h0m19.7 1.1h0m19.8 1h0m19.8 1h0m19.8 1.1h0m19.8 1h0m19.8 1h0m19.8 1.1h0m19.8 1h0m19.8 1h0m19.8 1h0m19.8 1.1h0m19.8 1h0m19.8 1h0m19.8 1.1h0m19.8 1h0m19.7 1h0m19.8 1.1h0m19.8 1h0m-782.7 -23.6h0m19.8 1h0m19.8 1.1h0m19.8 1h0m19.8 1h0m19.8 1h0m19.8 1.1h0m19.8 1h0m19.8 1h0m19.7 1.1h0m19.8 1h0m19.8 1h0m19.8 1.1h0m19.8 1h0m19.8 1h0m19.8 1.1h0m19.8 1h0m19.8 1h0m19.8 1h0m19.8 1.1h0m19.8 1h0m19.8 1h0m19.8 1.1h0m19.8 1h0m19.7 1h0m19.8 1.1h0m19.8 1h0m19.8 1h0m19.8 1h0m19.8 1.1h0m19.8 1h0m19.8 1h0m19.8 1.1h0m19.8 1h0m19.8 1h0m19.8 1.1h0m19.8 1h0m19.8 1h0m19.8 1.1h0m19.7 1h0m-762.9 -22.6h0m19.8 1h0m19.8 1.1h0m19.8 1h0m19.8 1h0m19.8 1.1h0m19.8 1h0m19.8 1h0m19.8 1.1h0m19.8 1h0m19.7 1h0m19.8 1.1h0m19.8 1h0m19.8 1h0m19.8 1h0m19.8 1.1h0m19.8 1h0m19.8 1h0m19.8 1.1h0m19.8 1h0m19.8 1h0m19.8 1.1h0m19.8 1h0m19.8 1h0m19.8 1h0m19.7 1.1h0m19.8 1h0m19.8 1h0m19.8 1.1h0m19.8 1h0m19.8 1h0m19.8 1.1h0m19.8 1h0m19.8 1h0m19.8 1.1h0m19.8 1h0m19.8 1h0m19.8 1h0m19.8 1.1h0m19.8 1h0m-782.8 -23.6h0m19.8 1h0m19.8 1.1h0m19.8 1h0m19.8 1h0m19.8 1.1h0m19.8 1h0m19.8 1h0m19.8 1.1h0m19.8 1h0m19.8 1h0m19.8 1h0m19.7 1.1h0m19.8 1h0m19.8 1h0m19.8 1.1h0m19.8 1h0m19.8 1h0m19.8 1.1h0m19.8 1h0m19.8 1h0m19.8 1h0m19.8 1.1h0m19.8 1h0m19.8 1h0m19.8 1.1h0m19.8 1h0m19.7 1h0m19.8 1.1h0m19.8 1h0m19.8 1h0m19.8 1.1h0m19.8 1h0m19.8 1h0m19.8 1h0m19.8 1.1h0m19.8 1h0m19.8 1h0m19.8 1.1h0m19.8 1h0m-763 -22.6h0m19.8 1.1h0m19.8 1h0m19.8 1h0m19.8 1.1h0m19.8 1h0m19.8 1h0m19.8 1h0m19.8 1.1h0m19.8 1h0m19.8 1h0m19.8 1.1h0m19.8 1h0m19.7 1h0m19.8 1.1h0m19.8 1h0m19.8 1h0m19.8 1h0m19.8 1.1h0m19.8 1h0m19.8 1h0m19.8 1.1h0m19.8 1h0m19.8 1h0m19.8 1.1h0m19.8 1h0m19.8 1h0m19.8 1.1h0m19.7 1h0m19.8 1h0m19.8 1h0m19.8 1.1h0m19.8 1h0m19.8 1h0m19.8 1.1h0m19.8 1h0m19.8 1h0m19.8 1.1h0m19.8 1h0m19.8 1h0m-782.8 -23.6h0m19.8 1.1h0m19.8 1h0m19.8 1h0m19.8 1h0m19.8 1.1h0m19.8 1h0m19.8 1h0m19.8 1.1h0m19.8 1h0m19.8 1h0m19.8 1.1h0m19.8 1h0m19.8 1h0m19.8 1h0m19.7 1.1h0m19.8 1h0m19.8 1h0m19.8 1.1h0m19.8 1h0m19.8 1h0m19.8 1.1h0m19.8 1h0m19.8 1h0m19.8 1.1h0m19.8 1h0m19.8 1h0m19.8 1h0m19.8 1.1h0m19.8 1h0m19.7 1h0m19.8 1.1h0m19.8 1h0m19.8 1h0m19.8 1.1h0m19.8 1h0m19.8 1h0m19.8 1h0m19.8 1.1h0m19.8 1h0m-762.9 -22.6h0m19.7 1.1h0m19.8 1h0m19.8 1h0m19.8 1.1h0m19.8 1h0m19.8 1h0m19.8 1.1h0m19.8 1h0m19.8 1h0m19.8 1.1h0m19.8 1h0m19.8 1h0m19.8 1h0m19.8 1.1h0m19.8 1h0m19.7 1h0m19.8 1.1h0m19.8 1h0m19.8 1h0m19.8 1.1h0m19.8 1h0m19.8 1h0m19.8 1h0m19.8 1.1h0m19.8 1h0m19.8 1h0m19.8 1.1h0m19.8 1h0m19.8 1h0m19.8 1.1h0m19.7 1h0m19.8 1h0m19.8 1h0m19.8 1.1h0m19.8 1h0m19.8 1h0m19.8 1.1h0m19.8 1h0m19.8 1h0m-782.7 -23.6h0m19.8 1.1h0m19.8 1h0m19.7 1h0m19.8 1.1h0m19.8 1h0m19.8 1h0m19.8 1.1h0m19.8 1h0m19.8 1h0m19.8 1h0m19.8 1.1h0m19.8 1h0m19.8 1h0m19.8 1.1h0m19.8 1h0m19.8 1h0m19.8 1.1h0m19.7 1h0m19.8 1h0m19.8 1h0m19.8 1.1h0m19.8 1h0m19.8 1h0m19.8 1.1h0m19.8 1h0m19.8 1h0m19.8 1.1h0m19.8 1h0m19.8 1h0m19.8 1h0m19.8 1.1h0m19.8 1h0m19.7 1h0m19.8 1.1h0m19.8 1h0m19.8 1h0m19.8 1.1h0m19.8 1h0m19.8 1h0m-762.9 -22.5h0m19.8 1h0m19.8 1h0m19.8 1.1h0m19.7 1h0m19.8 1h0m19.8 1h0m19.8 1.1h0m19.8 1h0m19.8 1h0m19.8 1.1h0m19.8 1h0m19.8 1h0m19.8 1.1h0m19.8 1h0m19.8 1h0m19.8 1h0m19.8 1.1h0m19.8 1h0m19.7 1h0m19.8 1.1h0m19.8 1h0m19.8 1h0m19.8 1.1h0m19.8 1h0m19.8 1h0m19.8 1.1h0m19.8 1h0m19.8 1h0m19.8 1h0m19.8 1.1h0m19.8 1h0m19.8 1h0m19.7 1.1h0m19.8 1h0m19.8 1h0m19.8 1.1h0m19.8 1h0m19.8 1h0m19.8 1h0m-782.7 -23.5h0m19.8 1h0m19.8 1h0m19.8 1h0m19.8 1.1h0m19.8 1h0m19.7 1h0m19.8 1.1h0m19.8 1h0m19.8 1h0m19.8 1.1h0m19.8 1h0m19.8 1h0m19.8 1h0m19.8 1.1h0m19.8 1h0m19.8 1h0m19.8 1.1h0m19.8 1h0m19.8 1h0m19.8 1.1h0m19.7 1h0m19.8 1h0m19.8 1.1h0m19.8 1h0m19.8 1h0m19.8 1h0m19.8 1.1h0m19.8 1h0m19.8 1h0m19.8 1.1h0m19.8 1h0m19.8 1h0m19.8 1.1h0m19.8 1h0m19.7 1h0m19.8 1h0m19.8 1.1h0m19.8 1h0m19.8 1h0m-762.9 -22.5h0m19.8 1h0m19.8 1h0m19.8 1.1h0m19.8 1h0m19.8 1h0m19.8 1.1h0m19.7 1h0m19.8 1h0m19.8 1h0m19.8 1.1h0m19.8 1h0m19.8 1h0m19.8 1.1h0m19.8 1h0m19.8 1h0m19.8 1.1h0m19.8 1h0m19.8 1h0m19.8 1.1h0m19.8 1h0m19.7 1h0m19.8 1h0m19.8 1.1h0m19.8 1h0m19.8 1h0m19.8 1.1h0m19.8 1h0m19.8 1h0m19.8 1.1h0m19.8 1h0m19.8 1h0m19.8 1h0m19.8 1.1h0m19.8 1h0m19.8 1h0m19.7 1.1h0m19.8 1h0m19.8 1h0m19.8 1.1h0m-782.7 -23.6h0m19.8 1h0m19.8 1h0m19.8 1.1h0m19.8 1h0m19.8 1h0m19.8 1h0m19.8 1.1h0m19.8 1h0m19.7 1h0m19.8 1.1h0m19.8 1h0m19.8 1h0m19.8 1.1h0m19.8 1h0m19.8 1h0m19.8 1.1h0m19.8 1h0m19.8 1h0m19.8 1h0m19.8 1.1h0m19.8 1h0m19.8 1h0m19.7 1.1h0m19.8 1h0m19.8 1h0m19.8 1.1h0m19.8 1h0m19.8 1h0m19.8 1h0m19.8 1.1h0m19.8 1h0m19.8 1h0m19.8 1.1h0m19.8 1h0m19.8 1h0m19.8 1.1h0m19.8 1h0m19.7 1h0m19.8 1.1h0m-762.9 -22.6h0m19.8 1h0m19.8 1h0m19.8 1.1h0m19.8 1h0m19.8 1h0m19.8 1.1h0m19.8 1h0m19.8 1h0m19.8 1.1h0m19.7 1h0m19.8 1h0m19.8 1.1h0m19.8 1h0m19.8 1h0m19.8 1h0m19.8 1.1h0m19.8 1h0m19.8 1h0m19.8 1.1h0m19.8 1h0m19.8 1h0m19.8 1.1h0m19.8 1h0m19.7 1h0m19.8 1h0m19.8 1.1h0m19.8 1h0m19.8 1h0m19.8 1.1h0m19.8 1h0m19.8 1h0m19.8 1.1h0m19.8 1h0m19.8 1h0m19.8 1.1h0m19.8 1h0m19.8 1h0m19.8 1h0m19.7 1.1h0m-782.7 -23.6h0m19.8 1h0m19.8 1h0m19.8 1.1h0m19.8 1h0m19.8 1h0m19.8 1.1h0m19.8 1h0m19.8 1h0m19.8 1.1h0m19.8 1h0m19.7 1h0m19.8 1h0m19.8 1.1h0m19.8 1h0m19.8 1h0m19.8 1.1h0m19.8 1h0m19.8 1h0m19.8 1.1h0m19.8 1h0m19.8 1h0m19.8 1h0m19.8 1.1h0m19.8 1h0m19.8 1h0m19.7 1.1h0m19.8 1h0m19.8 1h0m19.8 1.1h0m19.8 1h0m19.8 1h0m19.8 1.1h0m19.8 1h0m19.8 1h0m19.8 1h0m19.8 1.1h0m19.8 1h0m19.8 1h0m19.8 1.1h0m-763 -22.6h0m19.8 1h0m19.8 1.1h0m19.8 1h0m19.8 1h0m19.8 1.1h0m19.8 1h0m19.8 1h0m19.8 1h0m19.8 1.1h0m19.8 1h0m19.8 1h0m19.7 1.1h0m19.8 1h0m19.8 1h0m19.8 1.1h0m19.8 1h0m19.8 1h0m19.8 1h0m19.8 1.1h0m19.8 1h0m19.8 1h0m19.8 1.1h0m19.8 1h0m19.8 1h0m19.8 1.1h0m19.8 1h0m19.7 1h0m19.8 1.1h0m19.8 1h0m19.8 1h0m19.8 1h0m19.8 1.1h0m19.8 1h0m19.8 1h0m19.8 1.1h0m19.8 1h0m19.8 1h0m19.8 1.1h0m19.8 1h0m-782.8 -23.6h0m19.8 1h0m19.8 1.1h0m19.8 1h0m19.8 1h0m19.8 1h0m19.8 1.1h0m19.8 1h0m19.8 1h0m19.8 1.1h0m19.8 1h0m19.8 1h0m19.8 1.1h0m19.8 1h0m19.7 1h0m19.8 1h0m19.8 1.1h0m19.8 1h0m19.8 1h0m19.8 1.1h0m19.8 1h0m19.8 1h0m19.8 1.1h0m19.8 1h0m19.8 1h0m19.8 1.1h0m19.8 1h0m19.8 1h0m19.8 1h0m19.7 1.1h0m19.8 1h0m19.8 1h0m19.8 1.1h0m19.8 1h0m19.8 1h0m19.8 1.1h0m19.8 1h0m19.8 1h0m19.8 1h0m19.8 1.1h0m-763 -22.6h0m19.8 1h0m19.8 1.1h0m19.8 1h0m19.8 1h0m19.8 1.1h0m19.8 1h0m19.8 1h0m19.8 1.1h0m19.8 1h0m19.8 1h0m19.8 1h0m19.8 1.1h0m19.8 1h0m19.8 1h0m19.7 1.1h0m19.8 1h0m19.8 1h0m19.8 1.1h0m19.8 1h0m19.8 1h0m19.8 1.1h0m19.8 1h0m19.8 1h0m19.8 1h0m19.8 1.1h0m19.8 1h0m19.8 1h0m19.8 1.1h0m19.8 1h0m19.7 1h0m19.8 1.1h0m19.8 1h0m19.8 1h0m19.8 1h0m19.8 1.1h0m19.8 1h0m19.8 1h0m19.8 1.1h0m19.8 1h0m-782.7 -23.6h0m19.8 1h0m19.7 1.1h0m19.8 1h0m19.8 1h0m19.8 1.1h0m19.8 1h0m19.8 1h0m19.8 1h0m19.8 1.1h0m19.8 1h0m19.8 1h0m19.8 1.1h0m19.8 1h0m19.8 1h0m19.8 1.1h0m19.8 1h0m19.7 1h0m19.8 1.1h0m19.8 1h0m19.8 1h0m19.8 1h0m19.8 1.1h0m19.8 1h0m19.8 1h0m19.8 1.1h0m19.8 1h0m19.8 1h0m19.8 1.1h0m19.8 1h0m19.8 1h0m19.8 1h0m19.7 1.1h0m19.8 1h0m19.8 1h0m19.8 1.1h0m19.8 1h0m19.8 1h0m19.8 1.1h0m19.8 1h0m-762.9 -22.6h0m19.8 1.1h0m19.8 1h0m19.7 1h0m19.8 1.1h0m19.8 1h0m19.8 1h0m19.8 1h0m19.8 1.1h0m19.8 1h0m19.8 1h0m19.8 1.1h0m19.8 1h0m19.8 1h0m19.8 1.1h0m19.8 1h0m19.8 1h0m19.8 1h0m19.7 1.1h0m19.8 1h0m19.8 1h0m19.8 1.1h0m19.8 1h0m19.8 1h0m19.8 1.1h0m19.8 1h0m19.8 1h0m19.8 1h0m19.8 1.1h0m19.8 1h0m19.8 1h0m19.8 1.1h0m19.8 1h0m19.7 1h0m19.8 1.1h0m19.8 1h0m19.8 1h0m19.8 1.1h0m19.8 1h0m19.8 1h0m-782.7 -23.6h0m19.8 1.1h0m19.8 1h0m19.8 1h0m19.8 1h0m19.7 1.1h0m19.8 1h0m19.8 1h0m19.8 1.1h0m19.8 1h0m19.8 1h0m19.8 1.1h0m19.8 1h0m19.8 1h0m19.8 1h0m19.8 1.1h0m19.8 1h0m19.8 1h0m19.8 1.1h0m19.8 1h0m19.7 1h0m19.8 1.1h0m19.8 1h0m19.8 1h0m19.8 1h0m19.8 1.1h0m19.8 1h0m19.8 1h0m19.8 1.1h0m19.8 1h0m19.8 1h0m19.8 1.1h0m19.8 1h0m19.8 1h0m19.7 1.1h0m19.8 1h0m19.8 1h0m19.8 1h0m19.8 1.1h0m19.8 1h0m-762.9 -22.6h0m19.8 1.1h0m19.8 1h0m19.8 1h0m19.8 1.1h0m19.8 1h0m19.7 1h0m19.8 1.1h0m19.8 1h0m19.8 1h0m19.8 1h0m19.8 1.1h0m19.8 1h0m19.8 1h0m19.8 1.1h0m19.8 1h0m19.8 1h0m19.8 1.1h0m19.8 1h0m19.8 1h0m19.8 1.1h0m19.7 1h0m19.8 1h0m19.8 1h0m19.8 1.1h0m19.8 1h0m19.8 1h0m19.8 1.1h0m19.8 1h0m19.8 1h0m19.8 1.1h0m19.8 1h0m19.8 1h0m19.8 1h0m19.8 1.1h0m19.7 1h0m19.8 1h0m19.8 1.1h0m19.8 1h0m19.8 1h0m-782.7 -23.6h0m19.8 1.1h0m19.8 1h0m19.8 1h0m19.8 1.1h0m19.8 1h0m19.8 1h0m19.8 1h0m19.7 1.1h0m19.8 1h0m19.8 1h0m19.8 1.1h0m19.8 1h0m19.8 1h0m19.8 1.1h0m19.8 1h0m19.8 1h0m19.8 1.1h0m19.8 1h0m19.8 1h0m19.8 1h0m19.8 1.1h0m19.8 1h0m19.7 1h0m19.8 1.1h0m19.8 1h0m19.8 1h0m19.8 1.1h0m19.8 1h0m19.8 1h0m19.8 1h0m19.8 1.1h0m19.8 1h0m19.8 1h0m19.8 1.1h0m19.8 1h0m19.8 1h0m19.7 1.1h0m19.8 1h0m19.8 1h0m-762.9 -22.5h0m19.8 1h0m19.8 1h0m19.8 1h0m19.8 1.1h0m19.8 1h0m19.8 1h0m19.8 1.1h0m19.8 1h0m19.7 1h0m19.8 1.1h0m19.8 1h0m19.8 1h0m19.8 1.1h0m19.8 1h0m19.8 1h0m19.8 1h0m19.8 1.1h0m19.8 1h0m19.8 1h0m19.8 1.1h0m19.8 1h0m19.8 1h0m19.7 1.1h0m19.8 1h0m19.8 1h0m19.8 1h0m19.8 1.1h0m19.8 1h0m19.8 1h0m19.8 1.1h0m19.8 1h0m19.8 1h0m19.8 1.1h0m19.8 1h0m19.8 1h0m19.8 1h0m19.8 1.1h0m19.7 1h0m19.8 1h0m-782.7 -23.6h0m19.8 1.1h0m19.8 1h0m19.8 1h0m19.8 1.1h0m19.8 1h0m19.8 1h0m19.8 1.1h0m19.8 1h0m19.8 1h0m19.8 1.1h0m19.7 1h0m19.8 1h0m19.8 1h0m19.8 1.1h0m19.8 1h0m19.8 1h0m19.8 1.1h0m19.8 1h0m19.8 1h0m19.8 1.1h0m19.8 1h0m19.8 1h0m19.8 1h0m19.8 1.1h0m19.7 1h0m19.8 1h0m19.8 1.1h0m19.8 1h0m19.8 1h0m19.8 1.1h0m19.8 1h0m19.8 1h0m19.8 1.1h0m19.8 1h0m19.8 1h0m19.8 1h0m19.8 1.1h0m19.8 1h0m19.8 1h0m-763 -22.5h0m19.8 1h0m19.8 1h0m19.8 1.1h0m19.8 1h0m19.8 1h0m19.8 1.1h0m19.8 1h0m19.8 1h0m19.8 1h0m19.8 1.1h0m19.8 1h0m19.7 1h0m19.8 1.1h0m19.8 1h0m19.8 1h0m19.8 1.1h0m19.8 1h0m19.8 1h0m19.8 1h0m19.8 1.1h0m19.8 1h0m19.8 1h0m19.8 1.1h0m19.8 1h0m19.8 1h0m19.7 1.1h0m19.8 1h0m19.8 1h0m19.8 1.1h0m19.8 1h0m19.8 1h0m19.8 1h0m19.8 1.1h0m19.8 1h0m19.8 1h0m19.8 1.1h0m19.8 1h0m19.8 1h0m19.8 1.1h0"/>
<path fill="none" stroke="#fad7b4" stroke-width="4.0" stroke-linecap="round" d="M185.2 25.4h0m19.8 1.1h0m19.8 1h0m19.8 1h0m19.8 1.1h0m19.8 1h0m19.8 1h0m19.8 1h0m19.7 1.1h0m19.8 1h0m19.8 1h0m19.8 1.1h0m19.8 1h0m19.8 1h0m19.8 1.1h0m19.8 1h0m19.8 1h0m19.8 1.1h0m19.8 1h0m19.8 1h0m19.8 1h0m19.8 1.1h0m19.8 1h0m19.7 1h0m19.8 1.1h0m19.8 1h0m19.8 1h0m19.8 1.1h0m19.8 1h0m19.8 1h0m19.8 1h0m19.8 1.1h0m19.8 1h0m19.8 1h0m19.8 1.1h0m19.8 1h0m19.8 1h0m19.8 1.1h0m19.7 1h0m19.8 1h0m-782.7 -23.6h0m19.8 1.1h0m19.8 1h0m19.8 1h0m19.8 1.1h0m19.8 1h0m19.8 1h0m19.8 1h0m19.8 1.1h0m19.8 1h0m19.7 1h0m19.8 1.1h0m19.8 1h0m19.8 1h0m19.8 1.1h0m19.8 1h0m19.8 1h0m19.8 1h0m19.8 1.1h0m19.8 1h0m19.8 1h0m19.8 1.1h0m19.8 1h0m19.8 1h0m19.8 1.1h0m19.7 1h0m19.8 1h0m19.8 1h0m19.8 1.1h0m19.8 1h0m19.8 1h0m19.8 1.1h0m19.8 1h0m19.8 1h0m19.8 1.1h0m19.8 1h0m19.8 1h0m19.8 1.1h0m19.8 1h0m19.8 1h0m-763 -22.5h0m19.8 1h0m19.8 1h0m19.8 1h0m19.8 1.1h0m19.8 1h0m19.8 1h0m19.8 1.1h0m19.8 1h0m19.8 1h0m19.8 1.1h0m19.7 1h0m19.8 1h0m19.8 1h0m19.8 1.1h0m19.8 1h0m19.8 1h0m19.8 1.1h0m19.8 1h0m19.8 1h0m19.8 1.1h0m19.8 1h0m19.8 1h0m19.8 1h0m19.8 1.1h0m19.8 1h0m19.7 1h0m19.8 1.1h0m19.8 1h0m19.8 1h0m19.8 1.1h0m19.8 1h0m19.8 1h0m19.8 1.1h0m19.8 1h0m19.8 1h0m19.8 1h0m19.8 1.1h0m19.8 1h0m19.8 1h0m-782.8 -23.6h0m19.8 1.1h0m19.8 1h0m19.8 1h0m19.8 1.1h0m19.8 1h0m19.8 1h0m19.8 1.1h0m19.8 1h0m19.8 1h0m19.8 1h0m19.8 1.1h0m19.8 1h0m19.7 1h0m19.8 1.1h0m19.8 1h0m19.8 1h0m19.8 1.1h0m19.8 1h0m19.8 1h0m19.8 1.1h0m19.8 1h0m19.8 1h0m19.8 1h0m19.8 1.1h0m19.8 1h0m19.8 1h0m19.8 1.1h0m19.7 1h0m19.8 1h0m19.8 1.1h0m19.8 1h0m19.8 1h0m19.8 1h0m19.8 1.1h0m19.8 1h0m19.8 1h0m19.8 1.1h0m19.8 1h0m19.8 1h0m-763 -22.5h0m19.8 1h0m19.8 1h0m19.8 1.1h0m19.8 1h0m19.8 1h0m19.8 1h0m19.8 1.1h0m19.8 1h0m19.8 1h0m19.8 1.1h0m19.8 1h0m19.8 1h0m19.8 1.1h0m19.7 1h0m19.8 1h0m19.8 1.1h0m19.8 1h0m19.8 1h0m19.8 1h0m19.8 1.1h0m19.8 1h0m19.8 1h0m19.8 1.1h0m19.8 1h0m19.8 1h0m19.8 1.1h0m19.8 1h0m19.8 1h0m19.7 1h0m19.8 1.1h0m19.8 1h0m19.8 1h0m19.8 1.1h0m19.8 1h0m19.8 1h0m19.8 1.1h0m19.8 1h0m19.8 1h0m19.8 1h0m-782.7 -23.5h0m19.7 1h0m19.8 1h0m19.8 1h0m19.8 1.1h0m19.8 1h0m19.8 1h0m19.8 1.1h0m19.8 1h0m19.8 1h0m19.8 1.1h0m19.8 1h0m19.8 1h0m19.8 1.1h0m19.8 1h0m19.8 1h0m19.7 1h0m19.8 1.1h0m19.8 1h0m19.8 1h0m19.8 1.1h0m19.8 1h0m19.8 1h0m19.8 1.1h0m19.8 1h0m19.8 1h0m19.8 1h0m19.8 1.1h0m19.8 1h0m19.8 1h0m19.8 1.1h0m19.7 1h0m19.8 1h0m19.8 1.1h0m19.8 1h0m19.8 1h0m19.8 1.1h0m19.8 1h0m19.8 1h0m19.8 1h0m-762.9 -22.5h0m19.8 1h0m19.7 1h0m19.8 1.1h0m19.8 1h0m19.8 1h0m19.8 1.1h0m19.8 1h0m19.8 1h0m19.8 1.1h0m19.8 1h0m19.8 1h0m19.8 1h0m19.8 1.1h0m19.8 1h0m19.8 1h0m19.8 1.1h0m19.7 1h0m19.8 1h0m19.8 1.1h0m19.8 1h0m19.8 1h0m19.8 1h0m19.8 1.1h0m19.8 1h0m19.8 1h0m19.8 1.1h0m19.8 1h0m19.8 1h0m19.8 1.1h0m19.8 1h0m19.7 1h0m19.8 1.1h0m19.8 1h0m19.8 1h0m19.8 1h0m19.8 1.1h0m19.8 1h0m19.8 1h0m19.8 1.1h0m-782.7 -23.6h0m19.8 1h0m19.8 1h0m19.8 1.1h0m19.7 1h0m19.8 1h0m19.8 1.1h0m19.8 1h0m19.8 1h0m19.8 1h0m19.8 1.1h0m19.8 1h0m19.8 1h0m19.8 1.1h0m19.8 1h0m19.8 1h0m19.8 1.1h0m19.8 1h0m19.8 1h0m19.7 1h0m19.8 1.1h0m19.8 1h0m19.8 1h0m19.8 1.1h0m19.8 1h0m19.8 1h0m19.8 1.1h0m19.8 1h0m19.8 1h0m19.8 1.1h0m19.8 1h0m19.8 1h0m19.8 1h0m19.7 1.1h0m19.8 1h0m19.8 1h0m19.8 1.1h0m19.8 1h0m19.8 1h0m19.8 1.1h0m-762.9 -22.6h0m19.8 1h0m19.8 1.1h0m19.8 1h0m19.8 1h0m19.7 1h0m19.8 1.1h0m19.8 1h0m19.8 1h0m19.8 1.1h0m19.8 1h0m19.8 1h0m19.8 1.1h0m19.8 1h0m19.8 1h0m19.8 1h0m19.8 1.1h0m19.8 1h0m19.8 1h0m19.7 1.1h0m19.8 1h0m19.8 1h0m19.8 1.1h0m19.8 1h0m19.8 1h0m19.8 1.1h0m19.8 1h0m19.8 1h0m19.8 1h0m19.8 1.1h0m19.8 1h0m19.8 1h0m19.8 1.1h0m19.8 1h0m19.7 1h0m19.8 1.1h0m19.8 1h0m19.8 1h0m19.8 1h0m19.8 1.1h0m-782.7 -23.6h0m19.8 1h0m19.8 1h0m19.8 1.1h0m19.8 1h0m19.8 1h0m19.8 1.1h0m19.7 1h0m19.8 1h0m19.8 1.1h0m19.8 1h0m19.8 1h0m19.8 1h0m19.8 1.1h0m19.8 1h0m19.8 1h0m19.8 1.1h0m19.8 1h0m19.8 1h0m19.8 1.1h0m19.8 1h0m19.7 1h0m19.8 1.1h0m19.8 1h0m19.8 1h0m19.8 1h0m19.8 1.1h0m19.8 1h0m19.8 1h0m19.8 1.1h0m19.8 1h0m19.8 1h0m19.8 1.1h0m19.8 1h0m19.8 1h0m19.8 1h0m19.7 1.1h0m19.8 1h0m19.8 1h0m19.8 1.1h0m-762.9 -22.6h0m19.8 1h0m19.8 1.1h0m19.8 1h0m19.8 1h0m19.8 1.1h0m19.8 1h0m19.8 1h0m19.7 1h0m19.8 1.1h0m19.8 1h0m19.8 1h0m19.8 1.1h0m19.8 1h0m19.8 1h0m19.8 1.1h0m19.8 1h0m19.8 1h0m19.8 1.1h0m19.8 1h0m19.8 1h0m19.8 1h0m19.7 1.1h0m19.8 1h0m19.8 1h0m19.8 1.1h0m19.8 1h0m19.8 1h0m19.8 1.1h0m19.8 1h0m19.8 1h0m19.8 1h0m19.8 1.1h0m19.8 1h0m19.8 1h0m19.8 1.1h0m19.8 1h0m19.7 1h0m19.8 1.1h0m19.8 1h0m-782.7 -23.6h0m19.8 1h0m19.8 1.1h0m19.8 1h0m19.8 1h0m19.8 1h0m19.8 1.1h0m19.8 1h0m19.8 1h0m19.7 1.1h0m19.8 1h0m19.8 1h0m19.8 1.1h0m19.8 1h0m19.8 1h0m19.8 1.1h0m19.8 1h0m19.8 1h0m19.8 1h0m19.8 1.1h0m19.8 1h0m19.8 1h0m19.8 1.1h0m19.8 1h0m19.7 1h0m19.8 1.1h0m19.8 1h0m19.8 1h0m19.8 1h0m19.8 1.1h0m19.8 1h0m19.8 1h0m19.8 1.1h0m19.8 1h0m19.8 1h0m19.8 1.1h0m19.8 1h0m19.8 1h0m19.8 1.1h0m19.7 1h0m-762.9 -22.6h0m19.8 1h0m19.8 1.1h0m19.8 1h0m19.8 1h0m19.8 1.1h0m19.8 1h0m19.8 1h0m19.8 1.1h0m19.8 1h0m19.7 1h0m19.8 1.1h0m19.8 1h0m19.8 1h0m19.8 1h0m19.8 1.1h0m19.8 1h0m19.8 1h0m19.8 1.1h0m19.8 1h0m19.8 1h0m19.8 1.1h0m19.8 1h0m19.8 1h0m19.8 1h0m19.7 1.1h0m19.8 1h0m19.8 1h0m19.8 1.1h0m19.8 1h0m19.8 1h0m19.8 1.1h0m19.8 1h0m19.8 1h0m19.8 1.1h0m19.8 1h0m19.8 1h0m19.8 1h0m19.8 1.1h0m19.8 1h0m-782.8 -23.6h0m19.8 1h0m19.8 1.1h0m19.8 1h0m19.8 1h0m19.8 1.1h0m19.8 1h0m19.8 1h0m19.8 1.1h0m19.8 1h0m19.8 1h0m19.8 1h0m19.7 1.1h0m19.8 1h0m19.8 1h0m19.8 1.1h0m19.8 1h0m19.8 1h0m19.8 1.1h0m19.8 1h0m19.8 1h0m19.8 1h0m19.8 1.1h0m19.8 1h0m19.8 1h0m19.8 1.1h0m19.8 1h0m19.7 1h0m19.8 1.1h0m19.8 1h0m19.8 1h0m19.8 1.1h0m19.8 1h0m19.8 1h0m19.8 1h0m19.8 1.1h0m19.8 1h0m19.8 1h0m19.8 1.1h0m19.8 1h0m-763 -22.6h0m19.8 1.1h0m19.8 1h0m19.8 1h0m19.8 1.1h0m19.8 1h0m19.8 1h0m19.8 1h0m19.8 1.1h0m19.8 1h0m19.8 1h0m19.8 1.1h0m19.8 1h0m19.7 1h0m19.8 1.1h0m19.8 1h0m19.8 1h0m19.8 1h0m19.8 1.1h0m19.8 1h0m19.8 1h0m19.8 1.1h0m19.8 1h0m19.8 1h0m19.8 1.1h0m19.8 1h0m19.8 1h0m19.8 1.1h0m19.7 1h0m19.8 1h0m19.8 1h0m19.8 1.1h0m19.8 1h0m19.8 1h0m19.8 1.1h0m19.8 1h0m19.8 1h0m19.8 1.1h0m19.8 1h0m19.8 1h0m-782.8 -23.6h0m19.8 1.1h0m19.8 1h0m19.8 1h0m19.8 1h0m19.8 1.1h0m19.8 1h0m19.8 1h0m19.8 1.1h0m19.8 1h0m19.8 1h0m19.8 1.1h0m19.8 1h0m19.8 1h0m19.8 1h0m19.7 1.1h0m19.8 1h0m19.8 1h0m19.8 1.1h0m19.8 1h0m19.8 1h0m19.8 1.1h0m19.8 1h0m19.8 1h0m19.8 1.1h0m19.8 1h0m19.8 1h0m19.8 1h0m19.8 1.1h0m19.8 1h0m19.7 1h0m19.8 1.1h0m19.8 1h0m19.8 1h0m19.8 1.1h0m19.8 1h0m19.8 1h0m19.8 1h0m19.8 1.1h0m19.8 1h0m-762.9 -22.6h0m19.7 1.1h0m19.8 1h0m19.8 1h0m19.8 1.1h0m19.8 1h0m19.8 1h0m19.8 1.1h0m19.8 1h0m19.8 1h0m19.8 1.1h0m19.8 1h0m19.8 1h0m19.8 1h0m19.8 1.1h0m19.8 1h0m19.7 1h0m19.8 1.1h0m19.8 1h0m19.8 1h0m19.8 1.1h0m19.8 1h0m19.8 1h0m19.8 1h0m19.8 1.1h0m19.8 1h0m19.8 1h0m19.8 1.1h0m19.8 1h0m19.8 1h0m19.8 1.1h0m19.7 1h0m19.8 1h0m19.8 1h0m19.8 1.1h0m19.8 1h0m19.8 1h0m19.8 1.1h0m19.8 1h0m19.8 1h0m-782.7 -23.6h0m19.8 1.1h0m19.8 1h0m19.7 1h0m19.8 1.1h0m19.8 1h0m19.8 1h0m19.8 1.1h0m19.8 1h0m19.8 1h0m19.8 1h0m19.8 1.1h0m19.8 1h0m19.8 1h0m19.8 1.1h0m19.8 1h0m19.8 1h0m19.8 1.1h0m19.7 1h0m19.8 1h0m19.8 1h0m19.8 1.1h0m19.8 1h0m19.8 1h0m19.8 1.1h0m19.8 1h0m19.8 1h0m19.8 1.1h0m19.8 1h0m19.8 1h0m19.8 1h0m19.8 1.1h0m19.8 1h0m19.7 1h0m19.8 1.1h0m19.8 1h0m19.8 1h0m19.8 1.1h0m19.8 1h0m19.8 1h0m-762.9 -22.5h0m19.8 1h0m19.8 1h0m19.8 1.1h0m19.7 1h0m19.8 1h0m19.8 1h0m19.8 1.1h0m19.8 1h0m19.8 1h0m19.8 1.1h0m19.8 1h0m19.8 1h0m19.8 1.1h0m19.8 1h0m19.8 1h0m19.8 1h0m19.8 1.1h0m19.8 1h0m19.7 1h0m19.8 1.1h0m19.8 1h0m19.8 1h0m19.8 1.1h0m19.8 1h0m19.8 1h0m19.8 1.1h0m19.8 1h0m19.8 1h0m19.8 1h0m19.8 1.1h0m19.8 1h0m19.8 1h0m19.7 1.1h0m19.8 1h0m19.8 1h0m19.8 1.1h0m19.8 1h0m19.8 1h0m19.8 1h0m-782.7 -23.5h0m19.8 1h0m19.8 1h0m19.8 1h0m19.8 1.1h0m19.8 1h0m19.7 1h0m19.8 1.1h0m19.8 1h0m19.8 1h0m19.8 1.1h0m19.8 1h0m19.8 1h0m19.8 1h0m19.8 1.1h0m19.8 1h0m19.8 1h0m19.8 1.1h0m19.8 1h0m19.8 1h0m19.8 1.1h0m19.7 1h0m19.8 1h0m19.8 1.1h0m19.8 1h0m19.8 1h0m19.8 1h0m19.8 1.1h0m19.8 1h0m19.8 1h0m19.8 1.1h0m19.8 1h0m19.8 1h0m19.8 1.1h0m19.8 1h0m19.7 1h0m19.8 1h0m19.8 1.1h0m19.8 1h0m19.8 1h0m-762.9 -22.5h0m19.8 1h0m19.8 1h0m19.8 1.1h0m19.8 1h0m19.8 1h0m19.8 1.1h0m19.7 1h0m19.8 1h0m19.8 1h0m19.8 1.1h0m19.8 1h0m19.8 1h0m19.8 1.1h0m19.8 1h0m19.8 1h0m19.8 1.1h0m19.8 1h0m19.8 1h0m19.8 1.1h0m19.8 1h0m19.7 1h0m19.8 1h0m19.8 1.1h0m19.8 1h0m19.8 1h0m19.8 1.1h0m19.8 1h0m19.8 1h0m19.8 1.1h0m19.8 1h0m19.8 1h0m19.8 1h0m19.8 1.1h0m19.8 1h0m19.8 1h0m19.7 1.1h0m19.8 1h0m19.8 1h0m19.8 1.1h0m-782.7 -23.6h0m19.8 1h0m19.8 1h0m19.8 1.1h0m19.8 1h0m19.8 1h0m19.8 1h0m19.8 1.1h0m19.8 1h0m19.7 1h0m19.8 1.1h0m19.8 1h0m19.8 1h0m19.8 1.1h0m19.8 1h0m19.8 1h0m19.8 1.1h0m19.8 1h0m19.8 1h0m19.8 1h0m19.8 1.1h0m19.8 1h0m19.8 1h0m19.7 1.1h0m19.8 1h0m19.8 1h0m19.8 1.1h0m19.8 1h0m19.8 1h0m19.8 1h0m19.8 1.1h0m19.8 1h0m19.8 1h0m19.8 1.1h0m19.8 1h0m19.8 1h0m19.8 1.1h0m19.8 1h0m19.7 1h0m19.8 1.1h0m-762.9 -22.6h0m19.8 1h0m19.8 1h0m19.8 1.1h0m19.8 1h0m19.8 1h0m19.8 1.1h0m19.8 1h0m19.8 1h0m19.8 1.1h0m19.7 1h0m19.8 1h0m19.8 1.1h0m19.8 1h0m19.8 1h0m19.8 1h0m19.8 1.1h0m19.8 1h0m19.8 1h0m19.8 1.1h0m19.8 1h0m19.8 1h0m19.8 1.1h0m19.8 1h0m19.7 1h0m19.8 1h0m19.8 1.1h0m19.8 1h0m19.8 1h0m19.8 1.1h0m19.8 1h0m19.8 1h0m19.8 1.1h0m19.8 1h0m19.8 1h0m19.8 1.1h0m19.8 1h0m19.8 1h0m19.8 1h0m19.7 1.1h0m-782.7 -23.6h0m19.8 1h0m19.8 1h0m19.8 1.1h0m19.8 1h0m19.8 1h0m19.8 1.1h0m19.8 1h0m19.8 1h0m19.8 1.1h0m19.8 1h0m19.7 1h0m19.8 1h0m19.8 1.1h0m19.8 1h0m19.8 1h0m19.8 1.1h0m19.8 1h0m19.8 1h0m19.8 1.1h0m19.8 1h0m19.8 1h0m19.8 1h0m19.8 1.1h0m19.8 1h0m19.8 1h0m19.7 1.1h0m19.8 1h0m19.8 1h0m19.8 1.1h0m19.8 1h0m19.8 1h0m19.8 1.1h0m19.8 1h0m19.8 1h0m19.8 1h0m19.8 1.1h0m19.8 1h0m19.8 1h0m19.8 1.1h0m-763 -22.6h0m19.8 1h0m19.8 1.1h0m19.8 1h0m19.8 1h0m19.8 1.1h0m19.8 1h0m19.8 1h0m19.8 1h0m19.8 1.1h0m19.8 1h0m19.8 1h0m19.7 1.1h0m19.8 1h0m19.8 1h0m19.8 1.1h0m19.8 1h0m19.8 1h0m19.8 1h0m19.8 1.1h0m19.8 1h0m19.8 1h0m19.8 1.1h0m19.8 1h0m19.8 1h0m19.8 1.1h0m19.8 1h0m19.7 1h0m19.8 1.1h0m19.8 1h0m19.8 1h0m19.8 1h0m19.8 1.1h0m19.8 1h0m19.8 1h0m19.8 1.1h0m19.8 1h0m19.8 1h0m19.8 1.1h0m19.8 1h0m-782.8 -23.6h0m19.8 1h0m19.8 1.1h0m19.8 1h0m19.8 1h0m19.8 1h0m19.8 1.1h0m19.8 1h0m19.8 1h0m19.8 1.1h0m19.8 1h0m19.8 1h0m19.8 1.1h0m19.8 1h0m19.7 1h0m19.8 1h0m19.8 1.1h0m19.8 1h0m19.8 1h0m19.8 1.1h0m19.8 1h0m19.8 1h0m19.8 1.1h0m19.8 1h0m19.8 1h0m19.8 1.1h0m19.8 1h0m19.8 1h0m19.8 1h0m19.7 1.1h0m19.8 1h0m19.8 1h0m19.8 1.1h0m19.8 1h0m19.8 1h0m19.8 1.1h0m19.8 1h0m19.8 1h0m19.8 1h0m19.8 1.1h0m-763 -22.6h0m19.8 1h0m19.8 1.1h0m19.8 1h0m19.8 1h0m19.8 1.1h0m19.8 1h0m19.8 1h0m19.8 1.1h0m19.8 1h0m19.8 1h0m19.8 1h0m19.8 1.1h0m19.8 1h0m19.8 1h0m19.7 1.1h0m19.8 1h0m19.8 1h0m19.8 1.1h0m19.8 1h0m19.8 1h0m19.8 1.1h0m19.8 1h0m19.8 1h0m19.8 1h0m19.8 1.1h0m19.8 1h0m19.8 1h0m19.8 1.1h0m19.8 1h0m19.7 1h0m19.8 1.1h0m19.8 1h0m19.8 1h0m19.8 1h0m19.8 1.1h0m19.8 1h0m19.8 1h0m19.8 1.1h0m19.8 1h0m-782.7 -23.6h0m19.8 1h0m19.7 1.1h0m19.8 1h0m19.8 1h0m19.8 1.1h0m19.8 1h0m19.8 1h0m19.8 1h0m19.8 1.1h0m19.8 1h0m19.8 1h0m19.8 1.1h0m19.8 1h0m19.8 1h0m19.8 1.1h0m19.8 1h0m19.7 1h0m19.8 1.1h0m19.8 1h0m19.8 1h0m19.8 1h0m19.8 1.1h0m19.8 1h0m19.8 1h0m19.8 1.1h0m19.8 1h0m19.8 1h0m19.8 1.1h0m19.8 1h0m19.8 1h0m19.8 1h0m19.7 1.1h0m19.8 1h0m19.8 1h0m19.8 1.1h0m19.8 1h0m19.8 1h0m19.8 1.1h0m19.8 1h0m-762.9 -22.6h0m19.8 1.1h0m19.8 1h0m19.7 1h0m19.8 1.1h0m19.8 1h0m19.8 1h0m19.8 1h0m19.8 1.1h0m19.8 1h0m19.8 1h0m19.8 1.1h0m19.8 1h0m19.8 1h0m19.8 1.1h0m19.8 1h0m19.8 1h0m19.8 1h0m19.7 1.1h0m19.8 1h0m19.8 1h0m19.8 1.1h0m19.8 1h0m19.8 1h0m19.8 1.1h0m19.8 1h0m19.8 1h0m19.8 1h0m19.8 1.1h0m19.8 1h0m19.8 1h0m19.8 1.1h0m19.8 1h0m19.7 1h0m19.8 1.1h0m19.8 1h0m19.8 1h0m19.8 1.1h0m19.8 1h0m19.8 1h0m-782.7 -23.6h0m19.8 1.1h0m19.8 1h0m19.8 1h0m19.8 1h0m19.7 1.1h0m19.8 1h0m19.8 1h0m19.8 1.1h0m19.8 1h0m19.8 1h0m19.8 1.1h0m19.8 1h0m19.8 1h0m19.8 1h0m19.8 1.1h0m19.8 1h0m19.8 1h0m19.8 1.1h0m19.8 1h0m19.7 1h0m19.8 1.1h0m19.8 1h0m19.8 1h0m19.8 1h0m19.8 1.1h0m19.8 1h0m19.8 1h0m19.8 1.1h0m19.8 1h0m19.8 1h0m19.8 1.1h0m19.8 1h0m19.8 1h0m19.7 1.1h0m19.8 1h0m19.8 1h0m19.8 1h0m19.8 1.1h0m19.8 1h0m-762.9 -22.6h0m19.8 1.1h0m19.8 1h0m19.8 1h0m19.8 1.1h0m19.8 1h0m19.7 1h0m19.8 1.1h0m19.8 1h0m19.8 1h0m19.8 1h0m19.8 1.1h0m19.8 1h0m19.8 1h0m19.8 1.1h0m19.8 1h0m19.8 1h0m19.8 1.1h0m19.8 1h0m19.8 1h0m19.8 1.1h0m19.7 1h0m19.8 1h0m19.8 1h0m19.8 1.1h0m19.8 1h0m19.8 1h0m19.8 1.1h0m19.8 1h0m19.8 1h0m19.8 1.1h0m19.8 1h0m19.8 1h0m19.8 1h0m19.8 1.1h0m19.7 1h0m19.8 1h0m19.8 1.1h0m19.8 1h0m19.8 1h0m-782.7 -23.6h0m19.8 1.1h0m19.8 1h0m19.8 1h0m19.8 1.1h0m19.8 1h0m19.8 1h0m19.8 1h0m19.7 1.1h0m19.8 1h0m19.8 1h0m19.8 1.1h0m19.8 1h0m19.8 1h0m19.8 1.1h0m19.8 1h0m19.8 1h0m19.8 1.1h0m19.8 1h0m19.8 1h0m19.8 1h0m19.8 1.1h0m19.8 1h0m19.7 1h0m19.8 1.1h0m19.8 1h0m19.8 1h0m19.8 1.1h0m19.8 1h0m19.8 1h0m19.8 1h0m19.8 1.1h0m19.8 1h0m19.8 1h0m19.8 1.1h0m19.8 1h0m19.8 1h0m19.7 1.1h0m19.8 1h0m19.8 1h0m-762.9 -22.5h0m19.8 1h0m19.8 1h0m19.8 1h0m19.8 1.1h0m19.8 1h0m19.8 1h0m19.8 1.1h0m19.8 1h0m19.7 1h0m19.8 1.1h0m19.8 1h0m19.8 1h0m19.8 1.1h0m19.8 1h0m19.8 1h0m19.8 1h0m19.8 1.1h0m19.8 1h0m19.8 1h0m19.8 1.1h0m19.8 1h0m19.8 1h0m19.7 1.1h0m19.8 1h0m19.8 1h0m19.8 1h0m19.8 1.1h0m19.8 1h0m19.8 1h0m19.8 1.1h0m19.8 1h0m19.8 1h0m19.8 1.1h0m19.8 1h0m19.8 1h0m19.8 1h0m19.8 1.1h0m19.7 1h0m19.8 1h0m-782.7 -23.6h0m19.8 1.1h0m19.8 1h0m19.8 1h0m19.8 1.1h0m19.8 1h0m19.8 1h0m19.8 1.1h0m19.8 1h0m19.8 1h0m19.8 1.1h0m19.7 1h0m19.8 1h0m19.8 1h0m19.8 1.1h0m19.8 1h0m19.8 1h0m19.8 1.1h0m19.8 1h0m19.8 1h0m19.8 1.1h0m19.8 1h0m19.8 1h0m19.8 1h0m19.8 1.1h0m19.7 1h0m19.8 1h0m19.8 1.1h0m19.8 1h0m19.8 1h0m19.8 1.1h0m19.8 1h0m19.8 1h0m19.8 1.1h0m19.8 1h0m19.8 1h0m19.8 1h0m19.8 1.1h0m19.8 1h0m19.8 1h0m-763 -22.5h0m19.8 1h0m19.8 1h0m19.8 1.1h0m19.8 1h0m19.8 1h0m19.8 1.1h0m19.8 1h0m19.8 1h0m19.8 1h0m19.8 1.1h0m19.8 1h0m19.7 1h0m19.8 1.1h0m19.8 1h0m19.8 1h0m19.8 1.1h0m19.8 1h0m19.8 1h0m19.8 1h0m19.8 1.1h0m19.8 1h0m19.8 1h0m19.8 1.1h0m19.8 1h0m19.8 1h0m19.7 1.1h0m19.8 1h0m19.8 1h0m19.8 1.1h0m19.8 1h0m19.8 1h0m19.8 1h0m19.8 1.1h0m19.8 1h0m19.8 1h0m19.8 1.1h0m19.8 1h0m19.8 1h0m19.8 1.1h0"/>
</g>
<path fill="none" stroke="#2e5c25" stroke-width="8.0" stroke-linecap="round" d="M179.5 46.7h0m19.8 0h0m99.1 0h0m19.9 0h0m19.8 0h0m19.8 0h0m19.8 0h0m19.8 0h0m79.3 0h0m19.8 0h0m19.9 0h0m19.8 0h0m19.8 0h0m19.8 0h0m19.8 0h0m19.9 0h0m138.7 0h0m19.8 0h0m-584.7 17.1h0m19.8 0h0m19.9 0h0m19.8 0h0m19.8 0h0m19.8 0h0m19.9 0h0m19.8 0h0m19.8 0h0m19.8 0h0m19.8 0h0m19.8 0h0m19.9 0h0m39.6 0h0m19.8 0h0m19.9 0h0m19.8 0h0m19.8 0h0m19.8 0h0m19.8 0h0m19.8 0h0m19.9 0h0m19.8 0h0m79.3 0h0m19.8 0h0m19.8 0h0m19.8 0h0m19.8 0h0m19.9 0h0m19.8 0h0m19.8 0h0m-683.8 17.2h0m19.8 0h0m19.9 0h0m19.8 0h0m19.8 0h0m19.8 0h0m19.8 0h0m119 0h0m19.8 0h0m19.8 0h0m19.8 0h0m19.8 0h0m19.9 0h0m118.9 0h0m19.8 0h0m19.8 0h0m19.8 0h0m19.9 0h0m19.8 0h0m59.4 0h0m19.9 0h0m19.8 0h0m19.8 0h0m19.8 0h0m19.8 0h0m19.9 0h0m19.8 0h0m-743.3 17.1h0m19.8 0h0m19.9 0h0m19.8 0h0m19.8 0h0m158.6 0h0m19.8 0h0m19.8 0h0m19.8 0h0m19.9 0h0m138.7 0h0m19.8 0h0m19.8 0h0m19.8 0h0m99.1 0h0m19.9 0h0m19.8 0h0m19.8 0h0m19.8 0h0m19.9 0h0m19.8 0h0m19.8 0h0m-723.4 17.1h0m19.8 0h0m19.8 0h0m178.4 0h0m19.8 0h0m19.8 0h0m178.4 0h0m19.8 0h0m19.8 0h0m19.9 0h0m118.9 0h0m19.8 0h0m19.8 0h0m19.8 0h0m19.9 0h0m19.8 0h0m-683.8 17.2h0m198.2 0h0m19.8 0h0m19.8 0h0m178.4 0h0m19.8 0h0m19.8 0h0m19.9 0h0m158.5 0h0m19.9 0h0m19.8 0h0m-683.8 17.1h0m19.8 0h0m198.2 0h0m19.8 0h0m198.2 0h0m19.8 0h0m19.9 0h0m198.2 0h0m-664 17.1h0m198.2 0h0m19.8 0h0m218 0h0m19.8 0h0m19.9 0h0m178.4 0h0m-664 17.1h0m19.8 0h0m198.2 0h0m19.8 0h0m198.2 0h0m19.8 0h0m19.9 0h0m198.2 0h0m-723.5 17.2h0m19.8 0h0m19.9 0h0m19.8 0h0m19.8 0h0m178.4 0h0m19.8 0h0m19.8 0h0m178.4 0h0m19.8 0h0m19.8 0h0m19.9 0h0m178.4 0h0m19.8 0h0m-763.1 17.1h0m19.8 0h0m19.8 0h0m19.9 0h0m19.8 0h0m19.8 0h0m19.8 0h0m158.6 0h0m19.8 0h0m19.8 0h0m19.8 0h0m158.6 0h0m19.8 0h0m19.8 0h0m19.9 0h0m138.7 0h0m19.8 0h0m19.8 0h0m19.9 0h0m-743.3 17.1h0m19.8 0h0m19.8 0h0m19.9 0h0m19.8 0h0m19.8 0h0m19.8 0h0m118.9 0h0m19.9 0h0m19.8 0h0m19.8 0h0m19.8 0h0m19.9 0h0m138.7 0h0m19.8 0h0m19.8 0h0m19.8 0h0m119 0h0m19.8 0h0m19.8 0h0m19.8 0h0m19.9 0h0m19.8 0h0m19.8 0h0m-782.9 17.2h0m19.8 0h0m19.8 0h0m19.9 0h0m19.8 0h0m19.8 0h0m19.8 0h0m19.8 0h0m19.9 0h0m19.8 0h0m19.8 0h0m19.8 0h0m19.8 0h0m19.9 0h0m39.6 0h0m19.8 0h0m19.8 0h0m19.9 0h0m19.8 0h0m79.3 0h0m19.8 0h0m19.8 0h0m19.8 0h0m19.8 0h0m19.9 0h0m19.8 0h0m59.4 0h0m19.9 0h0m19.8 0h0m19.8 0h0m19.8 0h0m19.8 0h0m19.9 0h0m19.8 0h0m-763.1 17.1h0m138.8 0h0m19.8 0h0m19.8 0h0m19.8 0h0m19.8 0h0m79.3 0h0m19.8 0h0m19.9 0h0m19.8 0h0m19.8 0h0m19.8 0h0m19.8 0h0m19.8 0h0m19.9 0h0m19.8 0h0m79.3 0h0m19.8 0h0m39.6 0h0m19.8 0h0m19.9 0h0m19.8 0h0m19.8 0h0m19.8 0h0m19.9 0h0m19.8 0h0m19.8 0h0m-782.9 17.1h0m158.6 0h0m19.8 0h0m19.8 0h0m19.8 0h0m99.1 0h0m19.8 0h0m19.9 0h0m19.8 0h0m19.8 0h0m19.8 0h0m19.8 0h0m19.9 0h0m138.7 0h0m19.8 0h0m19.8 0h0m19.9 0h0m19.8 0h0m-505.4 17.1h0m19.8 0h0m19.8 0h0m19.8 0h0m119 0h0m19.8 0h0m19.8 0h0m19.8 0h0m19.8 0h0m178.4 0h0m19.8 0h0m19.8 0h0m19.9 0h0m-485.6 17.2h0m19.8 0h0m19.8 0h0m198.2 0h0m198.2 0h0m19.8 0h0m19.9 0h0m-465.8 17.1h0m19.8 0h0m19.8 0h0m178.4 0h0m19.8 0h0m198.2 0h0m19.8 0h0m-465.7 17.1h0m19.8 0h0m19.8 0h0m198.2 0h0m198.2 0h0m19.8 0h0m-445.9 17.2h0m19.8 0h0m19.8 0h0m178.4 0h0m19.8 0h0m198.2 0h0m19.8 0h0m-465.7 17.1h0m19.8 0h0m19.8 0h0m158.6 0h0m19.8 0h0m19.8 0h0m198.2 0h0m19.8 0h0m-624.3 17.1h0m158.6 0h0m19.8 0h0m19.8 0h0m138.8 0h0m19.8 0h0m19.8 0h0m19.8 0h0m19.8 0h0m178.4 0h0m19.8 0h0m19.8 0h0m-644.1 17.2h0m19.8 0h0m118.9 0h0m19.9 0h0m19.8 0h0m19.8 0h0m118.9 0h0m19.8 0h0m19.9 0h0m19.8 0h0m19.8 0h0m19.8 0h0m19.8 0h0m19.9 0h0m138.7 0h0m19.8 0h0m19.8 0h0m19.9 0h0m-644.2 17.1h0m19.8 0h0m19.8 0h0m19.9 0h0m19.8 0h0m19.8 0h0m19.8 0h0m19.9 0h0m19.8 0h0m19.8 0h0m19.8 0h0m19.8 0h0m19.8 0h0m39.7 0h0m19.8 0h0m19.8 0h0m19.9 0h0m19.8 0h0m19.8 0h0m19.8 0h0m19.8 0h0m19.8 0h0m19.9 0h0m99.1 0h0m19.8 0h0m19.8 0h0m19.8 0h0m19.8 0h0m19.9 0h0m19.8 0h0m-683.8 17.1h0m19.8 0h0m19.8 0h0m19.9 0h0m19.8 0h0m19.8 0h0m19.8 0h0m19.8 0h0m99.1 0h0m19.9 0h0m19.8 0h0m19.8 0h0m19.8 0h0m19.8 0h0m19.9 0h0m99.1 0h0m19.8 0h0m19.8 0h0m19.8 0h0m19.8 0h0m19.9 0h0m19.8 0h0m39.6 0h0m19.8 0h0m19.9 0h0m19.8 0h0m19.8 0h0m19.8 0h0m19.8 0h0m19.9 0h0m19.8 0h0m-763.1 17.2h0m19.8 0h0m19.8 0h0m19.9 0h0m19.8 0h0m19.8 0h0m158.6 0h0m19.8 0h0m19.8 0h0m19.8 0h0m158.6 0h0m19.8 0h0m19.8 0h0m19.8 0h0m99.1 0h0m19.9 0h0m19.8 0h0m19.8 0h0m19.8 0h0m19.9 0h0m19.8 0h0m19.8 0h0m-743.3 17.1h0m19.9 0h0m19.8 0h0m19.8 0h0m178.4 0h0m19.8 0h0m19.8 0h0m178.4 0h0m19.8 0h0m19.8 0h0m119 0h0m19.8 0h0m19.8 0h0m19.8 0h0m19.8 0h0m19.9 0h0m19.8 0h0m-683.8 17.1h0m198.2 0h0m19.8 0h0m198.2 0h0m19.8 0h0m19.8 0h0m138.8 0h0m19.8 0h0m19.8 0h0m19.9 0h0m19.8 0h0m-683.8 17.1h0m198.2 0h0m19.8 0h0m198.2 0h0m19.8 0h0m19.8 0h0m19.9 0h0m178.3 0h0m19.9 0h0m-683.8 17.2h0m19.8 0h0m198.2 0h0m19.8 0h0m198.2 0h0m19.8 0h0m19.8 0h0m198.3 0h0m-664 17.1h0m198.2 0h0m19.8 0h0m198.2 0h0m19.8 0h0m19.8 0h0m19.9 0h0m178.3 0h0m-703.6 17.1h0m19.8 0h0m19.9 0h0m19.8 0h0m198.2 0h0m19.8 0h0m198.2 0h0m19.8 0h0m19.8 0h0m198.3 0h0m-743.3 17.2h0m19.8 0h0m19.8 0h0m19.9 0h0m19.8 0h0m19.8 0h0m178.4 0h0m19.8 0h0m19.8 0h0m178.4 0h0m19.8 0h0m19.8 0h0m158.6 0h0m19.8 0h0m19.8 0h0m19.9 0h0m-743.3 17.1h0m19.8 0h0m19.8 0h0m19.9 0h0m19.8 0h0m19.8 0h0m19.8 0h0m118.9 0h0m19.9 0h0m19.8 0h0m19.8 0h0m19.8 0h0m158.6 0h0m19.8 0h0m19.8 0h0m19.8 0h0m99.1 0h0m19.9 0h0m19.8 0h0m19.8 0h0m19.8 0h0m19.9 0h0m19.8 0h0m-485.6 17.1h0m19.8 0h0m19.8 0h0m19.8 0h0m19.9 0h0m99.1 0h0m19.8 0h0m19.8 0h0m19.8 0h0m19.8 0h0m19.9 0h0m79.2 0h0m19.9 0h0m19.8 0h0m19.8 0h0m19.8 0h0m19.8 0h0m19.9 0h0m19.8 0h0"/>
<path fill="none" stroke="#5d9a4e" stroke-width="3.6" stroke-linecap="round" d="M178.7 46.1h0m19.8 0h0m99.1 0h0m19.9 0h0m19.8 0h0m19.8 0h0m19.8 0h0m19.8 0h0m79.3 0h0m19.8 0h0m19.9 0h0m19.8 0h0m19.8 0h0m19.8 0h0m19.8 0h0m19.9 0h0m138.7 0h0m19.8 0h0m-584.7 17.1h0m19.8 0h0m19.9 0h0m19.8 0h0m19.8 0h0m19.8 0h0m19.9 0h0m19.8 0h0m19.8 0h0m19.8 0h0m19.8 0h0m19.8 0h0m19.9 0h0m39.6 0h0m19.8 0h0m19.9 0h0m19.8 0h0m19.8 0h0m19.8 0h0m19.8 0h0m19.8 0h0m19.9 0h0m19.8 0h0m79.3 0h0m19.8 0h0m19.8 0h0m19.8 0h0m19.9 0h0m19.8 0h0m19.8 0h0m19.8 0h0m-683.8 17.2h0m19.8 0h0m19.9 0h0m19.8 0h0m19.8 0h0m19.8 0h0m19.8 0h0m119 0h0m19.8 0h0m19.8 0h0m19.8 0h0m19.8 0h0m19.9 0h0m118.9 0h0m19.8 0h0m19.8 0h0m19.8 0h0m19.9 0h0m19.8 0h0m59.4 0h0m19.9 0h0m19.8 0h0m19.8 0h0m19.8 0h0m19.8 0h0m19.9 0h0m19.8 0h0m-743.3 17.1h0m19.8 0h0m19.9 0h0m19.8 0h0m19.8 0h0m158.6 0h0m19.8 0h0m19.8 0h0m19.8 0h0m19.9 0h0m138.7 0h0m19.8 0h0m19.8 0h0m19.8 0h0m99.2 0h0m19.8 0h0m19.8 0h0m19.8 0h0m19.8 0h0m19.9 0h0m19.8 0h0m19.8 0h0m-723.4 17.1h0m19.8 0h0m19.8 0h0m178.4 0h0m19.8 0h0m19.8 0h0m178.4 0h0m19.8 0h0m19.8 0h0m19.9 0h0m118.9 0h0m19.8 0h0m19.8 0h0m19.8 0h0m19.9 0h0m19.8 0h0m-683.8 17.2h0m198.2 0h0m19.8 0h0m19.8 0h0m178.4 0h0m19.8 0h0m19.8 0h0m19.9 0h0m158.5 0h0m19.9 0h0m19.8 0h0m-683.8 17.1h0m19.8 0h0m198.2 0h0m19.8 0h0m198.2 0h0m19.8 0h0m19.9 0h0m198.2 0h0m-664 17.1h0m198.2 0h0m19.8 0h0m218 0h0m19.8 0h0m19.9 0h0m178.4 0h0m-664 17.1h0m19.8 0h0m198.2 0h0m19.8 0h0m198.2 0h0m19.8 0h0m19.9 0h0m198.2 0h0m-723.5 17.2h0m19.8 0h0m19.9 0h0m19.8 0h0m19.8 0h0m178.4 0h0m19.8 0h0m19.8 0h0m178.4 0h0m19.8 0h0m19.8 0h0m19.9 0h0m178.4 0h0m19.8 0h0m-763.1 17.1h0m19.8 0h0m19.8 0h0m19.9 0h0m19.8 0h0m19.8 0h0m19.8 0h0m158.6 0h0m19.8 0h0m19.8 0h0m19.8 0h0m158.6 0h0m19.8 0h0m19.8 0h0m19.9 0h0m138.7 0h0m19.8 0h0m19.8 0h0m19.9 0h0m-743.3 17.1h0m19.8 0h0m19.8 0h0m19.9 0h0m19.8 0h0m19.8 0h0m19.8 0h0m118.9 0h0m19.9 0h0m19.8 0h0m19.8 0h0m19.8 0h0m19.9 0h0m138.7 0h0m19.8 0h0m19.8 0h0m19.8 0h0m119 0h0m19.8 0h0m19.8 0h0m19.8 0h0m19.9 0h0m19.8 0h0m19.8 0h0m-782.9 17.2h0m19.8 0h0m19.8 0h0m19.9 0h0m19.8 0h0m19.8 0h0m19.8 0h0m19.8 0h0m19.9 0h0m19.8 0h0m19.8 0h0m19.8 0h0m19.8 0h0m19.9 0h0m39.6 0h0m19.8 0h0m19.8 0h0m19.9 0h0m19.8 0h0m79.3 0h0m19.8 0h0m19.8 0h0m19.8 0h0m19.8 0h0m19.9 0h0m19.8 0h0m59.4 0h0m19.9 0h0m19.8 0h0m19.8 0h0m19.8 0h0m19.8 0h0m19.9 0h0m19.8 0h0m-763.1 17.1h0m138.8 0h0m19.8 0h0m19.8 0h0m19.8 0h0m19.8 0h0m79.3 0h0m19.8 0h0m19.9 0h0m19.8 0h0m19.8 0h0m19.8 0h0m19.8 0h0m19.8 0h0m19.9 0h0m19.8 0h0m79.3 0h0m19.8 0h0m39.6 0h0m19.9 0h0m19.8 0h0m19.8 0h0m19.8 0h0m19.8 0h0m19.9 0h0m19.8 0h0m19.8 0h0m-782.9 17.1h0m158.6 0h0m19.8 0h0m19.8 0h0m19.8 0h0m99.1 0h0m19.8 0h0m19.9 0h0m19.8 0h0m19.8 0h0m19.8 0h0m19.8 0h0m19.9 0h0m138.7 0h0m19.8 0h0m19.8 0h0m19.9 0h0m19.8 0h0m-505.4 17.1h0m19.8 0h0m19.8 0h0m19.8 0h0m119 0h0m19.8 0h0m19.8 0h0m19.8 0h0m19.8 0h0m178.4 0h0m19.8 0h0m19.9 0h0m19.8 0h0m-485.6 17.2h0m19.8 0h0m19.8 0h0m198.2 0h0m198.2 0h0m19.8 0h0m19.9 0h0m-465.8 17.1h0m19.8 0h0m19.8 0h0m178.4 0h0m19.8 0h0m198.2 0h0m19.9 0h0m-465.8 17.1h0m19.8 0h0m19.8 0h0m198.2 0h0m198.2 0h0m19.8 0h0m-445.9 17.2h0m19.8 0h0m19.8 0h0m178.4 0h0m19.8 0h0m198.2 0h0m19.9 0h0m-465.8 17.1h0m19.8 0h0m19.8 0h0m158.6 0h0m19.8 0h0m19.8 0h0m198.2 0h0m19.8 0h0m-624.3 17.1h0m158.6 0h0m19.8 0h0m19.8 0h0m138.8 0h0m19.8 0h0m19.8 0h0m19.8 0h0m19.8 0h0m178.4 0h0m19.8 0h0m19.9 0h0m-644.2 17.2h0m19.8 0h0m118.9 0h0m19.9 0h0m19.8 0h0m19.8 0h0m118.9 0h0m19.8 0h0m19.9 0h0m19.8 0h0m19.8 0h0m19.8 0h0m19.8 0h0m19.9 0h0m138.7 0h0m19.8 0h0m19.8 0h0m19.9 0h0m-644.2 17.1h0m19.8 0h0m19.8 0h0m19.9 0h0m19.8 0h0m19.8 0h0m19.8 0h0m19.9 0h0m19.8 0h0m19.8 0h0m19.8 0h0m19.8 0h0m19.8 0h0m39.7 0h0m19.8 0h0m19.8 0h0m19.9 0h0m19.8 0h0m19.8 0h0m19.8 0h0m19.8 0h0m19.8 0h0m19.9 0h0m99.1 0h0m19.8 0h0m19.8 0h0m19.8 0h0m19.9 0h0m19.8 0h0m19.8 0h0m-683.8 17.1h0m19.8 0h0m19.8 0h0m19.9 0h0m19.8 0h0m19.8 0h0m19.8 0h0m19.8 0h0m99.1 0h0m19.9 0h0m19.8 0h0m19.8 0h0m19.8 0h0m19.8 0h0m19.9 0h0m99.1 0h0m19.8 0h0m19.8 0h0m19.8 0h0m19.8 0h0m19.9 0h0m19.8 0h0m39.6 0h0m19.8 0h0m19.9 0h0m19.8 0h0m19.8 0h0m19.8 0h0m19.8 0h0m19.9 0h0m19.8 0h0m-763.1 17.2h0m19.8 0h0m19.8 0h0m19.9 0h0m19.8 0h0m19.8 0h0m158.6 0h0m19.8 0h0m19.8 0h0m19.8 0h0m158.6 0h0m19.8 0h0m19.8 0h0m19.8 0h0m99.2 0h0m19.8 0h0m19.8 0h0m19.8 0h0m19.8 0h0m19.9 0h0m19.8 0h0m19.8 0h0m-743.3 17.1h0m19.9 0h0m19.8 0h0m19.8 0h0m178.4 0h0m19.8 0h0m19.8 0h0m178.4 0h0m19.8 0h0m19.8 0h0m119 0h0m19.8 0h0m19.8 0h0m19.8 0h0m19.8 0h0m19.9 0h0m19.8 0h0m-683.8 17.1h0m198.2 0h0m19.8 0h0m198.2 0h0m19.8 0h0m19.8 0h0m138.8 0h0m19.8 0h0m19.8 0h0m19.9 0h0m19.8 0h0m-683.8 17.1h0m198.2 0h0m19.8 0h0m198.2 0h0m19.8 0h0m19.8 0h0m19.9 0h0m178.3 0h0m19.9 0h0m-683.8 17.2h0m19.8 0h0m198.2 0h0m19.8 0h0m198.2 0h0m19.8 0h0m19.8 0h0m198.3 0h0m-664 17.1h0m198.2 0h0m19.8 0h0m198.2 0h0m19.8 0h0m19.8 0h0m19.9 0h0m178.3 0h0m-703.6 17.1h0m19.8 0h0m19.9 0h0m19.8 0h0m198.2 0h0m19.8 0h0m198.2 0h0m19.8 0h0m19.8 0h0m198.3 0h0m-743.3 17.2h0m19.8 0h0m19.8 0h0m19.9 0h0m19.8 0h0m19.8 0h0m178.4 0h0m19.8 0h0m19.8 0h0m178.4 0h0m19.8 0h0m19.8 0h0m158.6 0h0m19.8 0h0m19.8 0h0m19.9 0h0m-743.3 17.1h0m19.8 0h0m19.8 0h0m19.9 0h0m19.8 0h0m19.8 0h0m19.8 0h0m118.9 0h0m19.9 0h0m19.8 0h0m19.8 0h0m19.8 0h0m158.6 0h0m19.8 0h0m19.8 0h0m19.8 0h0m99.2 0h0m19.8 0h0m19.8 0h0m19.8 0h0m19.8 0h0m19.9 0h0m19.8 0h0m-485.6 17.1h0m19.8 0h0m19.8 0h0m19.8 0h0m19.9 0h0m99.1 0h0m19.8 0h0m19.8 0h0m19.8 0h0m19.8 0h0m19.9 0h0m79.2 0h0m19.9 0h0m19.8 0h0m19.8 0h0m19.8 0h0m19.8 0h0m19.9 0h0m19.8 0h0"/>
<path fill="none" stroke="#2e5c25" stroke-width="4.4" stroke-linecap="round" d="M169.6 41h0m218 0h0m19.8 0h0m138.8 0h0m19.8 0h0m-386.5 17.1h0m19.8 0h0m198.2 0h0m19.9 0h0m19.8 0h0m59.4 0h0m19.9 0h0m19.8 0h0m218 0h0m19.8 0h0m19.8 0h0m19.9 0h0m19.8 0h0m-644.2 17.1h0m19.8 0h0m19.9 0h0m178.3 0h0m19.9 0h0m19.8 0h0m19.8 0h0m19.8 0h0m19.9 0h0m19.8 0h0m198.2 0h0m19.8 0h0m19.8 0h0m19.8 0h0m19.8 0h0m19.9 0h0m19.8 0h0m19.8 0h0m-644.1 17.2h0m19.8 0h0m237.8 0h0m237.9 0h0m19.8 0h0m118.9 0h0m19.8 0h0m-644.1 17.1h0m19.8 0h0m455.8 0h0m178.4 0h0m-644.1 17.1h0m455.8 0h0m198.2 0h0m-663.9 17.2h0m19.8 0h0m436 0h0m198.2 0h0m19.9 0h0m-664 17.1h0m436 0h0m19.8 0h0m198.2 0h0m19.9 0h0m-683.8 17.1h0m19.8 0h0m436 0h0m218.1 0h0m-683.8 17.1h0m19.8 0h0m436 0h0m19.8 0h0m198.2 0h0m19.9 0h0m-703.7 17.2h0m19.9 0h0m455.8 0h0m19.8 0h0m178.4 0h0m19.9 0h0m-703.7 17.1h0m19.9 0h0m237.8 0h0m19.8 0h0m218 0h0m19.9 0h0m158.5 0h0m19.8 0h0m-723.4 17.1h0m19.8 0h0m19.8 0h0m198.2 0h0m19.9 0h0m19.8 0h0m19.8 0h0m19.8 0h0m19.9 0h0m198.1 0h0m19.9 0h0m118.9 0h0m19.8 0h0m19.8 0h0m-703.6 17.2h0m198.2 0h0m19.8 0h0m19.9 0h0m79.2 0h0m19.9 0h0m19.8 0h0m198.2 0h0m19.8 0h0m19.8 0h0m19.8 0h0m19.9 0h0m19.8 0h0m19.8 0h0m-485.6 17.1h0m19.8 0h0m138.8 0h0m19.8 0h0m198.2 0h0m19.8 0h0m19.8 0h0m19.8 0h0m19.9 0h0m19.8 0h0m-485.6 17.1h0m19.8 0h0m158.6 0h0m19.8 0h0m-208.1 17.2h0m19.8 0h0m178.4 0h0m19.8 0h0m-227.9 17.1h0m19.8 0h0m198.2 0h0m19.8 0h0m-227.9 17.1h0m218 0h0m-227.9 17.1h0m19.8 0h0m198.2 0h0m19.8 0h0m-227.9 17.2h0m19.8 0h0m178.4 0h0m19.8 0h0m-208.1 17.1h0m19.8 0h0m178.4 0h0m-188.3 17.1h0m19.8 0h0m138.8 0h0m19.8 0h0m-366.7 17.2h0m19.8 0h0m178.4 0h0m19.8 0h0m19.9 0h0m99.1 0h0m19.8 0h0m218 0h0m19.8 0h0m19.8 0h0m19.9 0h0m-624.4 17.1h0m19.8 0h0m198.2 0h0m19.9 0h0m19.8 0h0m19.8 0h0m19.8 0h0m19.9 0h0m19.8 0h0m198.2 0h0m19.8 0h0m19.8 0h0m19.8 0h0m19.8 0h0m19.9 0h0m19.8 0h0m-644.2 17.1h0m19.9 0h0m218 0h0m19.8 0h0m19.8 0h0m218 0h0m19.9 0h0m19.8 0h0m99.1 0h0m19.8 0h0m19.8 0h0m-664 17.2h0m19.9 0h0m455.8 0h0m19.8 0h0m158.6 0h0m19.8 0h0m-663.9 17.1h0m19.8 0h0m436 0h0m19.8 0h0m178.4 0h0m19.8 0h0m-663.9 17.1h0m436 0h0m19.8 0h0m198.2 0h0m19.9 0h0m-683.8 17.1h0m19.8 0h0m436 0h0m218 0h0m-663.9 17.2h0m436 0h0m19.8 0h0m198.2 0h0m19.9 0h0m-683.8 17.1h0m19.8 0h0m436 0h0m198.2 0h0m19.8 0h0m-683.8 17.1h0m19.9 0h0m455.8 0h0m198.2 0h0m-683.8 17.2h0m19.9 0h0m455.8 0h0m19.8 0h0m178.4 0h0m-465.8 17.1h0m19.9 0h0m19.8 0h0m19.8 0h0m19.8 0h0m19.9 0h0m198.1 0h0m19.9 0h0m118.9 0h0m19.8 0h0"/>
<path d="M240 345 L575.4 162.6 L902 362 L564.7 544.7 Z" fill="none" stroke="#00b050" stroke-width="6" stroke-linejoin="miter"/>
<circle cx="238.6" cy="343.5" r="29.6" fill="none" stroke="#000" stroke-width="3.7" stroke-dasharray="9.5 4.5"/>
<circle cx="459.2" cy="348.2" r="29.6" fill="none" stroke="#000" stroke-width="3.7" stroke-dasharray="9.5 4.5"/>
<circle cx="654.7" cy="347.4" r="29.6" fill="none" stroke="#000" stroke-width="3.7" stroke-dasharray="9.5 4.5"/>
<circle cx="238" cy="401" r="21" fill="url(#halo)"/>
<circle cx="455.4" cy="403" r="21" fill="url(#halo)"/>
<circle cx="656" cy="402" r="21" fill="url(#halo)"/>
<line x1="268" y1="343" x2="1001.5" y2="117.3" stroke="#000" stroke-width="3.0" stroke-dasharray="19 7.5"/><path d="M1019.7 111.7 L1001.7 124.6 L997.6 111.2 Z" fill="#000"/>
<line x1="478.3" y1="327.8" x2="1029.1" y2="260.6" stroke="#000" stroke-width="3.0" stroke-dasharray="19 7.5"/><path d="M1048 258.3 L1028 267.8 L1026.3 253.9 Z" fill="#000"/>
<line x1="674.2" y1="367.3" x2="1003.8" y2="531.5" stroke="#000" stroke-width="3.0" stroke-dasharray="19 7.5"/><path d="M1020.8 540 L998.9 536.9 L1005.1 524.4 Z" fill="#000"/>
<line x1="593.5" y1="548.9" x2="893.8" y2="386" stroke="#222" stroke-width="3.2" stroke-dasharray="13 7"/><path d="M911.4 376.5 L896.9 391.7 L890.7 380.3 Z" fill="#222"/><path d="M575.9 558.4 L596.6 554.6 L590.4 543.2 Z" fill="#222"/>
<text x="223.0" y="414.2" font-size="39.69" textLength="30.01" lengthAdjust="spacingAndGlyphs">A</text>
<text x="441.1" y="417.1" font-size="41.36" textLength="29.54" lengthAdjust="spacingAndGlyphs">B</text>
<text x="640.3" y="417.9" font-size="42.12" textLength="31.67" lengthAdjust="spacingAndGlyphs">C</text>
<ellipse cx="767.5" cy="501.5" rx="34" ry="20" fill="url(#halo)"/>
<text x="743.0" y="508.5" font-size="33.68" font-style="italic" textLength="23.69" lengthAdjust="spacingAndGlyphs">a</text>
<text x="766.9" y="513.0" font-size="23.35" textLength="23.19" lengthAdjust="spacingAndGlyphs">m</text>
<text x="96.0" y="41.5" font-size="42.46" textLength="14.13" lengthAdjust="spacingAndGlyphs">(</text>
<text x="112.5" y="41.1" font-size="37.79" textLength="22.02" lengthAdjust="spacingAndGlyphs">a</text>
<text x="134.6" y="41.5" font-size="42.46" textLength="14.00" lengthAdjust="spacingAndGlyphs">)</text>
<text x="1349.1" y="41.5" font-size="42.46" textLength="13.74" lengthAdjust="spacingAndGlyphs">(</text>
<text x="1368.0" y="41.1" font-size="38.94" textLength="20.03" lengthAdjust="spacingAndGlyphs">b</text>
<text x="1390.1" y="41.5" font-size="42.46" textLength="13.74" lengthAdjust="spacingAndGlyphs">)</text>
<circle cx="1118" cy="111" r="95" fill="none" stroke="#000" stroke-width="4.2" stroke-dasharray="14.4 10.47" stroke-dashoffset="11.4"/>
<circle cx="1118" cy="326" r="95" fill="none" stroke="#000" stroke-width="4.2" stroke-dasharray="14.4 10.47" stroke-dashoffset="11.4"/>
<circle cx="1118" cy="541.7" r="95" fill="none" stroke="#000" stroke-width="4.2" stroke-dasharray="14.4 10.47" stroke-dashoffset="11.4"/>
<line x1="1118.9" y1="31.2" x2="1118.9" y2="71.1" stroke="#eeae84" stroke-width="2.2"/>
<line x1="1118.9" y1="71.1" x2="1083.1" y2="91.3" stroke="#eeae84" stroke-width="2.2"/>
<line x1="1118.9" y1="71.1" x2="1154.4" y2="91.3" stroke="#eeae84" stroke-width="2.2"/>
<line x1="1083.1" y1="91.3" x2="1048.2" y2="70.3" stroke="#eeae84" stroke-width="2.2"/>
<line x1="1154.4" y1="91.3" x2="1190.7" y2="70.3" stroke="#eeae84" stroke-width="2.2"/>
<line x1="1083.1" y1="91.3" x2="1083.1" y2="131.8" stroke="#eeae84" stroke-width="2.2"/>
<line x1="1154.4" y1="91.3" x2="1153" y2="131.8" stroke="#eeae84" stroke-width="2.2"/>
<line x1="1083.1" y1="131.8" x2="1118.9" y2="151.4" stroke="#eeae84" stroke-width="2.2"/>
<line x1="1153" y1="131.8" x2="1118.9" y2="151.4" stroke="#eeae84" stroke-width="2.2"/>
<line x1="1083.1" y1="131.8" x2="1046.8" y2="150" stroke="#eeae84" stroke-width="2.2"/>
<line x1="1153" y1="131.8" x2="1190.7" y2="151.4" stroke="#eeae84" stroke-width="2.2"/>
<line x1="1118.9" y1="151.4" x2="1118.9" y2="190.5" stroke="#eeae84" stroke-width="2.2"/>
<circle cx="1118.9" cy="31.2" r="11.2" fill="url(#gO2)"/><circle cx="1114.4" cy="29.5" r="2.8" fill="#fff" opacity="0.6"/><circle cx="1122.8" cy="34.6" r="2.2" fill="#fff" opacity="0.45"/>
<circle cx="1118.9" cy="71.1" r="7" fill="url(#gO2)"/>
<circle cx="1083.1" cy="91.3" r="11.5" fill="url(#gO2)"/><circle cx="1078.5" cy="89.6" r="2.9" fill="#fff" opacity="0.6"/><circle cx="1087.1" cy="94.8" r="2.3" fill="#fff" opacity="0.45"/>
<circle cx="1154.4" cy="91.3" r="11.5" fill="url(#gO2)"/><circle cx="1149.8" cy="89.6" r="2.9" fill="#fff" opacity="0.6"/><circle cx="1158.4" cy="94.8" r="2.3" fill="#fff" opacity="0.45"/>
<circle cx="1048.2" cy="70.3" r="7.5" fill="url(#gO2)"/>
<circle cx="1190.7" cy="70.3" r="7.5" fill="url(#gO2)"/>
<circle cx="1083.1" cy="131.8" r="7" fill="url(#gO2)"/>
<circle cx="1153" cy="131.8" r="7" fill="url(#gO2)"/>
<circle cx="1118.9" cy="151.4" r="11.5" fill="url(#gO2)"/><circle cx="1114.3" cy="149.7" r="2.9" fill="#fff" opacity="0.6"/><circle cx="1122.9" cy="154.8" r="2.3" fill="#fff" opacity="0.45"/>
<circle cx="1046.8" cy="150" r="12" fill="url(#gO2)"/><circle cx="1042" cy="148.2" r="3" fill="#fff" opacity="0.6"/><circle cx="1051" cy="153.6" r="2.4" fill="#fff" opacity="0.45"/>
<circle cx="1190.7" cy="151.4" r="12" fill="url(#gO2)"/><circle cx="1185.9" cy="149.6" r="3" fill="#fff" opacity="0.6"/><circle cx="1194.9" cy="155" r="2.4" fill="#fff" opacity="0.45"/>
<circle cx="1118.9" cy="190.5" r="7" fill="url(#gO2)"/>
<rect x="1101" y="91" width="10.4" height="2.3" fill="#000"/><rect x="1120" y="91" width="11.9" height="2.3" fill="#000"/>
<path d="M1078.1 92.1 L1101.6 84.8 L1101.6 98.9 Z" fill="#000"/><path d="M1158.8 92.1 L1135.3 84.8 L1135.3 98.9 Z" fill="#000"/>
<text x="1106.3" y="121.7" font-size="33.06" font-style="italic" textLength="23.23" lengthAdjust="spacingAndGlyphs">a</text>
<line x1="1083.1" y1="264.8" x2="1046.2" y2="285.5" stroke="#eeae84" stroke-width="2.2"/>
<line x1="1083.1" y1="264.8" x2="1117.6" y2="285.5" stroke="#eeae84" stroke-width="2.2"/>
<line x1="1152.5" y1="264.8" x2="1117.6" y2="285.5" stroke="#eeae84" stroke-width="2.2"/>
<line x1="1152.5" y1="264.8" x2="1187.9" y2="285.5" stroke="#eeae84" stroke-width="2.2"/>
<line x1="1046.2" y1="327.4" x2="1046.2" y2="285.5" stroke="#eeae84" stroke-width="2.2"/>
<line x1="1046.2" y1="327.4" x2="1082.5" y2="347.4" stroke="#eeae84" stroke-width="2.2"/>
<line x1="1117.6" y1="325.9" x2="1117.6" y2="285.5" stroke="#eeae84" stroke-width="2.2"/>
<line x1="1117.6" y1="325.9" x2="1082.5" y2="347.4" stroke="#eeae84" stroke-width="2.2"/>
<line x1="1117.6" y1="325.9" x2="1152.5" y2="347.4" stroke="#eeae84" stroke-width="2.2"/>
<line x1="1187.9" y1="327.4" x2="1187.9" y2="285.5" stroke="#eeae84" stroke-width="2.2"/>
<line x1="1187.9" y1="327.4" x2="1152.5" y2="347.4" stroke="#eeae84" stroke-width="2.2"/>
<line x1="1082.5" y1="387.9" x2="1082.5" y2="347.4" stroke="#eeae84" stroke-width="2.2"/>
<line x1="1082.5" y1="387.9" x2="1117.6" y2="407" stroke="#eeae84" stroke-width="2.2"/>
<line x1="1152.5" y1="387.9" x2="1152.5" y2="347.4" stroke="#eeae84" stroke-width="2.2"/>
<line x1="1152.5" y1="387.9" x2="1117.6" y2="407" stroke="#eeae84" stroke-width="2.2"/>
<line x1="1117.6" y1="244.2" x2="1117.6" y2="285.5" stroke="#2e5a22" stroke-width="2.2"/>
<line x1="1082.5" y1="305.2" x2="1046.2" y2="285.5" stroke="#2e5a22" stroke-width="2.2"/>
<line x1="1082.5" y1="305.2" x2="1117.6" y2="285.5" stroke="#2e5a22" stroke-width="2.2"/>
<line x1="1082.5" y1="305.2" x2="1082.5" y2="347.4" stroke="#2e5a22" stroke-width="2.2"/>
<line x1="1152.5" y1="305.2" x2="1117.6" y2="285.5" stroke="#2e5a22" stroke-width="2.2"/>
<line x1="1152.5" y1="305.2" x2="1187.9" y2="285.5" stroke="#2e5a22" stroke-width="2.2"/>
<line x1="1152.5" y1="305.2" x2="1152.5" y2="347.4" stroke="#2e5a22" stroke-width="2.2"/>
<line x1="1046.2" y1="367.2" x2="1082.5" y2="347.4" stroke="#2e5a22" stroke-width="2.2"/>
<line x1="1117.6" y1="366.3" x2="1082.5" y2="347.4" stroke="#2e5a22" stroke-width="2.2"/>
<line x1="1117.6" y1="366.3" x2="1152.5" y2="347.4" stroke="#2e5a22" stroke-width="2.2"/>
<line x1="1117.6" y1="366.3" x2="1117.6" y2="407" stroke="#2e5a22" stroke-width="2.2"/>
<line x1="1187.9" y1="367.2" x2="1152.5" y2="347.4" stroke="#2e5a22" stroke-width="2.2"/>
<circle cx="1083.1" cy="264.8" r="7" fill="url(#gO2)"/>
<circle cx="1152.5" cy="264.8" r="7" fill="url(#gO2)"/>
<circle cx="1046.2" cy="327.4" r="7" fill="url(#gO2)"/>
<circle cx="1117.6" cy="325.9" r="7" fill="url(#gO2)"/>
<circle cx="1187.9" cy="327.4" r="7" fill="url(#gO2)"/>
<circle cx="1082.5" cy="387.9" r="7" fill="url(#gO2)"/>
<circle cx="1152.5" cy="387.9" r="7" fill="url(#gO2)"/>
<circle cx="1046.2" cy="285.5" r="11.5" fill="url(#gO2)"/><circle cx="1041.6" cy="283.8" r="2.9" fill="#fff" opacity="0.6"/><circle cx="1050.2" cy="288.9" r="2.3" fill="#fff" opacity="0.45"/>
<circle cx="1117.6" cy="285.5" r="11.5" fill="url(#gO2)"/><circle cx="1113" cy="283.8" r="2.9" fill="#fff" opacity="0.6"/><circle cx="1121.6" cy="288.9" r="2.3" fill="#fff" opacity="0.45"/>
<circle cx="1187.9" cy="285.5" r="11.5" fill="url(#gO2)"/><circle cx="1183.3" cy="283.8" r="2.9" fill="#fff" opacity="0.6"/><circle cx="1191.9" cy="288.9" r="2.3" fill="#fff" opacity="0.45"/>
<circle cx="1082.5" cy="347.4" r="11.5" fill="url(#gO2)"/><circle cx="1077.9" cy="345.7" r="2.9" fill="#fff" opacity="0.6"/><circle cx="1086.5" cy="350.8" r="2.3" fill="#fff" opacity="0.45"/>
<circle cx="1152.5" cy="347.4" r="11.5" fill="url(#gO2)"/><circle cx="1147.9" cy="345.7" r="2.9" fill="#fff" opacity="0.6"/><circle cx="1156.5" cy="350.8" r="2.3" fill="#fff" opacity="0.45"/>
<circle cx="1117.6" cy="407" r="11.5" fill="url(#gO2)"/><circle cx="1113" cy="405.3" r="2.9" fill="#fff" opacity="0.6"/><circle cx="1121.6" cy="410.4" r="2.3" fill="#fff" opacity="0.45"/>
<circle cx="1117.6" cy="244.2" r="11" fill="url(#gG2)"/><circle cx="1114.3" cy="243.1" r="2.4" fill="#8fc27a" opacity="0.5"/><circle cx="1120.9" cy="246.9" r="2" fill="#8fc27a" opacity="0.4"/>
<circle cx="1082.5" cy="305.2" r="11" fill="url(#gG2)"/><circle cx="1079.2" cy="304.1" r="2.4" fill="#8fc27a" opacity="0.5"/><circle cx="1085.8" cy="307.9" r="2" fill="#8fc27a" opacity="0.4"/>
<circle cx="1152.5" cy="305.2" r="11" fill="url(#gG2)"/><circle cx="1149.2" cy="304.1" r="2.4" fill="#8fc27a" opacity="0.5"/><circle cx="1155.8" cy="307.9" r="2" fill="#8fc27a" opacity="0.4"/>
<circle cx="1046.2" cy="367.2" r="11" fill="url(#gG2)"/><circle cx="1042.9" cy="366.1" r="2.4" fill="#8fc27a" opacity="0.5"/><circle cx="1049.5" cy="369.9" r="2" fill="#8fc27a" opacity="0.4"/>
<circle cx="1117.6" cy="366.3" r="11" fill="url(#gG2)"/><circle cx="1114.3" cy="365.2" r="2.4" fill="#8fc27a" opacity="0.5"/><circle cx="1120.9" cy="369.1" r="2" fill="#8fc27a" opacity="0.4"/>
<circle cx="1187.9" cy="367.2" r="11" fill="url(#gG2)"/><circle cx="1184.6" cy="366.1" r="2.4" fill="#8fc27a" opacity="0.5"/><circle cx="1191.2" cy="369.9" r="2" fill="#8fc27a" opacity="0.4"/>
<line x1="1046.2" y1="500.5" x2="1080.8" y2="522.3" stroke="#2e5a22" stroke-width="2.2"/>
<line x1="1117" y1="500.5" x2="1117" y2="459.8" stroke="#2e5a22" stroke-width="2.2"/>
<line x1="1117" y1="500.5" x2="1080.8" y2="522.3" stroke="#2e5a22" stroke-width="2.2"/>
<line x1="1117" y1="500.5" x2="1152.5" y2="522.3" stroke="#2e5a22" stroke-width="2.2"/>
<line x1="1188.8" y1="500.5" x2="1152.5" y2="522.3" stroke="#2e5a22" stroke-width="2.2"/>
<line x1="1080.8" y1="561.6" x2="1080.8" y2="522.3" stroke="#2e5a22" stroke-width="2.2"/>
<line x1="1080.8" y1="561.6" x2="1044.8" y2="582.2" stroke="#2e5a22" stroke-width="2.2"/>
<line x1="1080.8" y1="561.6" x2="1117" y2="582.2" stroke="#2e5a22" stroke-width="2.2"/>
<line x1="1152.5" y1="561.6" x2="1152.5" y2="522.3" stroke="#2e5a22" stroke-width="2.2"/>
<line x1="1152.5" y1="561.6" x2="1117" y2="582.2" stroke="#2e5a22" stroke-width="2.2"/>
<line x1="1152.5" y1="561.6" x2="1188.8" y2="582.2" stroke="#2e5a22" stroke-width="2.2"/>
<line x1="1117" y1="622" x2="1117" y2="582.2" stroke="#2e5a22" stroke-width="2.2"/>
<line x1="1117" y1="459.8" x2="1080.8" y2="480.4" stroke="#eeae84" stroke-width="2.2"/>
<line x1="1117" y1="459.8" x2="1152.5" y2="480.4" stroke="#eeae84" stroke-width="2.2"/>
<line x1="1080.8" y1="522.3" x2="1080.8" y2="480.4" stroke="#eeae84" stroke-width="2.2"/>
<line x1="1080.8" y1="522.3" x2="1044.8" y2="542.4" stroke="#eeae84" stroke-width="2.2"/>
<line x1="1080.8" y1="522.3" x2="1117" y2="542.4" stroke="#eeae84" stroke-width="2.2"/>
<line x1="1152.5" y1="522.3" x2="1152.5" y2="480.4" stroke="#eeae84" stroke-width="2.2"/>
<line x1="1152.5" y1="522.3" x2="1117" y2="542.4" stroke="#eeae84" stroke-width="2.2"/>
<line x1="1152.5" y1="522.3" x2="1188.8" y2="542.4" stroke="#eeae84" stroke-width="2.2"/>
<line x1="1044.8" y1="582.2" x2="1044.8" y2="542.4" stroke="#eeae84" stroke-width="2.2"/>
<line x1="1044.8" y1="582.2" x2="1080.8" y2="601.4" stroke="#eeae84" stroke-width="2.2"/>
<line x1="1117" y1="582.2" x2="1117" y2="542.4" stroke="#eeae84" stroke-width="2.2"/>
<line x1="1117" y1="582.2" x2="1080.8" y2="601.4" stroke="#eeae84" stroke-width="2.2"/>
<line x1="1117" y1="582.2" x2="1152.5" y2="601.4" stroke="#eeae84" stroke-width="2.2"/>
<line x1="1188.8" y1="582.2" x2="1188.8" y2="542.4" stroke="#eeae84" stroke-width="2.2"/>
<line x1="1188.8" y1="582.2" x2="1152.5" y2="601.4" stroke="#eeae84" stroke-width="2.2"/>
<circle cx="1046.2" cy="500.5" r="7.5" fill="url(#gG2)"/>
<circle cx="1117" cy="500.5" r="7.5" fill="url(#gG2)"/>
<circle cx="1188.8" cy="500.5" r="7.5" fill="url(#gG2)"/>
<circle cx="1080.8" cy="561.6" r="7.5" fill="url(#gG2)"/>
<circle cx="1152.5" cy="561.6" r="7.5" fill="url(#gG2)"/>
<circle cx="1117" cy="622" r="7.5" fill="url(#gG2)"/>
<circle cx="1117" cy="459.8" r="11" fill="url(#gG2)"/><circle cx="1113.7" cy="458.7" r="2.4" fill="#8fc27a" opacity="0.5"/><circle cx="1120.3" cy="462.6" r="2" fill="#8fc27a" opacity="0.4"/>
<circle cx="1080.8" cy="522.3" r="11" fill="url(#gG2)"/><circle cx="1077.5" cy="521.2" r="2.4" fill="#8fc27a" opacity="0.5"/><circle cx="1084.1" cy="525" r="2" fill="#8fc27a" opacity="0.4"/>
<circle cx="1152.5" cy="522.3" r="11" fill="url(#gG2)"/><circle cx="1149.2" cy="521.2" r="2.4" fill="#8fc27a" opacity="0.5"/><circle cx="1155.8" cy="525" r="2" fill="#8fc27a" opacity="0.4"/>
<circle cx="1044.8" cy="582.2" r="11" fill="url(#gG2)"/><circle cx="1041.5" cy="581.1" r="2.4" fill="#8fc27a" opacity="0.5"/><circle cx="1048.1" cy="585" r="2" fill="#8fc27a" opacity="0.4"/>
<circle cx="1117" cy="582.2" r="11" fill="url(#gG2)"/><circle cx="1113.7" cy="581.1" r="2.4" fill="#8fc27a" opacity="0.5"/><circle cx="1120.3" cy="585" r="2" fill="#8fc27a" opacity="0.4"/>
<circle cx="1188.8" cy="582.2" r="11" fill="url(#gG2)"/><circle cx="1185.5" cy="581.1" r="2.4" fill="#8fc27a" opacity="0.5"/><circle cx="1192.1" cy="585" r="2" fill="#8fc27a" opacity="0.4"/>
<circle cx="1080.8" cy="480.4" r="11.5" fill="url(#gO2)"/><circle cx="1076.2" cy="478.7" r="2.9" fill="#fff" opacity="0.6"/><circle cx="1084.8" cy="483.8" r="2.3" fill="#fff" opacity="0.45"/>
<circle cx="1152.5" cy="480.4" r="11.5" fill="url(#gO2)"/><circle cx="1147.9" cy="478.7" r="2.9" fill="#fff" opacity="0.6"/><circle cx="1156.5" cy="483.8" r="2.3" fill="#fff" opacity="0.45"/>
<circle cx="1044.8" cy="542.4" r="11.5" fill="url(#gO2)"/><circle cx="1040.2" cy="540.7" r="2.9" fill="#fff" opacity="0.6"/><circle cx="1048.8" cy="545.9" r="2.3" fill="#fff" opacity="0.45"/>
<circle cx="1117" cy="542.4" r="11.5" fill="url(#gO2)"/><circle cx="1112.4" cy="540.7" r="2.9" fill="#fff" opacity="0.6"/><circle cx="1121" cy="545.9" r="2.3" fill="#fff" opacity="0.45"/>
<circle cx="1188.8" cy="542.4" r="11.5" fill="url(#gO2)"/><circle cx="1184.2" cy="540.7" r="2.9" fill="#fff" opacity="0.6"/><circle cx="1192.8" cy="545.9" r="2.3" fill="#fff" opacity="0.45"/>
<circle cx="1080.8" cy="601.4" r="11.5" fill="url(#gO2)"/><circle cx="1076.2" cy="599.7" r="2.9" fill="#fff" opacity="0.6"/><circle cx="1084.8" cy="604.9" r="2.3" fill="#fff" opacity="0.45"/>
<circle cx="1152.5" cy="601.4" r="11.5" fill="url(#gO2)"/><circle cx="1147.9" cy="599.7" r="2.9" fill="#fff" opacity="0.6"/><circle cx="1156.5" cy="604.9" r="2.3" fill="#fff" opacity="0.45"/>
<circle cx="1117" cy="459.8" r="8" fill="url(#gO2)"/>
<circle cx="1080.8" cy="522.3" r="8" fill="url(#gO2)"/>
<circle cx="1152.5" cy="522.3" r="8" fill="url(#gO2)"/>
<circle cx="1044.8" cy="582.2" r="8" fill="url(#gO2)"/>
<circle cx="1117" cy="582.2" r="8" fill="url(#gO2)"/>
<circle cx="1188.8" cy="582.2" r="8" fill="url(#gO2)"/>
<text x="1199.9" y="203.3" font-size="39.10" font-style="italic" textLength="29.34" lengthAdjust="spacingAndGlyphs">R</text><text x="1230.4" y="187.0" font-size="26.81" textLength="14.67" lengthAdjust="spacingAndGlyphs">h</text><text x="1230.4" y="215.9" font-size="26.81" textLength="14.67" lengthAdjust="spacingAndGlyphs">h</text>
<text x="1199.9" y="428.9" font-size="39.10" font-style="italic" textLength="29.34" lengthAdjust="spacingAndGlyphs">R</text><text x="1230.1" y="411.8" font-size="27.80" textLength="21.07" lengthAdjust="spacingAndGlyphs">X</text><text x="1230.4" y="440.5" font-size="26.81" textLength="14.67" lengthAdjust="spacingAndGlyphs">h</text>
<text x="1199.9" y="638.4" font-size="39.10" font-style="italic" textLength="29.34" lengthAdjust="spacingAndGlyphs">R</text><text x="1229.8" y="621.7" font-size="27.80" textLength="26.75" lengthAdjust="spacingAndGlyphs">M</text><text x="1230.4" y="650.5" font-size="26.81" textLength="14.67" lengthAdjust="spacingAndGlyphs">h</text>
<polyline points="1405.80,204.00 1419.80,229.13 1439.60,260.99 1455.40,287.52 1473.90,314.06 1489.80,332.65 1508.20,349.94 1524.10,359.18 1537.30,362.40 1540.60,362.40 1555.10,359.18 1569.60,349.94 1585.40,333.96 1601.30,314.06 1617.10,290.24 1631.60,263.70 1646.20,233.15 1661.50,204.00" fill="none" stroke="#bb0000" stroke-width="3" stroke-linejoin="round" stroke-linecap="round"/>
<polyline points="1808.30,204.00 1822.30,229.13 1842.10,260.99 1857.90,287.52 1876.40,314.06 1892.30,332.65 1910.70,349.94 1926.60,359.18 1939.80,362.40 1943.10,362.40 1957.60,359.18 1972.10,349.94 1987.90,333.96 2003.80,314.06 2019.60,290.24 2034.10,263.70 2048.70,233.15 2064.00,204.00" fill="none" stroke="#bb0000" stroke-width="3" stroke-linejoin="round" stroke-linecap="round"/>
<polyline points="1895.80,204.00 1909.80,229.13 1929.60,260.99 1945.40,287.52 1963.90,314.06 1979.80,332.65 1998.20,349.94 2014.10,359.18 2027.30,362.40 2030.60,362.40 2045.10,359.18 2059.60,349.94 2075.40,333.96 2091.30,314.06 2107.10,290.24 2121.60,263.70 2136.20,233.15 2151.50,204.00" fill="none" stroke="#bb0000" stroke-width="3" stroke-linejoin="round" stroke-linecap="round"/>
<polyline points="1983.30,204.00 1997.30,229.13 2017.10,260.99 2032.90,287.52 2051.40,314.06 2067.30,332.65 2085.70,349.94 2101.60,359.18 2114.80,362.40 2118.10,362.40 2132.60,359.18 2147.10,349.94 2162.90,333.96 2178.80,314.06 2194.60,290.24 2209.10,263.70 2223.70,233.15 2239.00,204.00" fill="none" stroke="#bb0000" stroke-width="3" stroke-linejoin="round" stroke-linecap="round"/>
<line x1="1982.6" y1="62.8" x2="1982.6" y2="467.7" stroke="#4472c4" stroke-width="3" stroke-linecap="round" stroke-dasharray="9.8 12.4"/>
<line x1="2069.2" y1="62.8" x2="2069.2" y2="467.7" stroke="#4472c4" stroke-width="3" stroke-linecap="round" stroke-dasharray="9.8 12.4"/>
<line x1="2494.3" y1="62.8" x2="2494.3" y2="467.7" stroke="#4472c4" stroke-width="3" stroke-linecap="round" stroke-dasharray="9.8 12.4"/>
<line x1="2581.1" y1="62.8" x2="2581.1" y2="467.7" stroke="#4472c4" stroke-width="3" stroke-linecap="round" stroke-dasharray="9.8 12.4"/>
<line x1="1662" y1="292.2" x2="1795" y2="292.2" stroke="#4472c4" stroke-width="4.2"/>
<path d="M1809 292.2 L1794 281.2 L1794 303.9 Z" fill="#4472c4"/>
<line x1="2269" y1="292.2" x2="2402" y2="292.2" stroke="#4472c4" stroke-width="4.2"/>
<path d="M2416 292.2 L2401 281.2 L2401 303.9 Z" fill="#4472c4"/>
<path d="M2491.6 147.4 C2505 150 2512 168 2524 194 C2531 210 2534 213.5 2537.1 213.5 C2540 213.5 2544 210 2551 195 C2563 168 2569 150 2581.7 147.4" fill="none" stroke="#bb0000" stroke-width="3" stroke-linecap="round"/>
<path d="M2491.7 293.6 C2505 291 2515 275 2524 260 C2530 251 2533 247.2 2537 247.2 C2541 247.2 2545 251 2551 260 C2560 275 2570 291 2582 293.6" fill="none" stroke="#bb0000" stroke-width="3" stroke-linecap="round"/>
<path d="M2491.7 326.6 C2510 327 2522 345.6 2537 345.6 C2552 345.6 2564 327 2582 326.6" fill="none" stroke="#bb0000" stroke-width="3" stroke-linecap="round"/>
<text x="1610.8" y="354.9" font-size="40.93" textLength="108.83" lengthAdjust="spacingAndGlyphs">Moiré</text>
<text x="1734.7" y="354.9" font-size="40.93" textLength="121.32" lengthAdjust="spacingAndGlyphs">lattice</text>
<text x="2245.5" y="354.8" font-size="39.40" textLength="90.51" lengthAdjust="spacingAndGlyphs">First</text>
<text x="2354.6" y="354.8" font-size="39.40" textLength="83.73" lengthAdjust="spacingAndGlyphs">mini</text>
<text x="2207.8" y="399.1" font-size="39.40" textLength="167.74" lengthAdjust="spacingAndGlyphs">Brillouin</text>
<text x="2392.0" y="399.1" font-size="39.40" textLength="86.11" lengthAdjust="spacingAndGlyphs">zone</text>
<text x="2248.0" y="551.8" font-size="39.86" textLength="108.62" lengthAdjust="spacingAndGlyphs">Moiré</text>
<text x="2371.5" y="551.8" font-size="39.86" textLength="84.34" lengthAdjust="spacingAndGlyphs">mini</text>
<text x="2475.9" y="551.8" font-size="39.86" textLength="91.47" lengthAdjust="spacingAndGlyphs">band</text>
<text x="1501.2" y="527.9" font-size="38.48" textLength="20.31" lengthAdjust="spacingAndGlyphs">1</text>
<rect x="1498" y="535" width="27.3" height="2.9" fill="#000"/>
<text x="1500.7" y="563.6" font-size="34.93" font-style="italic" textLength="23.23" lengthAdjust="spacingAndGlyphs">a</text>
<rect x="1535.3" y="530.4" width="26.9" height="2.2" fill="#000"/><rect x="1535.3" y="537.7" width="26.9" height="2.2" fill="#000"/>
<text x="1574.9" y="544.9" font-size="38.68" textLength="44.05" lengthAdjust="spacingAndGlyphs">10</text>
<text x="1618.9" y="533.2" font-size="27.56" textLength="31.23" lengthAdjust="spacingAndGlyphs">10</text>
<text x="1666.1" y="545.3" font-size="38.20" textLength="34.53" lengthAdjust="spacingAndGlyphs">m</text>
<rect x="1707.3" y="525.7" width="17.4" height="2" fill="#000"/>
<text x="1724.2" y="532.9" font-size="27.27" textLength="20.31" lengthAdjust="spacingAndGlyphs">1</text>
<text x="1919.3" y="527.9" font-size="38.48" textLength="20.31" lengthAdjust="spacingAndGlyphs">1</text>
<rect x="1906.1" y="535.2" width="47.3" height="2.9" fill="#000"/>
<text x="1905.7" y="563.6" font-size="34.93" font-style="italic" textLength="23.35" lengthAdjust="spacingAndGlyphs">a</text>
<text x="1929.3" y="569.5" font-size="26.32" textLength="24.56" lengthAdjust="spacingAndGlyphs">m</text>
<rect x="1963.3" y="530.4" width="27.1" height="2.2" fill="#000"/><rect x="1963.3" y="537.7" width="27.1" height="2.2" fill="#000"/>
<text x="2002.9" y="544.9" font-size="38.68" textLength="44.05" lengthAdjust="spacingAndGlyphs">10</text>
<text x="2047.3" y="533.2" font-size="27.56" textLength="14.63" lengthAdjust="spacingAndGlyphs">8</text>
<text x="2079.1" y="545.3" font-size="38.20" textLength="34.00" lengthAdjust="spacingAndGlyphs">m</text>
<rect x="2119.2" y="525.7" width="17.4" height="2" fill="#000"/>
<text x="2137.5" y="532.9" font-size="27.27" textLength="19.46" lengthAdjust="spacingAndGlyphs">1</text>
</svg></body></html>
